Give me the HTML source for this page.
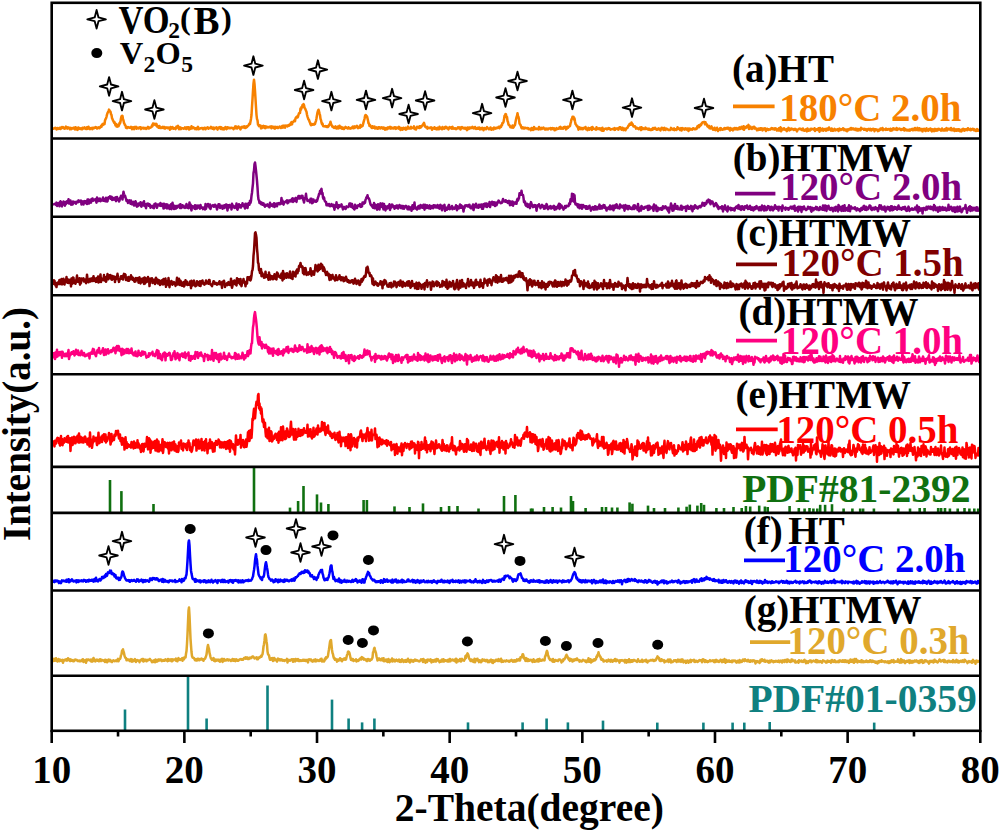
<!DOCTYPE html>
<html><head><meta charset="utf-8"><style>html,body{margin:0;padding:0;background:#fff;width:1000px;height:830px;overflow:hidden}svg{display:block}</style></head>
<body><svg width="1000" height="830" viewBox="0 0 1000 830">
<rect width="1000" height="830" fill="#fff"/>
<path d="M53.0,128.6 L53.5,128.8 L54.0,128.3 L54.5,127.9 L55.0,128.2 L55.5,127.8 L56.0,128.6 L56.5,129.5 L57.0,128.2 L57.5,128.1 L58.0,128.9 L58.5,128.8 L59.0,128.6 L59.5,127.8 L60.0,128.5 L60.5,129.0 L61.0,127.5 L61.5,128.2 L62.0,127.1 L62.5,127.5 L63.0,127.1 L63.5,128.3 L64.0,127.6 L64.5,128.7 L65.0,128.6 L65.5,128.4 L66.0,126.6 L66.5,128.1 L67.0,128.4 L67.5,128.6 L68.0,127.3 L68.5,128.1 L69.0,127.7 L69.5,127.9 L70.0,129.3 L70.5,127.9 L71.0,128.4 L71.5,129.1 L72.0,128.0 L72.5,128.4 L73.0,128.5 L73.5,128.5 L74.0,127.5 L74.5,128.5 L75.0,129.5 L75.5,127.3 L76.0,129.1 L76.5,128.5 L77.0,127.9 L77.5,129.9 L78.0,129.0 L78.5,127.5 L79.0,128.4 L79.5,128.8 L80.0,128.2 L80.5,128.9 L81.0,128.3 L81.5,128.9 L82.0,129.4 L82.5,127.8 L83.0,128.5 L83.5,128.0 L84.0,128.4 L84.5,127.4 L85.0,127.9 L85.5,128.2 L86.0,129.0 L86.5,129.1 L87.0,127.3 L87.5,127.7 L88.0,128.7 L88.5,126.7 L89.0,127.9 L89.5,128.1 L90.0,129.1 L90.5,128.7 L91.0,127.9 L91.5,127.9 L92.0,127.9 L92.5,129.2 L93.0,127.7 L93.5,127.8 L94.0,128.3 L94.5,127.9 L95.0,127.8 L95.5,127.1 L96.0,127.8 L96.5,127.5 L97.0,128.6 L97.5,128.2 L98.0,127.6 L98.5,128.0 L99.0,127.2 L99.5,128.1 L100.0,127.2 L100.5,127.4 L101.0,125.8 L101.5,126.8 L102.0,124.9 L102.5,124.1 L103.0,124.9 L103.5,123.7 L104.0,123.6 L104.5,124.1 L105.0,120.5 L105.5,119.2 L106.0,118.3 L106.5,116.8 L107.0,114.6 L107.5,113.0 L108.0,112.3 L108.5,111.2 L109.0,109.6 L109.5,110.5 L110.0,111.3 L110.5,111.7 L111.0,114.2 L111.5,115.0 L112.0,118.1 L112.5,119.1 L113.0,120.5 L113.5,121.2 L114.0,122.7 L114.5,122.2 L115.0,123.6 L115.5,125.3 L116.0,123.9 L116.5,126.4 L117.0,124.7 L117.5,126.6 L118.0,125.3 L118.5,126.3 L119.0,125.2 L119.5,122.9 L120.0,123.5 L120.5,121.6 L121.0,118.3 L121.5,116.3 L122.0,115.7 L122.5,115.9 L123.0,119.4 L123.5,120.4 L124.0,122.9 L124.5,123.9 L125.0,125.2 L125.5,125.5 L126.0,127.8 L126.5,127.1 L127.0,128.1 L127.5,127.5 L128.0,127.1 L128.5,127.4 L129.0,127.3 L129.5,127.8 L130.0,127.6 L130.5,127.7 L131.0,126.9 L131.5,127.3 L132.0,129.2 L132.5,127.5 L133.0,127.2 L133.5,128.3 L134.0,129.1 L134.5,127.0 L135.0,127.9 L135.5,127.6 L136.0,126.8 L136.5,128.7 L137.0,128.1 L137.5,128.2 L138.0,127.6 L138.5,128.5 L139.0,127.7 L139.5,128.0 L140.0,127.3 L140.5,127.2 L141.0,129.1 L141.5,127.7 L142.0,128.3 L142.5,128.1 L143.0,127.8 L143.5,127.7 L144.0,128.6 L144.5,127.9 L145.0,128.0 L145.5,128.1 L146.0,128.9 L146.5,128.5 L147.0,128.3 L147.5,127.5 L148.0,126.9 L148.5,128.5 L149.0,128.4 L149.5,127.5 L150.0,127.8 L150.5,127.6 L151.0,127.3 L151.5,126.9 L152.0,125.3 L152.5,126.1 L153.0,123.4 L153.5,124.4 L154.0,123.7 L154.5,123.9 L155.0,124.9 L155.5,125.1 L156.0,123.7 L156.5,124.0 L157.0,126.5 L157.5,125.7 L158.0,126.8 L158.5,127.8 L159.0,126.2 L159.5,126.1 L160.0,128.0 L160.5,127.9 L161.0,127.7 L161.5,128.0 L162.0,127.4 L162.5,126.9 L163.0,127.9 L163.5,127.4 L164.0,126.9 L164.5,128.5 L165.0,128.1 L165.5,128.4 L166.0,127.4 L166.5,127.7 L167.0,127.4 L167.5,127.5 L168.0,128.3 L168.5,127.6 L169.0,128.4 L169.5,128.4 L170.0,129.7 L170.5,127.1 L171.0,128.9 L171.5,128.1 L172.0,128.2 L172.5,127.1 L173.0,127.9 L173.5,128.8 L174.0,128.1 L174.5,128.3 L175.0,128.0 L175.5,129.1 L176.0,128.2 L176.5,126.6 L177.0,127.7 L177.5,126.7 L178.0,125.8 L178.5,127.8 L179.0,129.2 L179.5,128.2 L180.0,127.3 L180.5,127.5 L181.0,129.1 L181.5,128.3 L182.0,128.2 L182.5,128.2 L183.0,128.2 L183.5,128.8 L184.0,128.6 L184.5,128.4 L185.0,127.4 L185.5,128.6 L186.0,127.7 L186.5,129.0 L187.0,127.2 L187.5,128.1 L188.0,128.2 L188.5,127.2 L189.0,129.5 L189.5,129.3 L190.0,127.8 L190.5,128.8 L191.0,128.5 L191.5,126.2 L192.0,128.4 L192.5,128.1 L193.0,128.2 L193.5,127.4 L194.0,128.0 L194.5,128.0 L195.0,129.1 L195.5,128.4 L196.0,128.2 L196.5,129.3 L197.0,127.8 L197.5,127.9 L198.0,126.8 L198.5,129.3 L199.0,128.9 L199.5,128.9 L200.0,128.7 L200.5,128.2 L201.0,128.3 L201.5,128.0 L202.0,128.0 L202.5,128.2 L203.0,129.3 L203.5,128.6 L204.0,128.1 L204.5,127.7 L205.0,127.7 L205.5,129.3 L206.0,128.5 L206.5,128.2 L207.0,127.9 L207.5,127.3 L208.0,128.1 L208.5,128.8 L209.0,127.8 L209.5,128.0 L210.0,128.0 L210.5,128.2 L211.0,126.9 L211.5,127.9 L212.0,127.5 L212.5,128.8 L213.0,127.5 L213.5,128.5 L214.0,129.3 L214.5,127.9 L215.0,127.7 L215.5,128.2 L216.0,128.1 L216.5,127.3 L217.0,128.4 L217.5,129.6 L218.0,127.9 L218.5,127.9 L219.0,127.3 L219.5,128.3 L220.0,127.1 L220.5,127.2 L221.0,129.0 L221.5,127.4 L222.0,128.9 L222.5,129.2 L223.0,128.2 L223.5,128.5 L224.0,129.5 L224.5,127.9 L225.0,127.6 L225.5,127.0 L226.0,128.1 L226.5,129.1 L227.0,128.7 L227.5,127.3 L228.0,127.4 L228.5,127.6 L229.0,128.2 L229.5,127.8 L230.0,128.1 L230.5,128.2 L231.0,127.7 L231.5,127.9 L232.0,128.1 L232.5,127.9 L233.0,128.3 L233.5,129.3 L234.0,128.3 L234.5,127.9 L235.0,126.6 L235.5,128.2 L236.0,126.4 L236.5,126.8 L237.0,128.5 L237.5,128.3 L238.0,127.7 L238.5,126.5 L239.0,127.5 L239.5,127.2 L240.0,128.2 L240.5,129.4 L241.0,127.8 L241.5,127.0 L242.0,126.7 L242.5,127.5 L243.0,127.3 L243.5,126.5 L244.0,127.4 L244.5,126.4 L245.0,128.0 L245.5,127.9 L246.0,127.7 L246.5,126.4 L247.0,127.0 L247.5,126.3 L248.0,125.8 L248.5,125.5 L249.0,124.3 L249.5,123.5 L250.0,124.1 L250.5,121.6 L251.0,118.9 L251.5,115.0 L252.0,106.6 L252.5,99.1 L253.0,90.9 L253.5,83.4 L254.0,79.7 L254.5,83.9 L255.0,90.9 L255.5,98.8 L256.0,107.2 L256.5,114.8 L257.0,119.1 L257.5,120.2 L258.0,124.5 L258.5,125.0 L259.0,126.2 L259.5,125.4 L260.0,125.8 L260.5,125.5 L261.0,128.4 L261.5,126.5 L262.0,128.0 L262.5,126.4 L263.0,127.1 L263.5,125.8 L264.0,126.9 L264.5,128.0 L265.0,126.3 L265.5,128.1 L266.0,127.6 L266.5,126.6 L267.0,127.0 L267.5,127.1 L268.0,127.4 L268.5,127.1 L269.0,126.9 L269.5,127.3 L270.0,126.7 L270.5,126.5 L271.0,127.5 L271.5,128.2 L272.0,126.4 L272.5,127.5 L273.0,127.0 L273.5,126.8 L274.0,128.2 L274.5,127.1 L275.0,128.6 L275.5,126.9 L276.0,127.8 L276.5,127.3 L277.0,126.9 L277.5,127.9 L278.0,127.3 L278.5,127.9 L279.0,127.4 L279.5,126.5 L280.0,127.3 L280.5,127.3 L281.0,128.0 L281.5,126.6 L282.0,127.2 L282.5,125.9 L283.0,127.6 L283.5,126.2 L284.0,125.6 L284.5,126.9 L285.0,127.7 L285.5,125.6 L286.0,125.8 L286.5,125.9 L287.0,125.5 L287.5,126.4 L288.0,125.3 L288.5,125.1 L289.0,125.8 L289.5,124.5 L290.0,125.0 L290.5,123.6 L291.0,123.0 L291.5,122.1 L292.0,124.4 L292.5,122.2 L293.0,122.1 L293.5,121.4 L294.0,121.0 L294.5,120.3 L295.0,121.2 L295.5,118.4 L296.0,117.5 L296.5,117.3 L297.0,116.5 L297.5,117.4 L298.0,116.7 L298.5,114.6 L299.0,113.3 L299.5,112.9 L300.0,113.0 L300.5,108.5 L301.0,109.7 L301.5,107.1 L302.0,107.5 L302.5,105.0 L303.0,105.1 L303.5,104.1 L304.0,105.0 L304.5,107.7 L305.0,108.6 L305.5,109.3 L306.0,110.8 L306.5,111.8 L307.0,114.7 L307.5,116.6 L308.0,118.1 L308.5,119.5 L309.0,119.9 L309.5,121.7 L310.0,122.6 L310.5,124.3 L311.0,125.3 L311.5,124.2 L312.0,124.0 L312.5,124.8 L313.0,124.4 L313.5,124.3 L314.0,124.6 L314.5,123.5 L315.0,124.0 L315.5,122.2 L316.0,120.8 L316.5,118.3 L317.0,115.2 L317.5,112.4 L318.0,110.8 L318.5,109.7 L319.0,111.2 L319.5,113.3 L320.0,115.0 L320.5,118.8 L321.0,120.1 L321.5,122.5 L322.0,124.0 L322.5,123.6 L323.0,125.8 L323.5,126.3 L324.0,126.3 L324.5,126.3 L325.0,126.4 L325.5,126.1 L326.0,126.7 L326.5,126.5 L327.0,127.0 L327.5,126.0 L328.0,126.9 L328.5,126.4 L329.0,125.5 L329.5,124.3 L330.0,123.9 L330.5,121.7 L331.0,123.9 L331.5,124.9 L332.0,126.0 L332.5,126.9 L333.0,126.5 L333.5,127.1 L334.0,127.9 L334.5,127.8 L335.0,127.7 L335.5,126.4 L336.0,128.0 L336.5,128.5 L337.0,128.4 L337.5,127.8 L338.0,126.5 L338.5,128.4 L339.0,127.6 L339.5,125.8 L340.0,128.0 L340.5,126.6 L341.0,126.8 L341.5,127.3 L342.0,128.7 L342.5,127.5 L343.0,128.0 L343.5,129.1 L344.0,129.0 L344.5,127.7 L345.0,127.6 L345.5,126.9 L346.0,127.3 L346.5,128.1 L347.0,128.1 L347.5,127.9 L348.0,128.6 L348.5,127.2 L349.0,127.8 L349.5,128.4 L350.0,128.2 L350.5,128.6 L351.0,128.1 L351.5,127.6 L352.0,128.1 L352.5,127.0 L353.0,126.5 L353.5,128.2 L354.0,127.7 L354.5,128.0 L355.0,126.4 L355.5,127.4 L356.0,127.2 L356.5,127.0 L357.0,125.9 L357.5,127.3 L358.0,128.2 L358.5,127.7 L359.0,126.9 L359.5,127.3 L360.0,127.7 L360.5,124.9 L361.0,126.6 L361.5,126.7 L362.0,126.2 L362.5,126.1 L363.0,124.5 L363.5,122.4 L364.0,120.6 L364.5,119.0 L365.0,116.1 L365.5,115.1 L366.0,115.2 L366.5,116.6 L367.0,116.4 L367.5,118.4 L368.0,120.5 L368.5,123.2 L369.0,123.6 L369.5,125.9 L370.0,125.0 L370.5,126.1 L371.0,126.6 L371.5,127.6 L372.0,128.0 L372.5,126.2 L373.0,126.7 L373.5,127.8 L374.0,127.1 L374.5,126.5 L375.0,128.5 L375.5,128.1 L376.0,128.1 L376.5,127.4 L377.0,128.6 L377.5,127.7 L378.0,128.7 L378.5,127.2 L379.0,127.3 L379.5,128.1 L380.0,127.4 L380.5,128.4 L381.0,128.1 L381.5,127.3 L382.0,128.0 L382.5,127.7 L383.0,128.7 L383.5,127.5 L384.0,127.7 L384.5,128.9 L385.0,129.7 L385.5,129.5 L386.0,128.1 L386.5,128.2 L387.0,129.2 L387.5,127.9 L388.0,127.3 L388.5,128.1 L389.0,128.4 L389.5,127.4 L390.0,126.8 L390.5,127.0 L391.0,128.6 L391.5,127.5 L392.0,128.0 L392.5,128.2 L393.0,128.5 L393.5,127.8 L394.0,128.5 L394.5,127.4 L395.0,127.8 L395.5,127.3 L396.0,128.9 L396.5,128.1 L397.0,127.5 L397.5,127.8 L398.0,127.9 L398.5,128.6 L399.0,126.9 L399.5,127.3 L400.0,127.8 L400.5,130.0 L401.0,128.8 L401.5,128.0 L402.0,128.7 L402.5,129.7 L403.0,127.9 L403.5,127.8 L404.0,129.0 L404.5,128.5 L405.0,128.6 L405.5,127.7 L406.0,129.6 L406.5,129.4 L407.0,128.6 L407.5,128.6 L408.0,126.6 L408.5,128.6 L409.0,128.0 L409.5,128.5 L410.0,128.6 L410.5,127.9 L411.0,126.9 L411.5,128.4 L412.0,127.6 L412.5,127.9 L413.0,127.7 L413.5,127.8 L414.0,126.4 L414.5,129.0 L415.0,128.3 L415.5,128.9 L416.0,129.5 L416.5,128.1 L417.0,126.7 L417.5,127.3 L418.0,127.1 L418.5,127.6 L419.0,127.9 L419.5,126.3 L420.0,127.9 L420.5,126.3 L421.0,127.3 L421.5,126.6 L422.0,125.8 L422.5,125.4 L423.0,124.4 L423.5,123.9 L424.0,122.9 L424.5,124.5 L425.0,126.4 L425.5,127.2 L426.0,127.3 L426.5,127.4 L427.0,126.7 L427.5,128.6 L428.0,127.7 L428.5,127.8 L429.0,127.7 L429.5,128.1 L430.0,127.7 L430.5,128.0 L431.0,127.3 L431.5,127.8 L432.0,129.8 L432.5,128.1 L433.0,128.0 L433.5,128.5 L434.0,128.7 L434.5,127.3 L435.0,128.0 L435.5,128.9 L436.0,128.4 L436.5,128.3 L437.0,129.4 L437.5,127.7 L438.0,128.3 L438.5,127.8 L439.0,129.3 L439.5,126.7 L440.0,127.7 L440.5,127.8 L441.0,128.7 L441.5,128.7 L442.0,129.3 L442.5,127.0 L443.0,128.8 L443.5,128.0 L444.0,127.7 L444.5,128.6 L445.0,127.5 L445.5,126.7 L446.0,128.0 L446.5,127.1 L447.0,127.8 L447.5,128.5 L448.0,128.5 L448.5,129.4 L449.0,128.1 L449.5,127.1 L450.0,127.7 L450.5,127.6 L451.0,127.3 L451.5,128.6 L452.0,127.8 L452.5,126.8 L453.0,128.8 L453.5,128.2 L454.0,128.5 L454.5,128.3 L455.0,128.7 L455.5,128.3 L456.0,129.2 L456.5,128.6 L457.0,128.6 L457.5,128.6 L458.0,127.2 L458.5,128.2 L459.0,128.1 L459.5,128.4 L460.0,127.3 L460.5,129.5 L461.0,128.4 L461.5,127.4 L462.0,127.0 L462.5,128.1 L463.0,128.2 L463.5,127.8 L464.0,128.4 L464.5,127.8 L465.0,128.7 L465.5,127.8 L466.0,128.3 L466.5,129.1 L467.0,130.2 L467.5,127.6 L468.0,128.0 L468.5,127.7 L469.0,128.9 L469.5,127.5 L470.0,128.0 L470.5,128.3 L471.0,127.6 L471.5,127.6 L472.0,128.0 L472.5,126.8 L473.0,127.3 L473.5,128.0 L474.0,128.5 L474.5,128.2 L475.0,127.0 L475.5,128.0 L476.0,128.9 L476.5,128.8 L477.0,128.3 L477.5,127.7 L478.0,128.8 L478.5,127.9 L479.0,127.5 L479.5,127.7 L480.0,129.4 L480.5,128.5 L481.0,129.2 L481.5,128.0 L482.0,129.0 L482.5,127.9 L483.0,128.2 L483.5,130.2 L484.0,128.9 L484.5,128.0 L485.0,128.3 L485.5,128.6 L486.0,129.2 L486.5,128.0 L487.0,127.0 L487.5,128.1 L488.0,128.3 L488.5,128.4 L489.0,129.3 L489.5,128.5 L490.0,128.9 L490.5,127.5 L491.0,128.9 L491.5,129.8 L492.0,128.8 L492.5,128.4 L493.0,128.3 L493.5,129.5 L494.0,127.5 L494.5,128.1 L495.0,128.5 L495.5,128.7 L496.0,127.7 L496.5,128.3 L497.0,127.8 L497.5,128.0 L498.0,127.7 L498.5,126.9 L499.0,127.6 L499.5,128.2 L500.0,126.6 L500.5,126.8 L501.0,127.0 L501.5,125.1 L502.0,125.1 L502.5,122.9 L503.0,123.0 L503.5,121.9 L504.0,119.6 L504.5,115.9 L505.0,115.0 L505.5,114.0 L506.0,114.5 L506.5,117.2 L507.0,117.0 L507.5,120.9 L508.0,122.0 L508.5,124.6 L509.0,124.9 L509.5,125.2 L510.0,126.5 L510.5,127.2 L511.0,127.0 L511.5,127.4 L512.0,126.7 L512.5,125.5 L513.0,127.7 L513.5,127.3 L514.0,126.4 L514.5,125.5 L515.0,125.0 L515.5,122.0 L516.0,119.5 L516.5,117.3 L517.0,116.1 L517.5,113.3 L518.0,116.2 L518.5,117.0 L519.0,119.3 L519.5,123.5 L520.0,124.4 L520.5,124.8 L521.0,126.3 L521.5,127.9 L522.0,128.4 L522.5,127.4 L523.0,128.2 L523.5,128.5 L524.0,127.6 L524.5,128.4 L525.0,128.1 L525.5,127.8 L526.0,127.9 L526.5,128.3 L527.0,128.3 L527.5,127.9 L528.0,128.1 L528.5,129.2 L529.0,128.6 L529.5,129.1 L530.0,129.3 L530.5,128.9 L531.0,130.2 L531.5,127.9 L532.0,129.1 L532.5,128.3 L533.0,129.9 L533.5,129.8 L534.0,127.1 L534.5,127.8 L535.0,129.0 L535.5,129.1 L536.0,129.1 L536.5,128.5 L537.0,128.9 L537.5,129.1 L538.0,128.5 L538.5,129.4 L539.0,126.9 L539.5,129.1 L540.0,127.8 L540.5,129.3 L541.0,128.4 L541.5,127.9 L542.0,128.9 L542.5,127.9 L543.0,127.9 L543.5,127.5 L544.0,128.6 L544.5,129.0 L545.0,129.4 L545.5,128.5 L546.0,129.4 L546.5,128.7 L547.0,128.6 L547.5,129.1 L548.0,129.4 L548.5,128.4 L549.0,128.5 L549.5,128.5 L550.0,128.7 L550.5,128.0 L551.0,129.4 L551.5,128.4 L552.0,129.0 L552.5,128.0 L553.0,128.9 L553.5,128.9 L554.0,128.3 L554.5,130.2 L555.0,128.9 L555.5,130.0 L556.0,129.4 L556.5,128.1 L557.0,128.3 L557.5,129.0 L558.0,128.7 L558.5,128.7 L559.0,128.4 L559.5,127.2 L560.0,128.4 L560.5,126.9 L561.0,128.8 L561.5,128.0 L562.0,128.0 L562.5,128.3 L563.0,128.7 L563.5,127.4 L564.0,127.1 L564.5,127.6 L565.0,126.8 L565.5,127.6 L566.0,129.4 L566.5,127.3 L567.0,128.5 L567.5,126.8 L568.0,127.8 L568.5,126.9 L569.0,126.6 L569.5,126.3 L570.0,126.1 L570.5,123.5 L571.0,121.8 L571.5,119.2 L572.0,118.6 L572.5,116.7 L573.0,117.0 L573.5,116.8 L574.0,119.5 L574.5,118.4 L575.0,121.5 L575.5,124.1 L576.0,124.5 L576.5,125.3 L577.0,126.5 L577.5,126.2 L578.0,127.7 L578.5,129.7 L579.0,128.9 L579.5,127.4 L580.0,127.6 L580.5,128.1 L581.0,129.2 L581.5,127.9 L582.0,128.0 L582.5,129.2 L583.0,129.2 L583.5,128.3 L584.0,127.8 L584.5,127.5 L585.0,128.2 L585.5,127.0 L586.0,129.3 L586.5,128.3 L587.0,129.1 L587.5,130.2 L588.0,129.7 L588.5,127.9 L589.0,129.4 L589.5,129.7 L590.0,128.3 L590.5,128.1 L591.0,128.7 L591.5,127.6 L592.0,129.9 L592.5,127.0 L593.0,128.0 L593.5,128.7 L594.0,128.7 L594.5,129.0 L595.0,129.1 L595.5,128.7 L596.0,129.7 L596.5,127.3 L597.0,128.9 L597.5,128.4 L598.0,129.0 L598.5,129.1 L599.0,128.2 L599.5,128.4 L600.0,129.5 L600.5,129.2 L601.0,128.4 L601.5,130.5 L602.0,130.7 L602.5,127.8 L603.0,129.2 L603.5,130.8 L604.0,129.5 L604.5,129.1 L605.0,128.8 L605.5,128.5 L606.0,128.8 L606.5,128.5 L607.0,129.5 L607.5,128.6 L608.0,128.6 L608.5,128.0 L609.0,128.9 L609.5,128.3 L610.0,128.8 L610.5,129.7 L611.0,129.2 L611.5,129.3 L612.0,129.2 L612.5,129.0 L613.0,128.8 L613.5,128.7 L614.0,129.5 L614.5,128.1 L615.0,129.9 L615.5,128.9 L616.0,128.4 L616.5,128.5 L617.0,128.4 L617.5,129.0 L618.0,128.4 L618.5,129.7 L619.0,128.3 L619.5,127.2 L620.0,128.3 L620.5,127.3 L621.0,128.8 L621.5,129.6 L622.0,129.3 L622.5,127.8 L623.0,128.2 L623.5,130.1 L624.0,128.9 L624.5,128.6 L625.0,129.4 L625.5,130.3 L626.0,129.3 L626.5,128.2 L627.0,128.1 L627.5,127.9 L628.0,126.5 L628.5,125.5 L629.0,125.6 L629.5,124.1 L630.0,124.0 L630.5,123.5 L631.0,124.8 L631.5,122.5 L632.0,123.4 L632.5,124.1 L633.0,125.3 L633.5,126.5 L634.0,126.1 L634.5,126.4 L635.0,126.3 L635.5,127.2 L636.0,128.6 L636.5,128.4 L637.0,127.7 L637.5,128.3 L638.0,128.7 L638.5,129.1 L639.0,128.3 L639.5,128.6 L640.0,127.5 L640.5,128.0 L641.0,130.1 L641.5,127.2 L642.0,128.7 L642.5,129.1 L643.0,128.6 L643.5,128.3 L644.0,128.9 L644.5,129.0 L645.0,128.9 L645.5,127.6 L646.0,128.9 L646.5,128.3 L647.0,128.6 L647.5,129.2 L648.0,129.5 L648.5,129.7 L649.0,128.6 L649.5,129.7 L650.0,129.9 L650.5,129.9 L651.0,130.1 L651.5,128.9 L652.0,128.9 L652.5,129.7 L653.0,128.0 L653.5,129.2 L654.0,128.6 L654.5,128.8 L655.0,127.7 L655.5,128.4 L656.0,129.0 L656.5,129.7 L657.0,129.8 L657.5,129.0 L658.0,128.9 L658.5,128.4 L659.0,129.4 L659.5,128.9 L660.0,129.5 L660.5,130.4 L661.0,129.0 L661.5,127.9 L662.0,128.4 L662.5,128.0 L663.0,128.2 L663.5,130.0 L664.0,129.2 L664.5,127.9 L665.0,129.6 L665.5,130.0 L666.0,128.8 L666.5,128.6 L667.0,128.8 L667.5,129.3 L668.0,129.6 L668.5,130.0 L669.0,130.0 L669.5,130.0 L670.0,130.1 L670.5,129.6 L671.0,127.9 L671.5,129.0 L672.0,129.3 L672.5,128.8 L673.0,129.8 L673.5,128.8 L674.0,128.4 L674.5,130.1 L675.0,129.6 L675.5,129.2 L676.0,129.8 L676.5,129.9 L677.0,129.3 L677.5,127.2 L678.0,128.5 L678.5,128.7 L679.0,128.3 L679.5,129.2 L680.0,129.9 L680.5,128.7 L681.0,128.2 L681.5,130.6 L682.0,128.7 L682.5,128.1 L683.0,129.2 L683.5,129.3 L684.0,128.5 L684.5,129.6 L685.0,128.6 L685.5,128.3 L686.0,129.1 L686.5,129.6 L687.0,128.5 L687.5,129.2 L688.0,128.9 L688.5,131.0 L689.0,128.4 L689.5,129.9 L690.0,128.8 L690.5,128.8 L691.0,129.4 L691.5,129.5 L692.0,129.7 L692.5,129.0 L693.0,128.2 L693.5,128.2 L694.0,128.9 L694.5,128.9 L695.0,129.4 L695.5,128.5 L696.0,128.9 L696.5,129.0 L697.0,127.7 L697.5,126.2 L698.0,126.1 L698.5,125.5 L699.0,127.3 L699.5,124.9 L700.0,126.0 L700.5,124.9 L701.0,125.2 L701.5,124.1 L702.0,122.8 L702.5,122.3 L703.0,122.3 L703.5,122.3 L704.0,121.9 L704.5,122.6 L705.0,124.3 L705.5,122.3 L706.0,124.3 L706.5,124.0 L707.0,125.4 L707.5,126.4 L708.0,126.2 L708.5,127.3 L709.0,125.9 L709.5,128.3 L710.0,127.3 L710.5,128.4 L711.0,128.3 L711.5,126.4 L712.0,127.9 L712.5,128.7 L713.0,129.8 L713.5,128.9 L714.0,128.9 L714.5,127.7 L715.0,129.9 L715.5,130.2 L716.0,128.9 L716.5,128.7 L717.0,127.7 L717.5,129.6 L718.0,131.0 L718.5,129.5 L719.0,129.9 L719.5,129.4 L720.0,128.3 L720.5,130.0 L721.0,128.1 L721.5,128.9 L722.0,129.3 L722.5,129.7 L723.0,129.4 L723.5,129.4 L724.0,128.5 L724.5,128.1 L725.0,129.1 L725.5,128.6 L726.0,128.1 L726.5,128.1 L727.0,128.7 L727.5,127.7 L728.0,128.1 L728.5,127.9 L729.0,129.2 L729.5,129.4 L730.0,130.6 L730.5,128.0 L731.0,128.6 L731.5,129.8 L732.0,128.9 L732.5,128.8 L733.0,130.4 L733.5,128.8 L734.0,128.2 L734.5,128.1 L735.0,129.3 L735.5,129.3 L736.0,128.0 L736.5,128.3 L737.0,129.4 L737.5,129.4 L738.0,128.4 L738.5,129.3 L739.0,129.2 L739.5,127.4 L740.0,128.4 L740.5,128.9 L741.0,128.1 L741.5,126.8 L742.0,128.1 L742.5,128.7 L743.0,129.2 L743.5,126.2 L744.0,129.7 L744.5,126.7 L745.0,128.1 L745.5,128.1 L746.0,127.8 L746.5,127.1 L747.0,126.0 L747.5,127.3 L748.0,126.2 L748.5,124.9 L749.0,129.0 L749.5,127.5 L750.0,128.5 L750.5,126.6 L751.0,128.5 L751.5,128.8 L752.0,128.9 L752.5,127.9 L753.0,127.1 L753.5,128.1 L754.0,126.7 L754.5,127.2 L755.0,128.6 L755.5,127.9 L756.0,128.6 L756.5,128.7 L757.0,130.3 L757.5,129.9 L758.0,128.9 L758.5,129.9 L759.0,128.5 L759.5,128.8 L760.0,129.8 L760.5,128.2 L761.0,128.9 L761.5,128.2 L762.0,129.3 L762.5,130.4 L763.0,128.6 L763.5,129.4 L764.0,128.5 L764.5,128.4 L765.0,128.3 L765.5,130.3 L766.0,131.0 L766.5,129.6 L767.0,128.7 L767.5,129.8 L768.0,129.0 L768.5,129.9 L769.0,129.5 L769.5,129.5 L770.0,129.7 L770.5,128.8 L771.0,129.0 L771.5,128.0 L772.0,129.0 L772.5,128.2 L773.0,129.2 L773.5,128.6 L774.0,129.4 L774.5,129.6 L775.0,128.2 L775.5,128.7 L776.0,128.6 L776.5,129.9 L777.0,130.6 L777.5,130.0 L778.0,129.1 L778.5,130.4 L779.0,128.2 L779.5,130.5 L780.0,128.8 L780.5,127.3 L781.0,131.3 L781.5,130.5 L782.0,128.6 L782.5,129.5 L783.0,129.2 L783.5,129.4 L784.0,128.2 L784.5,128.8 L785.0,129.7 L785.5,129.5 L786.0,130.3 L786.5,129.4 L787.0,131.1 L787.5,128.8 L788.0,129.6 L788.5,127.9 L789.0,128.4 L789.5,130.4 L790.0,128.7 L790.5,129.8 L791.0,129.3 L791.5,128.6 L792.0,129.1 L792.5,129.0 L793.0,129.0 L793.5,129.9 L794.0,129.9 L794.5,129.0 L795.0,128.7 L795.5,129.6 L796.0,129.3 L796.5,130.2 L797.0,131.4 L797.5,130.0 L798.0,129.4 L798.5,129.3 L799.0,128.8 L799.5,128.7 L800.0,128.6 L800.5,129.1 L801.0,129.1 L801.5,130.0 L802.0,129.1 L802.5,129.3 L803.0,128.5 L803.5,130.6 L804.0,129.8 L804.5,130.8 L805.0,130.0 L805.5,130.5 L806.0,129.2 L806.5,130.0 L807.0,131.4 L807.5,128.5 L808.0,130.3 L808.5,130.7 L809.0,129.7 L809.5,130.0 L810.0,130.4 L810.5,128.9 L811.0,129.7 L811.5,128.8 L812.0,128.9 L812.5,129.0 L813.0,129.3 L813.5,129.5 L814.0,129.8 L814.5,128.3 L815.0,131.0 L815.5,130.3 L816.0,130.0 L816.5,129.2 L817.0,129.4 L817.5,129.9 L818.0,129.8 L818.5,128.2 L819.0,130.0 L819.5,131.7 L820.0,128.0 L820.5,130.2 L821.0,129.7 L821.5,129.4 L822.0,130.5 L822.5,128.5 L823.0,129.6 L823.5,130.6 L824.0,129.3 L824.5,129.1 L825.0,129.5 L825.5,129.1 L826.0,130.7 L826.5,128.8 L827.0,130.1 L827.5,128.5 L828.0,130.0 L828.5,129.4 L829.0,127.5 L829.5,129.5 L830.0,128.7 L830.5,129.1 L831.0,130.7 L831.5,128.6 L832.0,128.7 L832.5,130.6 L833.0,129.6 L833.5,130.7 L834.0,129.7 L834.5,128.8 L835.0,129.4 L835.5,130.4 L836.0,130.2 L836.5,129.5 L837.0,129.5 L837.5,129.4 L838.0,129.0 L838.5,131.0 L839.0,129.5 L839.5,128.6 L840.0,129.1 L840.5,130.1 L841.0,130.0 L841.5,129.4 L842.0,129.0 L842.5,129.5 L843.0,128.2 L843.5,128.5 L844.0,130.1 L844.5,129.1 L845.0,129.8 L845.5,130.4 L846.0,130.0 L846.5,129.5 L847.0,131.2 L847.5,130.0 L848.0,129.2 L848.5,130.1 L849.0,129.8 L849.5,128.9 L850.0,129.6 L850.5,129.4 L851.0,128.0 L851.5,129.4 L852.0,129.3 L852.5,129.2 L853.0,128.3 L853.5,129.3 L854.0,129.5 L854.5,129.6 L855.0,128.7 L855.5,130.0 L856.0,128.6 L856.5,129.4 L857.0,130.5 L857.5,129.0 L858.0,129.1 L858.5,130.4 L859.0,129.2 L859.5,129.3 L860.0,129.7 L860.5,130.3 L861.0,127.8 L861.5,128.9 L862.0,128.8 L862.5,128.7 L863.0,128.9 L863.5,128.9 L864.0,129.8 L864.5,128.9 L865.0,129.6 L865.5,129.9 L866.0,129.0 L866.5,129.7 L867.0,130.8 L867.5,129.8 L868.0,129.1 L868.5,129.5 L869.0,128.9 L869.5,129.8 L870.0,130.2 L870.5,128.9 L871.0,129.4 L871.5,130.4 L872.0,129.2 L872.5,129.7 L873.0,128.8 L873.5,128.9 L874.0,129.2 L874.5,131.2 L875.0,129.3 L875.5,129.2 L876.0,129.2 L876.5,129.5 L877.0,130.1 L877.5,129.7 L878.0,131.1 L878.5,129.7 L879.0,130.7 L879.5,129.8 L880.0,130.0 L880.5,128.5 L881.0,129.5 L881.5,129.5 L882.0,129.4 L882.5,128.0 L883.0,130.3 L883.5,129.3 L884.0,129.3 L884.5,129.4 L885.0,129.4 L885.5,129.9 L886.0,128.6 L886.5,128.9 L887.0,129.8 L887.5,129.7 L888.0,129.3 L888.5,129.2 L889.0,129.0 L889.5,129.6 L890.0,130.5 L890.5,128.8 L891.0,130.7 L891.5,130.2 L892.0,129.3 L892.5,130.2 L893.0,128.5 L893.5,128.3 L894.0,128.6 L894.5,129.3 L895.0,129.4 L895.5,129.2 L896.0,129.7 L896.5,128.0 L897.0,130.0 L897.5,128.6 L898.0,129.1 L898.5,129.3 L899.0,128.8 L899.5,128.6 L900.0,128.9 L900.5,129.6 L901.0,130.1 L901.5,130.1 L902.0,128.9 L902.5,129.0 L903.0,128.9 L903.5,130.0 L904.0,128.1 L904.5,130.6 L905.0,129.3 L905.5,129.1 L906.0,129.9 L906.5,130.4 L907.0,129.9 L907.5,130.4 L908.0,129.7 L908.5,130.6 L909.0,130.6 L909.5,129.6 L910.0,130.7 L910.5,129.8 L911.0,129.7 L911.5,129.0 L912.0,129.4 L912.5,130.2 L913.0,128.7 L913.5,130.1 L914.0,129.9 L914.5,129.9 L915.0,128.0 L915.5,129.6 L916.0,130.1 L916.5,129.1 L917.0,129.7 L917.5,127.9 L918.0,130.2 L918.5,129.2 L919.0,130.3 L919.5,128.3 L920.0,130.2 L920.5,129.5 L921.0,130.3 L921.5,129.0 L922.0,129.2 L922.5,131.4 L923.0,129.1 L923.5,129.1 L924.0,129.5 L924.5,128.9 L925.0,130.6 L925.5,131.0 L926.0,129.2 L926.5,128.4 L927.0,130.6 L927.5,130.5 L928.0,130.3 L928.5,130.6 L929.0,129.0 L929.5,129.6 L930.0,128.7 L930.5,128.6 L931.0,130.4 L931.5,129.2 L932.0,131.4 L932.5,129.8 L933.0,129.2 L933.5,130.3 L934.0,131.1 L934.5,130.1 L935.0,128.8 L935.5,130.0 L936.0,130.7 L936.5,129.3 L937.0,129.1 L937.5,130.5 L938.0,129.8 L938.5,128.9 L939.0,129.4 L939.5,129.1 L940.0,129.9 L940.5,129.8 L941.0,130.6 L941.5,130.2 L942.0,128.5 L942.5,130.0 L943.0,130.4 L943.5,130.1 L944.0,130.5 L944.5,129.3 L945.0,129.0 L945.5,130.4 L946.0,128.9 L946.5,128.1 L947.0,130.5 L947.5,129.2 L948.0,129.5 L948.5,128.7 L949.0,128.7 L949.5,128.9 L950.0,129.5 L950.5,130.0 L951.0,128.0 L951.5,130.3 L952.0,128.9 L952.5,128.9 L953.0,130.2 L953.5,129.7 L954.0,128.6 L954.5,131.1 L955.0,129.1 L955.5,129.9 L956.0,129.9 L956.5,130.8 L957.0,129.4 L957.5,130.5 L958.0,129.2 L958.5,130.6 L959.0,129.2 L959.5,129.5 L960.0,131.2 L960.5,130.0 L961.0,129.8 L961.5,131.4 L962.0,130.0 L962.5,129.1 L963.0,130.3 L963.5,128.9 L964.0,130.6 L964.5,130.7 L965.0,129.3 L965.5,129.3 L966.0,129.9 L966.5,129.8 L967.0,129.0 L967.5,130.2 L968.0,128.2 L968.5,129.4 L969.0,129.5 L969.5,129.6 L970.0,130.0 L970.5,128.9 L971.0,130.2 L971.5,129.6 L972.0,129.3 L972.5,128.8 L973.0,128.9 L973.5,130.1 L974.0,129.1 L974.5,129.8 L975.0,130.6 L975.5,130.6 L976.0,131.0 L976.5,129.6 L977.0,129.0 L977.5,130.6 L978.0,130.0 L978.5,130.6 L979.0,129.8 L979.5,130.7" fill="none" stroke="#f78100" stroke-width="2.5" stroke-linejoin="round"/><path d="M53.0,204.7 L53.5,204.5 L54.0,204.2 L54.5,204.0 L55.0,203.7 L55.5,203.7 L56.0,204.9 L56.5,202.6 L57.0,205.9 L57.5,203.2 L58.0,204.8 L58.5,203.1 L59.0,202.9 L59.5,206.3 L60.0,202.8 L60.5,201.3 L61.0,202.1 L61.5,202.7 L62.0,206.4 L62.5,203.4 L63.0,204.5 L63.5,201.5 L64.0,203.5 L64.5,204.0 L65.0,205.6 L65.5,201.9 L66.0,203.8 L66.5,203.3 L67.0,201.3 L67.5,202.7 L68.0,202.3 L68.5,199.2 L69.0,203.6 L69.5,203.4 L70.0,201.9 L70.5,200.5 L71.0,204.7 L71.5,202.8 L72.0,203.9 L72.5,204.5 L73.0,201.5 L73.5,203.5 L74.0,201.9 L74.5,202.1 L75.0,202.0 L75.5,202.1 L76.0,203.7 L76.5,202.2 L77.0,201.7 L77.5,201.5 L78.0,202.3 L78.5,200.4 L79.0,201.0 L79.5,201.6 L80.0,200.8 L80.5,201.4 L81.0,200.6 L81.5,204.5 L82.0,203.4 L82.5,202.1 L83.0,201.3 L83.5,204.6 L84.0,201.7 L84.5,201.1 L85.0,201.6 L85.5,201.6 L86.0,203.2 L86.5,201.0 L87.0,204.1 L87.5,199.6 L88.0,201.9 L88.5,199.4 L89.0,203.5 L89.5,200.3 L90.0,200.7 L90.5,202.1 L91.0,202.6 L91.5,199.0 L92.0,200.1 L92.5,198.5 L93.0,200.8 L93.5,200.4 L94.0,200.0 L94.5,199.5 L95.0,199.9 L95.5,199.3 L96.0,201.2 L96.5,202.6 L97.0,197.4 L97.5,200.1 L98.0,199.7 L98.5,201.0 L99.0,198.8 L99.5,200.0 L100.0,198.6 L100.5,201.2 L101.0,200.2 L101.5,199.8 L102.0,200.5 L102.5,199.5 L103.0,197.5 L103.5,200.7 L104.0,200.2 L104.5,199.4 L105.0,201.1 L105.5,201.3 L106.0,197.8 L106.5,198.2 L107.0,201.6 L107.5,201.3 L108.0,198.0 L108.5,197.3 L109.0,198.0 L109.5,198.1 L110.0,196.4 L110.5,198.8 L111.0,196.8 L111.5,196.8 L112.0,199.9 L112.5,197.5 L113.0,198.4 L113.5,199.4 L114.0,199.7 L114.5,198.0 L115.0,198.5 L115.5,197.3 L116.0,201.2 L116.5,199.5 L117.0,197.0 L117.5,198.7 L118.0,199.8 L118.5,199.5 L119.0,201.5 L119.5,200.7 L120.0,197.7 L120.5,198.1 L121.0,195.8 L121.5,197.5 L122.0,196.6 L122.5,199.6 L123.0,195.1 L123.5,191.7 L124.0,194.3 L124.5,196.4 L125.0,195.5 L125.5,197.3 L126.0,199.0 L126.5,200.9 L127.0,200.7 L127.5,200.1 L128.0,203.0 L128.5,201.3 L129.0,201.5 L129.5,200.4 L130.0,201.5 L130.5,203.8 L131.0,200.5 L131.5,203.0 L132.0,204.3 L132.5,202.8 L133.0,203.8 L133.5,201.9 L134.0,205.6 L134.5,205.4 L135.0,204.2 L135.5,201.3 L136.0,202.4 L136.5,205.5 L137.0,206.7 L137.5,204.6 L138.0,206.1 L138.5,203.4 L139.0,204.1 L139.5,204.4 L140.0,205.1 L140.5,202.2 L141.0,206.0 L141.5,206.6 L142.0,203.0 L142.5,202.7 L143.0,205.3 L143.5,203.8 L144.0,201.3 L144.5,206.1 L145.0,205.2 L145.5,204.2 L146.0,208.2 L146.5,205.2 L147.0,203.9 L147.5,205.2 L148.0,203.6 L148.5,204.0 L149.0,205.8 L149.5,204.4 L150.0,204.6 L150.5,207.8 L151.0,206.6 L151.5,206.5 L152.0,206.1 L152.5,206.1 L153.0,207.6 L153.5,205.4 L154.0,208.2 L154.5,204.0 L155.0,205.1 L155.5,203.5 L156.0,205.0 L156.5,206.3 L157.0,207.8 L157.5,204.6 L158.0,205.6 L158.5,205.1 L159.0,204.6 L159.5,203.9 L160.0,205.8 L160.5,203.1 L161.0,205.9 L161.5,205.8 L162.0,204.8 L162.5,204.3 L163.0,203.7 L163.5,208.6 L164.0,203.8 L164.5,208.2 L165.0,206.8 L165.5,205.3 L166.0,204.2 L166.5,207.5 L167.0,208.5 L167.5,204.6 L168.0,205.5 L168.5,207.6 L169.0,206.5 L169.5,209.0 L170.0,205.2 L170.5,206.9 L171.0,204.2 L171.5,209.2 L172.0,205.0 L172.5,202.8 L173.0,205.9 L173.5,205.9 L174.0,209.0 L174.5,205.7 L175.0,206.2 L175.5,207.1 L176.0,208.6 L176.5,206.1 L177.0,207.8 L177.5,207.0 L178.0,205.8 L178.5,206.4 L179.0,206.3 L179.5,204.9 L180.0,208.1 L180.5,204.3 L181.0,208.1 L181.5,207.8 L182.0,206.2 L182.5,205.2 L183.0,206.1 L183.5,207.1 L184.0,207.5 L184.5,206.9 L185.0,207.9 L185.5,205.6 L186.0,206.8 L186.5,204.1 L187.0,207.7 L187.5,206.8 L188.0,205.9 L188.5,208.3 L189.0,207.6 L189.5,202.4 L190.0,206.7 L190.5,204.4 L191.0,208.2 L191.5,210.4 L192.0,205.9 L192.5,206.8 L193.0,206.3 L193.5,207.2 L194.0,207.7 L194.5,208.6 L195.0,205.2 L195.5,209.1 L196.0,205.4 L196.5,207.2 L197.0,208.5 L197.5,207.9 L198.0,205.4 L198.5,205.8 L199.0,206.1 L199.5,206.8 L200.0,208.6 L200.5,204.9 L201.0,207.5 L201.5,207.8 L202.0,207.7 L202.5,207.5 L203.0,209.1 L203.5,207.6 L204.0,208.1 L204.5,207.7 L205.0,209.5 L205.5,204.0 L206.0,208.8 L206.5,206.4 L207.0,206.4 L207.5,205.4 L208.0,204.0 L208.5,206.3 L209.0,205.8 L209.5,207.6 L210.0,204.6 L210.5,209.0 L211.0,207.2 L211.5,206.4 L212.0,205.7 L212.5,205.6 L213.0,205.1 L213.5,206.0 L214.0,206.8 L214.5,206.5 L215.0,204.7 L215.5,206.4 L216.0,205.5 L216.5,207.0 L217.0,209.6 L217.5,207.7 L218.0,206.3 L218.5,204.3 L219.0,204.6 L219.5,204.2 L220.0,207.9 L220.5,205.6 L221.0,206.8 L221.5,205.8 L222.0,206.9 L222.5,208.8 L223.0,205.7 L223.5,206.2 L224.0,205.5 L224.5,208.0 L225.0,205.2 L225.5,205.0 L226.0,204.6 L226.5,204.6 L227.0,207.4 L227.5,210.5 L228.0,205.2 L228.5,208.1 L229.0,207.0 L229.5,205.0 L230.0,206.2 L230.5,206.3 L231.0,205.6 L231.5,209.5 L232.0,203.7 L232.5,207.2 L233.0,207.1 L233.5,205.7 L234.0,206.8 L234.5,207.9 L235.0,206.7 L235.5,207.1 L236.0,207.5 L236.5,203.4 L237.0,208.7 L237.5,209.8 L238.0,207.9 L238.5,207.9 L239.0,204.2 L239.5,206.1 L240.0,205.1 L240.5,205.4 L241.0,207.6 L241.5,204.9 L242.0,205.9 L242.5,203.2 L243.0,205.8 L243.5,206.1 L244.0,204.8 L244.5,204.7 L245.0,208.5 L245.5,203.7 L246.0,203.8 L246.5,204.0 L247.0,206.9 L247.5,208.0 L248.0,205.1 L248.5,203.2 L249.0,203.1 L249.5,204.7 L250.0,200.7 L250.5,202.9 L251.0,200.7 L251.5,195.8 L252.0,192.7 L252.5,187.9 L253.0,183.3 L253.5,173.1 L254.0,170.6 L254.5,164.1 L255.0,162.5 L255.5,166.2 L256.0,170.7 L256.5,175.6 L257.0,180.9 L257.5,187.4 L258.0,195.5 L258.5,199.7 L259.0,200.3 L259.5,202.9 L260.0,201.6 L260.5,203.0 L261.0,204.1 L261.5,202.5 L262.0,202.9 L262.5,204.8 L263.0,204.3 L263.5,203.3 L264.0,205.6 L264.5,204.7 L265.0,206.7 L265.5,205.3 L266.0,204.9 L266.5,205.6 L267.0,205.1 L267.5,204.4 L268.0,204.8 L268.5,206.5 L269.0,206.4 L269.5,207.3 L270.0,202.8 L270.5,204.8 L271.0,204.7 L271.5,205.6 L272.0,204.6 L272.5,204.5 L273.0,206.3 L273.5,205.4 L274.0,203.3 L274.5,207.0 L275.0,206.4 L275.5,204.0 L276.0,206.0 L276.5,203.6 L277.0,206.3 L277.5,204.2 L278.0,203.2 L278.5,203.7 L279.0,203.0 L279.5,204.3 L280.0,204.2 L280.5,203.9 L281.0,202.8 L281.5,198.0 L282.0,203.5 L282.5,200.4 L283.0,203.4 L283.5,204.6 L284.0,203.2 L284.5,202.0 L285.0,202.1 L285.5,202.0 L286.0,201.2 L286.5,201.0 L287.0,200.3 L287.5,203.3 L288.0,201.3 L288.5,202.5 L289.0,200.5 L289.5,200.8 L290.0,200.3 L290.5,201.0 L291.0,201.4 L291.5,200.3 L292.0,198.7 L292.5,198.4 L293.0,201.9 L293.5,198.8 L294.0,198.6 L294.5,201.1 L295.0,200.4 L295.5,199.4 L296.0,197.9 L296.5,201.9 L297.0,198.8 L297.5,199.0 L298.0,197.8 L298.5,195.9 L299.0,196.0 L299.5,198.5 L300.0,198.5 L300.5,197.6 L301.0,196.2 L301.5,195.8 L302.0,197.6 L302.5,195.9 L303.0,199.5 L303.5,200.0 L304.0,202.6 L304.5,199.8 L305.0,197.8 L305.5,197.5 L306.0,193.8 L306.5,198.2 L307.0,199.0 L307.5,200.9 L308.0,200.5 L308.5,200.6 L309.0,200.3 L309.5,201.1 L310.0,202.4 L310.5,198.8 L311.0,199.9 L311.5,198.7 L312.0,203.3 L312.5,203.0 L313.0,202.3 L313.5,199.5 L314.0,201.6 L314.5,201.0 L315.0,201.5 L315.5,200.9 L316.0,201.8 L316.5,200.0 L317.0,201.2 L317.5,199.4 L318.0,197.4 L318.5,196.2 L319.0,194.1 L319.5,194.3 L320.0,191.1 L320.5,191.0 L321.0,189.8 L321.5,188.9 L322.0,194.0 L322.5,192.9 L323.0,197.5 L323.5,198.9 L324.0,197.4 L324.5,199.8 L325.0,201.5 L325.5,201.8 L326.0,201.9 L326.5,205.2 L327.0,204.0 L327.5,205.2 L328.0,204.2 L328.5,205.5 L329.0,204.0 L329.5,205.2 L330.0,206.3 L330.5,205.6 L331.0,204.9 L331.5,204.0 L332.0,206.0 L332.5,206.3 L333.0,205.5 L333.5,204.8 L334.0,206.8 L334.5,209.7 L335.0,205.6 L335.5,206.6 L336.0,206.7 L336.5,202.3 L337.0,206.4 L337.5,205.2 L338.0,208.3 L338.5,205.9 L339.0,205.1 L339.5,206.0 L340.0,206.6 L340.5,205.5 L341.0,206.3 L341.5,204.4 L342.0,206.1 L342.5,207.6 L343.0,209.4 L343.5,207.5 L344.0,206.9 L344.5,208.3 L345.0,208.0 L345.5,209.0 L346.0,208.2 L346.5,206.4 L347.0,206.9 L347.5,206.8 L348.0,207.0 L348.5,206.9 L349.0,205.4 L349.5,203.4 L350.0,205.6 L350.5,203.5 L351.0,206.7 L351.5,206.6 L352.0,204.1 L352.5,207.6 L353.0,207.9 L353.5,206.7 L354.0,209.1 L354.5,209.4 L355.0,204.7 L355.5,208.1 L356.0,207.2 L356.5,207.1 L357.0,207.9 L357.5,205.4 L358.0,205.6 L358.5,205.2 L359.0,205.2 L359.5,206.2 L360.0,204.1 L360.5,204.6 L361.0,206.9 L361.5,205.8 L362.0,206.3 L362.5,202.6 L363.0,203.8 L363.5,203.6 L364.0,203.6 L364.5,201.7 L365.0,202.8 L365.5,199.9 L366.0,198.6 L366.5,197.2 L367.0,197.3 L367.5,195.2 L368.0,197.9 L368.5,197.9 L369.0,198.8 L369.5,200.1 L370.0,202.2 L370.5,204.2 L371.0,205.1 L371.5,205.0 L372.0,206.4 L372.5,205.7 L373.0,207.7 L373.5,206.0 L374.0,203.1 L374.5,208.3 L375.0,206.5 L375.5,204.7 L376.0,206.2 L376.5,205.2 L377.0,209.7 L377.5,207.4 L378.0,204.3 L378.5,207.5 L379.0,206.1 L379.5,209.6 L380.0,205.2 L380.5,203.4 L381.0,206.9 L381.5,206.3 L382.0,206.2 L382.5,203.6 L383.0,207.5 L383.5,209.4 L384.0,204.0 L384.5,208.6 L385.0,206.0 L385.5,210.4 L386.0,207.5 L386.5,206.6 L387.0,208.6 L387.5,207.7 L388.0,206.0 L388.5,208.0 L389.0,206.2 L389.5,204.3 L390.0,210.0 L390.5,206.4 L391.0,206.0 L391.5,207.5 L392.0,204.6 L392.5,204.9 L393.0,206.2 L393.5,206.2 L394.0,207.1 L394.5,208.7 L395.0,206.3 L395.5,207.7 L396.0,207.9 L396.5,205.4 L397.0,207.3 L397.5,205.6 L398.0,208.6 L398.5,207.7 L399.0,207.0 L399.5,205.0 L400.0,207.2 L400.5,205.9 L401.0,208.1 L401.5,206.8 L402.0,205.8 L402.5,208.4 L403.0,208.1 L403.5,206.1 L404.0,208.8 L404.5,206.6 L405.0,206.6 L405.5,207.2 L406.0,205.9 L406.5,206.4 L407.0,206.8 L407.5,209.3 L408.0,209.3 L408.5,206.6 L409.0,209.4 L409.5,207.0 L410.0,207.6 L410.5,208.4 L411.0,207.5 L411.5,210.7 L412.0,207.4 L412.5,205.2 L413.0,209.0 L413.5,206.4 L414.0,206.6 L414.5,202.6 L415.0,208.5 L415.5,208.3 L416.0,208.2 L416.5,208.5 L417.0,209.6 L417.5,207.0 L418.0,208.5 L418.5,205.9 L419.0,206.5 L419.5,208.6 L420.0,207.6 L420.5,205.0 L421.0,207.6 L421.5,206.8 L422.0,205.8 L422.5,207.7 L423.0,206.4 L423.5,204.7 L424.0,205.4 L424.5,209.7 L425.0,204.8 L425.5,207.4 L426.0,208.0 L426.5,208.0 L427.0,205.2 L427.5,206.6 L428.0,207.3 L428.5,208.3 L429.0,206.1 L429.5,205.3 L430.0,208.6 L430.5,208.7 L431.0,207.6 L431.5,206.1 L432.0,207.7 L432.5,207.2 L433.0,208.3 L433.5,205.2 L434.0,207.2 L434.5,206.8 L435.0,205.4 L435.5,207.4 L436.0,207.1 L436.5,206.4 L437.0,207.6 L437.5,204.9 L438.0,207.0 L438.5,207.7 L439.0,207.5 L439.5,208.7 L440.0,205.2 L440.5,204.8 L441.0,207.4 L441.5,207.7 L442.0,210.2 L442.5,208.0 L443.0,205.7 L443.5,208.2 L444.0,205.8 L444.5,204.8 L445.0,210.9 L445.5,207.5 L446.0,208.1 L446.5,207.9 L447.0,209.7 L447.5,207.4 L448.0,208.8 L448.5,205.5 L449.0,204.9 L449.5,209.2 L450.0,209.2 L450.5,207.8 L451.0,207.3 L451.5,207.3 L452.0,206.0 L452.5,209.3 L453.0,208.0 L453.5,207.8 L454.0,207.6 L454.5,208.6 L455.0,207.7 L455.5,208.1 L456.0,205.2 L456.5,207.7 L457.0,210.2 L457.5,206.2 L458.0,206.8 L458.5,208.3 L459.0,208.4 L459.5,207.9 L460.0,204.5 L460.5,207.7 L461.0,205.2 L461.5,205.7 L462.0,207.7 L462.5,206.5 L463.0,208.1 L463.5,211.6 L464.0,208.1 L464.5,208.0 L465.0,205.5 L465.5,205.9 L466.0,205.3 L466.5,206.0 L467.0,205.2 L467.5,205.8 L468.0,206.5 L468.5,205.3 L469.0,204.7 L469.5,204.7 L470.0,207.4 L470.5,206.8 L471.0,208.3 L471.5,208.3 L472.0,206.2 L472.5,207.7 L473.0,204.5 L473.5,210.1 L474.0,208.4 L474.5,206.3 L475.0,204.8 L475.5,207.1 L476.0,203.7 L476.5,205.3 L477.0,207.6 L477.5,206.5 L478.0,205.6 L478.5,207.7 L479.0,204.7 L479.5,206.7 L480.0,205.4 L480.5,204.9 L481.0,206.8 L481.5,204.5 L482.0,208.8 L482.5,205.0 L483.0,208.8 L483.5,204.2 L484.0,206.6 L484.5,203.9 L485.0,203.6 L485.5,205.7 L486.0,206.4 L486.5,203.4 L487.0,207.0 L487.5,204.0 L488.0,205.3 L488.5,205.6 L489.0,205.8 L489.5,202.1 L490.0,207.1 L490.5,205.4 L491.0,203.9 L491.5,202.9 L492.0,201.7 L492.5,202.1 L493.0,204.9 L493.5,203.4 L494.0,202.2 L494.5,202.9 L495.0,206.0 L495.5,203.0 L496.0,202.5 L496.5,205.3 L497.0,203.9 L497.5,203.1 L498.0,202.1 L498.5,200.6 L499.0,201.0 L499.5,202.0 L500.0,202.3 L500.5,203.1 L501.0,203.3 L501.5,202.7 L502.0,202.7 L502.5,200.8 L503.0,199.0 L503.5,201.4 L504.0,200.7 L504.5,201.2 L505.0,201.7 L505.5,200.3 L506.0,200.5 L506.5,202.0 L507.0,202.3 L507.5,201.2 L508.0,203.0 L508.5,201.9 L509.0,200.8 L509.5,202.4 L510.0,205.2 L510.5,201.5 L511.0,204.3 L511.5,204.6 L512.0,204.9 L512.5,201.4 L513.0,205.7 L513.5,202.9 L514.0,202.4 L514.5,202.4 L515.0,203.6 L515.5,202.6 L516.0,202.0 L516.5,203.8 L517.0,200.2 L517.5,198.9 L518.0,200.5 L518.5,199.1 L519.0,198.1 L519.5,193.3 L520.0,195.0 L520.5,193.1 L521.0,194.7 L521.5,190.7 L522.0,194.1 L522.5,195.0 L523.0,194.9 L523.5,197.9 L524.0,202.2 L524.5,201.1 L525.0,201.7 L525.5,204.9 L526.0,205.6 L526.5,206.1 L527.0,203.7 L527.5,205.1 L528.0,206.9 L528.5,204.5 L529.0,204.5 L529.5,207.0 L530.0,208.2 L530.5,204.2 L531.0,202.1 L531.5,203.9 L532.0,204.7 L532.5,206.1 L533.0,207.2 L533.5,206.2 L534.0,205.4 L534.5,206.7 L535.0,205.1 L535.5,206.5 L536.0,205.6 L536.5,210.7 L537.0,207.9 L537.5,205.4 L538.0,205.2 L538.5,206.1 L539.0,204.3 L539.5,205.7 L540.0,205.7 L540.5,208.2 L541.0,206.2 L541.5,205.7 L542.0,204.9 L542.5,205.2 L543.0,206.8 L543.5,206.6 L544.0,208.7 L544.5,206.0 L545.0,208.6 L545.5,207.4 L546.0,207.0 L546.5,204.0 L547.0,205.1 L547.5,208.2 L548.0,209.2 L548.5,207.4 L549.0,208.2 L549.5,206.5 L550.0,206.5 L550.5,206.1 L551.0,208.6 L551.5,207.6 L552.0,206.8 L552.5,206.6 L553.0,207.9 L553.5,207.6 L554.0,205.9 L554.5,209.7 L555.0,207.5 L555.5,207.1 L556.0,209.3 L556.5,208.7 L557.0,207.0 L557.5,207.9 L558.0,205.5 L558.5,206.2 L559.0,203.7 L559.5,208.9 L560.0,204.2 L560.5,208.1 L561.0,205.8 L561.5,205.6 L562.0,206.7 L562.5,207.4 L563.0,207.9 L563.5,209.6 L564.0,207.5 L564.5,208.2 L565.0,205.9 L565.5,207.9 L566.0,206.9 L566.5,205.9 L567.0,206.3 L567.5,206.1 L568.0,206.2 L568.5,206.1 L569.0,204.1 L569.5,203.0 L570.0,204.2 L570.5,199.3 L571.0,199.6 L571.5,201.4 L572.0,193.7 L572.5,195.7 L573.0,197.4 L573.5,194.3 L574.0,201.6 L574.5,195.2 L575.0,202.7 L575.5,204.3 L576.0,204.5 L576.5,203.8 L577.0,205.5 L577.5,204.2 L578.0,207.2 L578.5,204.6 L579.0,206.1 L579.5,208.2 L580.0,205.1 L580.5,206.3 L581.0,207.2 L581.5,205.0 L582.0,208.8 L582.5,207.6 L583.0,204.9 L583.5,207.1 L584.0,206.0 L584.5,206.2 L585.0,207.4 L585.5,206.2 L586.0,208.7 L586.5,206.3 L587.0,208.8 L587.5,207.3 L588.0,208.6 L588.5,206.6 L589.0,206.6 L589.5,205.7 L590.0,208.3 L590.5,208.8 L591.0,210.6 L591.5,209.4 L592.0,207.8 L592.5,207.1 L593.0,208.0 L593.5,207.4 L594.0,209.7 L594.5,208.9 L595.0,206.2 L595.5,206.4 L596.0,209.5 L596.5,207.9 L597.0,207.1 L597.5,209.3 L598.0,206.9 L598.5,207.1 L599.0,206.8 L599.5,204.6 L600.0,208.8 L600.5,205.7 L601.0,206.7 L601.5,206.4 L602.0,208.6 L602.5,207.4 L603.0,207.6 L603.5,205.0 L604.0,207.4 L604.5,205.3 L605.0,208.0 L605.5,208.1 L606.0,207.5 L606.5,210.6 L607.0,208.4 L607.5,208.5 L608.0,207.8 L608.5,207.3 L609.0,209.0 L609.5,209.2 L610.0,205.6 L610.5,209.2 L611.0,208.4 L611.5,209.0 L612.0,208.3 L612.5,205.7 L613.0,205.8 L613.5,210.3 L614.0,208.0 L614.5,205.5 L615.0,208.1 L615.5,207.1 L616.0,204.9 L616.5,204.2 L617.0,205.2 L617.5,208.0 L618.0,207.6 L618.5,207.3 L619.0,208.1 L619.5,208.5 L620.0,204.5 L620.5,207.2 L621.0,206.4 L621.5,205.8 L622.0,206.8 L622.5,207.5 L623.0,207.3 L623.5,205.5 L624.0,206.9 L624.5,210.7 L625.0,206.1 L625.5,205.1 L626.0,208.1 L626.5,208.6 L627.0,208.4 L627.5,206.0 L628.0,209.2 L628.5,206.5 L629.0,206.0 L629.5,206.8 L630.0,207.5 L630.5,208.8 L631.0,208.6 L631.5,207.7 L632.0,209.1 L632.5,207.8 L633.0,209.0 L633.5,205.6 L634.0,205.3 L634.5,208.9 L635.0,205.6 L635.5,207.2 L636.0,207.6 L636.5,207.0 L637.0,207.0 L637.5,209.8 L638.0,203.9 L638.5,209.0 L639.0,211.2 L639.5,207.8 L640.0,207.7 L640.5,208.8 L641.0,210.5 L641.5,205.9 L642.0,207.9 L642.5,207.4 L643.0,208.6 L643.5,208.0 L644.0,208.7 L644.5,207.1 L645.0,207.8 L645.5,206.7 L646.0,206.7 L646.5,207.5 L647.0,207.5 L647.5,206.0 L648.0,210.1 L648.5,207.5 L649.0,205.7 L649.5,209.4 L650.0,206.6 L650.5,208.5 L651.0,207.7 L651.5,208.1 L652.0,208.0 L652.5,206.9 L653.0,207.8 L653.5,210.8 L654.0,204.4 L654.5,207.9 L655.0,208.4 L655.5,206.2 L656.0,205.7 L656.5,211.0 L657.0,207.2 L657.5,210.9 L658.0,208.6 L658.5,207.9 L659.0,208.5 L659.5,208.7 L660.0,209.5 L660.5,208.4 L661.0,208.0 L661.5,208.0 L662.0,209.8 L662.5,209.0 L663.0,206.3 L663.5,206.8 L664.0,208.3 L664.5,206.8 L665.0,207.2 L665.5,206.4 L666.0,207.4 L666.5,208.4 L667.0,209.3 L667.5,207.8 L668.0,210.9 L668.5,207.7 L669.0,212.6 L669.5,209.3 L670.0,208.5 L670.5,207.0 L671.0,203.5 L671.5,207.6 L672.0,208.1 L672.5,210.7 L673.0,205.7 L673.5,210.6 L674.0,207.4 L674.5,208.9 L675.0,204.0 L675.5,208.0 L676.0,207.3 L676.5,208.8 L677.0,207.9 L677.5,206.1 L678.0,209.2 L678.5,208.8 L679.0,208.7 L679.5,209.3 L680.0,209.4 L680.5,207.7 L681.0,205.7 L681.5,205.7 L682.0,209.8 L682.5,208.8 L683.0,207.9 L683.5,207.1 L684.0,207.8 L684.5,207.8 L685.0,207.2 L685.5,206.7 L686.0,211.0 L686.5,208.0 L687.0,206.8 L687.5,205.7 L688.0,206.6 L688.5,208.7 L689.0,208.8 L689.5,207.3 L690.0,207.7 L690.5,207.2 L691.0,205.9 L691.5,209.5 L692.0,208.1 L692.5,211.2 L693.0,206.4 L693.5,207.3 L694.0,208.8 L694.5,207.0 L695.0,205.3 L695.5,205.9 L696.0,207.4 L696.5,207.7 L697.0,206.9 L697.5,208.5 L698.0,208.3 L698.5,207.2 L699.0,206.6 L699.5,206.0 L700.0,207.0 L700.5,207.3 L701.0,205.8 L701.5,206.1 L702.0,204.7 L702.5,202.7 L703.0,203.0 L703.5,205.3 L704.0,204.4 L704.5,205.8 L705.0,203.1 L705.5,203.9 L706.0,204.2 L706.5,203.4 L707.0,200.7 L707.5,201.1 L708.0,201.4 L708.5,199.6 L709.0,201.7 L709.5,202.6 L710.0,200.5 L710.5,204.3 L711.0,201.2 L711.5,201.6 L712.0,201.9 L712.5,201.6 L713.0,203.7 L713.5,203.5 L714.0,206.3 L714.5,205.1 L715.0,205.3 L715.5,204.5 L716.0,203.1 L716.5,205.4 L717.0,204.5 L717.5,207.4 L718.0,206.2 L718.5,208.9 L719.0,207.7 L719.5,208.0 L720.0,207.3 L720.5,207.3 L721.0,208.1 L721.5,208.6 L722.0,206.2 L722.5,208.1 L723.0,211.4 L723.5,207.4 L724.0,207.2 L724.5,206.5 L725.0,205.4 L725.5,209.4 L726.0,207.8 L726.5,208.2 L727.0,210.5 L727.5,211.5 L728.0,206.4 L728.5,209.4 L729.0,208.7 L729.5,208.4 L730.0,208.5 L730.5,207.8 L731.0,210.2 L731.5,208.8 L732.0,208.4 L732.5,209.8 L733.0,209.2 L733.5,208.6 L734.0,208.4 L734.5,210.6 L735.0,208.7 L735.5,207.8 L736.0,206.7 L736.5,207.4 L737.0,206.4 L737.5,208.1 L738.0,208.4 L738.5,204.9 L739.0,208.0 L739.5,209.0 L740.0,208.3 L740.5,206.6 L741.0,209.9 L741.5,207.0 L742.0,206.2 L742.5,206.4 L743.0,208.0 L743.5,209.5 L744.0,209.8 L744.5,208.4 L745.0,206.3 L745.5,207.1 L746.0,206.7 L746.5,207.8 L747.0,205.4 L747.5,208.2 L748.0,209.0 L748.5,207.9 L749.0,208.8 L749.5,206.7 L750.0,205.9 L750.5,207.1 L751.0,209.8 L751.5,209.7 L752.0,207.4 L752.5,209.9 L753.0,207.6 L753.5,210.4 L754.0,208.8 L754.5,207.4 L755.0,209.3 L755.5,207.0 L756.0,206.7 L756.5,206.0 L757.0,208.5 L757.5,208.1 L758.0,208.0 L758.5,207.5 L759.0,210.3 L759.5,207.5 L760.0,207.1 L760.5,210.0 L761.0,210.3 L761.5,208.7 L762.0,205.6 L762.5,207.3 L763.0,209.1 L763.5,208.2 L764.0,210.5 L764.5,206.1 L765.0,209.2 L765.5,207.2 L766.0,210.2 L766.5,208.1 L767.0,209.7 L767.5,207.2 L768.0,206.1 L768.5,206.5 L769.0,207.3 L769.5,206.7 L770.0,210.0 L770.5,210.2 L771.0,208.6 L771.5,206.7 L772.0,208.0 L772.5,207.2 L773.0,210.4 L773.5,208.7 L774.0,209.0 L774.5,207.6 L775.0,205.2 L775.5,207.1 L776.0,206.6 L776.5,208.8 L777.0,208.4 L777.5,207.0 L778.0,207.7 L778.5,210.6 L779.0,206.8 L779.5,206.9 L780.0,207.9 L780.5,207.2 L781.0,207.6 L781.5,209.1 L782.0,210.9 L782.5,205.6 L783.0,208.2 L783.5,208.3 L784.0,208.1 L784.5,208.0 L785.0,207.8 L785.5,209.8 L786.0,207.6 L786.5,208.1 L787.0,208.3 L787.5,208.4 L788.0,208.0 L788.5,209.8 L789.0,208.3 L789.5,208.6 L790.0,208.2 L790.5,206.8 L791.0,207.1 L791.5,206.7 L792.0,208.6 L792.5,207.2 L793.0,206.7 L793.5,208.7 L794.0,209.1 L794.5,205.7 L795.0,210.8 L795.5,208.4 L796.0,208.2 L796.5,209.9 L797.0,208.4 L797.5,207.4 L798.0,211.6 L798.5,206.7 L799.0,208.2 L799.5,209.6 L800.0,206.7 L800.5,208.2 L801.0,208.9 L801.5,211.9 L802.0,207.0 L802.5,208.3 L803.0,209.3 L803.5,208.5 L804.0,206.5 L804.5,209.0 L805.0,208.5 L805.5,209.0 L806.0,210.1 L806.5,209.9 L807.0,209.0 L807.5,208.8 L808.0,206.7 L808.5,208.2 L809.0,208.7 L809.5,207.8 L810.0,208.5 L810.5,207.1 L811.0,210.7 L811.5,211.6 L812.0,207.8 L812.5,209.0 L813.0,208.0 L813.5,210.3 L814.0,209.0 L814.5,208.5 L815.0,208.1 L815.5,208.6 L816.0,206.9 L816.5,209.4 L817.0,207.3 L817.5,209.2 L818.0,208.6 L818.5,210.0 L819.0,208.4 L819.5,209.9 L820.0,207.0 L820.5,209.3 L821.0,208.1 L821.5,208.7 L822.0,208.5 L822.5,209.8 L823.0,205.4 L823.5,208.9 L824.0,206.2 L824.5,210.2 L825.0,205.5 L825.5,206.9 L826.0,205.9 L826.5,210.9 L827.0,206.5 L827.5,208.6 L828.0,207.6 L828.5,205.7 L829.0,207.9 L829.5,209.4 L830.0,208.2 L830.5,209.9 L831.0,207.9 L831.5,208.5 L832.0,207.9 L832.5,209.0 L833.0,211.3 L833.5,209.0 L834.0,208.8 L834.5,207.5 L835.0,207.3 L835.5,210.7 L836.0,206.8 L836.5,207.1 L837.0,208.3 L837.5,207.8 L838.0,211.4 L838.5,204.9 L839.0,209.0 L839.5,209.6 L840.0,206.8 L840.5,207.5 L841.0,209.1 L841.5,210.9 L842.0,207.1 L842.5,206.1 L843.0,210.0 L843.5,210.8 L844.0,208.0 L844.5,205.2 L845.0,210.7 L845.5,208.2 L846.0,210.2 L846.5,208.4 L847.0,207.9 L847.5,207.8 L848.0,210.7 L848.5,210.7 L849.0,205.3 L849.5,207.1 L850.0,211.2 L850.5,208.0 L851.0,206.5 L851.5,208.5 L852.0,208.4 L852.5,208.4 L853.0,207.8 L853.5,208.1 L854.0,207.9 L854.5,209.0 L855.0,207.3 L855.5,208.1 L856.0,208.3 L856.5,210.5 L857.0,209.1 L857.5,208.4 L858.0,209.4 L858.5,209.2 L859.0,210.2 L859.5,209.3 L860.0,211.3 L860.5,210.6 L861.0,208.5 L861.5,207.9 L862.0,209.9 L862.5,209.3 L863.0,208.4 L863.5,206.4 L864.0,205.8 L864.5,209.1 L865.0,209.7 L865.5,209.8 L866.0,206.7 L866.5,210.1 L867.0,207.8 L867.5,209.2 L868.0,209.2 L868.5,207.4 L869.0,207.7 L869.5,205.5 L870.0,207.2 L870.5,205.9 L871.0,209.3 L871.5,208.7 L872.0,210.0 L872.5,209.1 L873.0,207.7 L873.5,209.1 L874.0,208.0 L874.5,209.5 L875.0,209.1 L875.5,207.1 L876.0,208.6 L876.5,208.7 L877.0,208.2 L877.5,210.0 L878.0,211.2 L878.5,208.1 L879.0,208.1 L879.5,205.3 L880.0,208.4 L880.5,208.0 L881.0,205.4 L881.5,209.1 L882.0,209.5 L882.5,207.5 L883.0,208.1 L883.5,207.2 L884.0,209.8 L884.5,206.4 L885.0,208.2 L885.5,211.6 L886.0,208.7 L886.5,209.4 L887.0,208.4 L887.5,206.9 L888.0,208.6 L888.5,209.3 L889.0,207.1 L889.5,209.2 L890.0,210.5 L890.5,210.3 L891.0,206.3 L891.5,207.2 L892.0,206.3 L892.5,210.3 L893.0,209.6 L893.5,209.7 L894.0,207.4 L894.5,206.9 L895.0,208.8 L895.5,208.8 L896.0,207.4 L896.5,208.9 L897.0,209.7 L897.5,209.0 L898.0,207.1 L898.5,205.5 L899.0,208.3 L899.5,209.0 L900.0,208.3 L900.5,208.1 L901.0,207.7 L901.5,209.8 L902.0,208.6 L902.5,208.9 L903.0,207.3 L903.5,207.8 L904.0,209.0 L904.5,207.2 L905.0,206.8 L905.5,208.2 L906.0,210.5 L906.5,209.0 L907.0,210.9 L907.5,208.5 L908.0,208.3 L908.5,206.6 L909.0,207.9 L909.5,210.9 L910.0,209.2 L910.5,209.8 L911.0,209.8 L911.5,208.7 L912.0,208.4 L912.5,208.9 L913.0,209.8 L913.5,209.4 L914.0,209.5 L914.5,209.0 L915.0,207.6 L915.5,208.4 L916.0,207.4 L916.5,210.3 L917.0,205.6 L917.5,208.4 L918.0,212.4 L918.5,208.3 L919.0,207.1 L919.5,208.7 L920.0,210.7 L920.5,208.5 L921.0,209.7 L921.5,208.9 L922.0,208.2 L922.5,213.5 L923.0,208.9 L923.5,208.0 L924.0,208.1 L924.5,209.4 L925.0,209.4 L925.5,210.0 L926.0,209.0 L926.5,206.7 L927.0,209.6 L927.5,208.3 L928.0,208.4 L928.5,206.6 L929.0,207.9 L929.5,207.7 L930.0,208.8 L930.5,206.6 L931.0,208.9 L931.5,209.0 L932.0,207.1 L932.5,207.9 L933.0,207.5 L933.5,210.2 L934.0,205.0 L934.5,208.3 L935.0,206.3 L935.5,208.2 L936.0,210.1 L936.5,207.9 L937.0,209.0 L937.5,207.6 L938.0,211.8 L938.5,210.2 L939.0,210.5 L939.5,206.9 L940.0,207.2 L940.5,210.5 L941.0,208.6 L941.5,208.5 L942.0,209.4 L942.5,207.0 L943.0,210.0 L943.5,208.9 L944.0,209.6 L944.5,207.9 L945.0,209.6 L945.5,207.8 L946.0,210.3 L946.5,210.6 L947.0,210.2 L947.5,209.7 L948.0,209.8 L948.5,204.8 L949.0,210.1 L949.5,208.5 L950.0,209.0 L950.5,208.5 L951.0,206.8 L951.5,208.1 L952.0,209.9 L952.5,211.0 L953.0,208.0 L953.5,207.5 L954.0,211.1 L954.5,207.6 L955.0,212.0 L955.5,209.0 L956.0,207.6 L956.5,210.4 L957.0,211.5 L957.5,206.8 L958.0,211.3 L958.5,208.5 L959.0,211.1 L959.5,208.3 L960.0,206.6 L960.5,209.7 L961.0,210.3 L961.5,212.1 L962.0,211.5 L962.5,210.0 L963.0,208.6 L963.5,208.2 L964.0,208.5 L964.5,207.7 L965.0,208.5 L965.5,205.1 L966.0,209.2 L966.5,208.9 L967.0,212.8 L967.5,210.1 L968.0,208.2 L968.5,209.8 L969.0,207.1 L969.5,208.1 L970.0,206.2 L970.5,211.1 L971.0,209.9 L971.5,207.2 L972.0,208.9 L972.5,210.4 L973.0,209.7 L973.5,209.5 L974.0,207.7 L974.5,208.0 L975.0,209.1 L975.5,210.4 L976.0,207.7 L976.5,207.3 L977.0,210.7 L977.5,207.6 L978.0,210.6 L978.5,209.4 L979.0,210.3 L979.5,211.6" fill="none" stroke="#800080" stroke-width="2.5" stroke-linejoin="round"/><path d="M53.0,283.7 L53.5,283.9 L54.0,280.3 L54.5,280.8 L55.0,283.6 L55.5,285.4 L56.0,285.1 L56.5,287.1 L57.0,282.8 L57.5,282.6 L58.0,284.3 L58.5,282.2 L59.0,282.0 L59.5,279.9 L60.0,284.2 L60.5,279.9 L61.0,283.2 L61.5,279.1 L62.0,284.4 L62.5,279.9 L63.0,283.8 L63.5,278.7 L64.0,281.1 L64.5,284.5 L65.0,280.3 L65.5,282.1 L66.0,280.9 L66.5,277.1 L67.0,282.5 L67.5,282.8 L68.0,279.5 L68.5,283.0 L69.0,280.1 L69.5,279.7 L70.0,281.8 L70.5,280.3 L71.0,286.5 L71.5,278.4 L72.0,283.2 L72.5,283.7 L73.0,277.4 L73.5,277.9 L74.0,282.7 L74.5,280.5 L75.0,282.3 L75.5,283.8 L76.0,280.6 L76.5,279.1 L77.0,275.6 L77.5,281.7 L78.0,279.3 L78.5,281.9 L79.0,281.6 L79.5,278.2 L80.0,284.7 L80.5,283.3 L81.0,282.8 L81.5,278.5 L82.0,280.1 L82.5,279.7 L83.0,279.9 L83.5,278.4 L84.0,281.6 L84.5,281.2 L85.0,281.4 L85.5,279.5 L86.0,283.2 L86.5,280.9 L87.0,274.7 L87.5,279.0 L88.0,280.2 L88.5,282.3 L89.0,279.6 L89.5,279.6 L90.0,278.7 L90.5,281.4 L91.0,279.0 L91.5,278.7 L92.0,278.3 L92.5,281.0 L93.0,278.6 L93.5,276.2 L94.0,280.9 L94.5,278.1 L95.0,280.2 L95.5,280.2 L96.0,281.9 L96.5,281.5 L97.0,278.0 L97.5,278.8 L98.0,276.4 L98.5,282.6 L99.0,279.9 L99.5,281.9 L100.0,278.2 L100.5,274.5 L101.0,282.0 L101.5,278.9 L102.0,278.9 L102.5,278.7 L103.0,279.9 L103.5,279.6 L104.0,275.1 L104.5,280.6 L105.0,277.2 L105.5,277.3 L106.0,281.8 L106.5,280.1 L107.0,277.4 L107.5,274.1 L108.0,278.3 L108.5,279.1 L109.0,277.7 L109.5,275.2 L110.0,276.1 L110.5,275.1 L111.0,278.2 L111.5,279.4 L112.0,279.8 L112.5,276.1 L113.0,278.1 L113.5,278.7 L114.0,276.5 L114.5,277.2 L115.0,282.0 L115.5,277.9 L116.0,279.3 L116.5,276.6 L117.0,277.5 L117.5,273.8 L118.0,277.4 L118.5,280.0 L119.0,281.9 L119.5,280.0 L120.0,278.9 L120.5,277.6 L121.0,276.2 L121.5,277.2 L122.0,278.8 L122.5,275.9 L123.0,279.5 L123.5,275.5 L124.0,273.9 L124.5,275.5 L125.0,274.2 L125.5,274.8 L126.0,280.1 L126.5,277.4 L127.0,278.3 L127.5,280.3 L128.0,280.6 L128.5,276.9 L129.0,280.8 L129.5,278.9 L130.0,278.2 L130.5,279.1 L131.0,275.3 L131.5,276.7 L132.0,278.2 L132.5,279.7 L133.0,277.7 L133.5,278.3 L134.0,280.7 L134.5,281.7 L135.0,280.4 L135.5,281.5 L136.0,278.1 L136.5,278.3 L137.0,279.7 L137.5,278.5 L138.0,278.1 L138.5,282.7 L139.0,278.9 L139.5,277.4 L140.0,280.5 L140.5,283.4 L141.0,279.8 L141.5,282.2 L142.0,278.8 L142.5,278.8 L143.0,278.4 L143.5,279.6 L144.0,283.9 L144.5,277.6 L145.0,283.6 L145.5,278.1 L146.0,279.8 L146.5,282.1 L147.0,281.7 L147.5,281.1 L148.0,277.1 L148.5,281.4 L149.0,278.5 L149.5,286.1 L150.0,280.3 L150.5,281.2 L151.0,278.5 L151.5,280.0 L152.0,278.3 L152.5,283.1 L153.0,280.6 L153.5,282.4 L154.0,279.8 L154.5,280.3 L155.0,284.1 L155.5,279.4 L156.0,277.7 L156.5,282.4 L157.0,279.2 L157.5,280.7 L158.0,283.6 L158.5,280.0 L159.0,283.6 L159.5,280.4 L160.0,285.0 L160.5,284.7 L161.0,281.0 L161.5,281.5 L162.0,280.3 L162.5,282.5 L163.0,284.5 L163.5,279.1 L164.0,284.1 L164.5,279.4 L165.0,280.5 L165.5,278.5 L166.0,286.8 L166.5,282.5 L167.0,282.9 L167.5,281.0 L168.0,284.7 L168.5,278.1 L169.0,282.6 L169.5,287.2 L170.0,281.8 L170.5,282.7 L171.0,284.1 L171.5,281.0 L172.0,282.8 L172.5,284.7 L173.0,283.2 L173.5,283.6 L174.0,282.1 L174.5,283.5 L175.0,283.0 L175.5,285.9 L176.0,284.4 L176.5,282.4 L177.0,277.8 L177.5,284.5 L178.0,284.6 L178.5,281.1 L179.0,278.8 L179.5,280.6 L180.0,285.0 L180.5,280.8 L181.0,282.1 L181.5,283.6 L182.0,285.7 L182.5,283.1 L183.0,282.9 L183.5,282.0 L184.0,286.6 L184.5,285.4 L185.0,283.0 L185.5,280.3 L186.0,281.6 L186.5,284.4 L187.0,281.7 L187.5,285.1 L188.0,284.0 L188.5,283.9 L189.0,284.7 L189.5,284.3 L190.0,281.5 L190.5,282.6 L191.0,288.2 L191.5,280.8 L192.0,282.3 L192.5,285.6 L193.0,283.0 L193.5,281.6 L194.0,280.6 L194.5,284.5 L195.0,285.5 L195.5,286.3 L196.0,283.5 L196.5,285.6 L197.0,281.2 L197.5,283.8 L198.0,282.0 L198.5,283.8 L199.0,285.0 L199.5,285.7 L200.0,281.3 L200.5,286.1 L201.0,282.4 L201.5,281.3 L202.0,283.1 L202.5,280.4 L203.0,283.4 L203.5,284.0 L204.0,283.0 L204.5,284.6 L205.0,282.8 L205.5,283.4 L206.0,280.4 L206.5,283.5 L207.0,281.6 L207.5,282.5 L208.0,283.2 L208.5,283.8 L209.0,280.0 L209.5,280.1 L210.0,282.8 L210.5,284.4 L211.0,284.2 L211.5,285.3 L212.0,286.1 L212.5,284.5 L213.0,283.4 L213.5,281.2 L214.0,281.4 L214.5,282.4 L215.0,283.9 L215.5,283.8 L216.0,283.4 L216.5,283.0 L217.0,284.7 L217.5,283.8 L218.0,284.0 L218.5,284.0 L219.0,282.2 L219.5,281.2 L220.0,284.3 L220.5,284.2 L221.0,282.8 L221.5,282.4 L222.0,288.0 L222.5,281.7 L223.0,282.8 L223.5,283.8 L224.0,280.8 L224.5,283.4 L225.0,287.0 L225.5,285.1 L226.0,284.5 L226.5,284.4 L227.0,283.3 L227.5,285.1 L228.0,282.7 L228.5,282.2 L229.0,283.2 L229.5,284.9 L230.0,283.7 L230.5,284.4 L231.0,278.7 L231.5,285.4 L232.0,287.8 L232.5,285.6 L233.0,282.1 L233.5,281.0 L234.0,283.3 L234.5,280.6 L235.0,284.2 L235.5,281.5 L236.0,284.6 L236.5,285.4 L237.0,278.2 L237.5,283.0 L238.0,280.9 L238.5,279.3 L239.0,281.0 L239.5,281.7 L240.0,284.3 L240.5,278.9 L241.0,284.2 L241.5,286.1 L242.0,283.1 L242.5,282.9 L243.0,281.6 L243.5,279.0 L244.0,282.5 L244.5,282.0 L245.0,282.6 L245.5,286.3 L246.0,282.3 L246.5,281.4 L247.0,283.6 L247.5,277.2 L248.0,277.3 L248.5,278.5 L249.0,277.5 L249.5,279.8 L250.0,277.0 L250.5,280.5 L251.0,278.9 L251.5,275.8 L252.0,271.2 L252.5,270.1 L253.0,266.0 L253.5,255.8 L254.0,250.8 L254.5,242.4 L255.0,233.2 L255.5,232.4 L256.0,234.7 L256.5,238.0 L257.0,248.6 L257.5,254.0 L258.0,262.6 L258.5,263.6 L259.0,270.0 L259.5,270.6 L260.0,272.9 L260.5,271.3 L261.0,269.0 L261.5,276.2 L262.0,272.4 L262.5,276.0 L263.0,274.3 L263.5,275.1 L264.0,277.8 L264.5,275.0 L265.0,277.5 L265.5,271.7 L266.0,277.0 L266.5,274.9 L267.0,275.4 L267.5,275.9 L268.0,276.9 L268.5,279.8 L269.0,272.6 L269.5,276.8 L270.0,275.3 L270.5,279.4 L271.0,276.1 L271.5,278.1 L272.0,276.3 L272.5,278.6 L273.0,279.3 L273.5,276.4 L274.0,277.3 L274.5,274.2 L275.0,277.8 L275.5,278.9 L276.0,275.9 L276.5,279.4 L277.0,272.6 L277.5,273.0 L278.0,273.9 L278.5,275.7 L279.0,276.7 L279.5,276.4 L280.0,276.3 L280.5,277.9 L281.0,275.3 L281.5,273.5 L282.0,273.5 L282.5,280.4 L283.0,271.0 L283.5,275.4 L284.0,278.8 L284.5,276.6 L285.0,273.8 L285.5,275.4 L286.0,277.1 L286.5,277.8 L287.0,273.2 L287.5,276.6 L288.0,275.5 L288.5,277.2 L289.0,277.7 L289.5,273.9 L290.0,271.5 L290.5,275.3 L291.0,278.1 L291.5,275.7 L292.0,274.6 L292.5,279.1 L293.0,271.8 L293.5,275.8 L294.0,272.6 L294.5,273.7 L295.0,273.7 L295.5,276.6 L296.0,271.3 L296.5,271.9 L297.0,269.4 L297.5,273.3 L298.0,270.5 L298.5,271.1 L299.0,266.2 L299.5,265.5 L300.0,266.4 L300.5,262.9 L301.0,265.4 L301.5,267.2 L302.0,267.4 L302.5,266.6 L303.0,273.1 L303.5,272.1 L304.0,274.3 L304.5,268.2 L305.0,269.1 L305.5,268.1 L306.0,270.8 L306.5,274.9 L307.0,274.0 L307.5,272.7 L308.0,273.1 L308.5,274.5 L309.0,272.2 L309.5,273.7 L310.0,273.2 L310.5,268.3 L311.0,272.1 L311.5,275.7 L312.0,272.0 L312.5,272.5 L313.0,271.4 L313.5,271.6 L314.0,274.8 L314.5,271.7 L315.0,269.8 L315.5,265.1 L316.0,270.1 L316.5,266.7 L317.0,266.5 L317.5,271.5 L318.0,270.8 L318.5,264.7 L319.0,270.0 L319.5,268.7 L320.0,265.7 L320.5,268.7 L321.0,263.7 L321.5,264.8 L322.0,264.7 L322.5,266.0 L323.0,270.8 L323.5,266.9 L324.0,268.1 L324.5,269.3 L325.0,272.4 L325.5,272.0 L326.0,275.1 L326.5,272.4 L327.0,271.7 L327.5,273.8 L328.0,275.3 L328.5,273.6 L329.0,276.4 L329.5,279.9 L330.0,275.1 L330.5,276.6 L331.0,279.6 L331.5,275.5 L332.0,275.3 L332.5,274.9 L333.0,278.2 L333.5,278.6 L334.0,277.3 L334.5,277.9 L335.0,280.6 L335.5,279.9 L336.0,275.2 L336.5,278.3 L337.0,278.6 L337.5,280.0 L338.0,278.2 L338.5,277.4 L339.0,277.9 L339.5,275.2 L340.0,279.0 L340.5,277.9 L341.0,280.3 L341.5,277.2 L342.0,278.6 L342.5,277.5 L343.0,277.4 L343.5,281.2 L344.0,278.9 L344.5,280.9 L345.0,277.7 L345.5,280.3 L346.0,276.7 L346.5,279.3 L347.0,279.3 L347.5,281.7 L348.0,280.9 L348.5,280.3 L349.0,282.5 L349.5,281.2 L350.0,282.0 L350.5,282.5 L351.0,280.9 L351.5,280.4 L352.0,281.8 L352.5,280.3 L353.0,282.1 L353.5,283.6 L354.0,283.1 L354.5,280.6 L355.0,278.8 L355.5,281.4 L356.0,281.3 L356.5,283.9 L357.0,280.8 L357.5,281.2 L358.0,283.1 L358.5,280.6 L359.0,281.2 L359.5,285.1 L360.0,284.6 L360.5,282.6 L361.0,281.7 L361.5,278.9 L362.0,281.7 L362.5,280.2 L363.0,279.8 L363.5,277.5 L364.0,277.5 L364.5,276.0 L365.0,275.8 L365.5,276.7 L366.0,273.1 L366.5,267.7 L367.0,268.4 L367.5,266.8 L368.0,268.8 L368.5,272.5 L369.0,273.5 L369.5,272.8 L370.0,276.1 L370.5,275.3 L371.0,275.2 L371.5,276.3 L372.0,278.3 L372.5,283.8 L373.0,278.6 L373.5,284.5 L374.0,285.0 L374.5,282.1 L375.0,282.6 L375.5,281.6 L376.0,282.9 L376.5,284.5 L377.0,283.2 L377.5,285.4 L378.0,285.8 L378.5,284.1 L379.0,284.2 L379.5,283.4 L380.0,284.3 L380.5,281.3 L381.0,284.5 L381.5,284.1 L382.0,281.9 L382.5,288.3 L383.0,281.8 L383.5,282.0 L384.0,284.5 L384.5,279.9 L385.0,282.3 L385.5,280.8 L386.0,282.0 L386.5,283.7 L387.0,284.7 L387.5,286.4 L388.0,285.8 L388.5,286.6 L389.0,285.4 L389.5,283.2 L390.0,286.5 L390.5,283.2 L391.0,282.9 L391.5,287.4 L392.0,285.9 L392.5,284.7 L393.0,285.8 L393.5,286.1 L394.0,281.4 L394.5,284.1 L395.0,281.8 L395.5,284.6 L396.0,282.9 L396.5,287.2 L397.0,285.5 L397.5,282.7 L398.0,284.4 L398.5,281.9 L399.0,284.5 L399.5,285.6 L400.0,285.0 L400.5,280.4 L401.0,283.7 L401.5,285.5 L402.0,285.1 L402.5,286.9 L403.0,281.8 L403.5,285.6 L404.0,283.1 L404.5,284.9 L405.0,285.4 L405.5,286.0 L406.0,283.3 L406.5,284.9 L407.0,282.1 L407.5,281.6 L408.0,285.7 L408.5,284.4 L409.0,281.2 L409.5,282.8 L410.0,284.6 L410.5,287.8 L411.0,286.8 L411.5,286.3 L412.0,280.9 L412.5,284.4 L413.0,285.6 L413.5,285.4 L414.0,285.5 L414.5,284.1 L415.0,288.3 L415.5,287.7 L416.0,284.4 L416.5,282.6 L417.0,289.0 L417.5,283.5 L418.0,287.2 L418.5,288.7 L419.0,282.7 L419.5,285.3 L420.0,283.9 L420.5,285.7 L421.0,285.3 L421.5,288.8 L422.0,285.9 L422.5,284.7 L423.0,287.0 L423.5,284.1 L424.0,283.9 L424.5,289.4 L425.0,283.0 L425.5,283.7 L426.0,284.8 L426.5,282.5 L427.0,280.3 L427.5,286.9 L428.0,283.1 L428.5,283.6 L429.0,283.9 L429.5,282.7 L430.0,282.5 L430.5,285.1 L431.0,289.8 L431.5,286.3 L432.0,286.3 L432.5,281.6 L433.0,284.7 L433.5,282.2 L434.0,286.3 L434.5,284.2 L435.0,284.8 L435.5,284.5 L436.0,283.5 L436.5,281.5 L437.0,285.9 L437.5,281.8 L438.0,282.3 L438.5,284.1 L439.0,283.2 L439.5,285.3 L440.0,286.9 L440.5,285.3 L441.0,285.1 L441.5,284.8 L442.0,286.5 L442.5,280.9 L443.0,285.5 L443.5,282.8 L444.0,282.1 L444.5,284.7 L445.0,283.9 L445.5,285.9 L446.0,287.0 L446.5,279.8 L447.0,284.6 L447.5,288.8 L448.0,286.5 L448.5,287.7 L449.0,284.9 L449.5,281.7 L450.0,282.3 L450.5,286.2 L451.0,286.7 L451.5,283.2 L452.0,284.1 L452.5,285.2 L453.0,281.0 L453.5,283.9 L454.0,288.1 L454.5,289.3 L455.0,284.4 L455.5,288.5 L456.0,283.6 L456.5,282.9 L457.0,279.9 L457.5,286.6 L458.0,283.8 L458.5,289.5 L459.0,285.3 L459.5,285.0 L460.0,280.8 L460.5,287.7 L461.0,283.8 L461.5,284.2 L462.0,279.9 L462.5,286.5 L463.0,286.6 L463.5,283.2 L464.0,284.7 L464.5,285.3 L465.0,286.5 L465.5,284.7 L466.0,288.1 L466.5,283.9 L467.0,283.1 L467.5,283.4 L468.0,279.0 L468.5,282.6 L469.0,286.4 L469.5,284.8 L470.0,282.5 L470.5,285.0 L471.0,280.0 L471.5,283.6 L472.0,285.2 L472.5,285.6 L473.0,282.4 L473.5,286.0 L474.0,287.9 L474.5,283.1 L475.0,285.5 L475.5,280.6 L476.0,279.7 L476.5,285.1 L477.0,283.8 L477.5,284.1 L478.0,282.4 L478.5,282.9 L479.0,285.2 L479.5,287.0 L480.0,282.9 L480.5,279.8 L481.0,285.9 L481.5,284.4 L482.0,284.5 L482.5,283.4 L483.0,287.8 L483.5,283.0 L484.0,283.8 L484.5,278.8 L485.0,281.3 L485.5,281.0 L486.0,282.3 L486.5,283.0 L487.0,280.6 L487.5,285.7 L488.0,279.7 L488.5,280.9 L489.0,282.3 L489.5,279.0 L490.0,282.7 L490.5,282.8 L491.0,280.7 L491.5,285.2 L492.0,281.3 L492.5,281.6 L493.0,278.8 L493.5,277.2 L494.0,279.3 L494.5,279.8 L495.0,279.4 L495.5,281.9 L496.0,275.2 L496.5,277.7 L497.0,276.1 L497.5,282.7 L498.0,278.6 L498.5,278.6 L499.0,277.3 L499.5,281.4 L500.0,278.5 L500.5,279.8 L501.0,275.0 L501.5,281.7 L502.0,280.0 L502.5,280.2 L503.0,281.6 L503.5,278.6 L504.0,278.6 L504.5,280.4 L505.0,279.8 L505.5,278.4 L506.0,279.0 L506.5,277.8 L507.0,280.4 L507.5,280.9 L508.0,279.0 L508.5,282.9 L509.0,275.8 L509.5,278.5 L510.0,282.6 L510.5,278.2 L511.0,275.7 L511.5,282.0 L512.0,280.2 L512.5,276.4 L513.0,280.5 L513.5,276.6 L514.0,275.8 L514.5,278.0 L515.0,277.1 L515.5,275.4 L516.0,276.6 L516.5,274.8 L517.0,276.5 L517.5,275.8 L518.0,276.9 L518.5,273.8 L519.0,271.5 L519.5,271.2 L520.0,273.2 L520.5,277.0 L521.0,275.8 L521.5,273.0 L522.0,276.9 L522.5,273.2 L523.0,278.5 L523.5,276.3 L524.0,279.5 L524.5,279.9 L525.0,278.7 L525.5,280.5 L526.0,278.2 L526.5,280.7 L527.0,283.6 L527.5,290.3 L528.0,283.4 L528.5,282.4 L529.0,280.3 L529.5,284.9 L530.0,279.3 L530.5,281.3 L531.0,283.8 L531.5,280.6 L532.0,286.5 L532.5,285.7 L533.0,282.3 L533.5,282.4 L534.0,280.8 L534.5,280.7 L535.0,284.7 L535.5,285.1 L536.0,284.6 L536.5,284.5 L537.0,282.8 L537.5,284.8 L538.0,281.0 L538.5,284.1 L539.0,287.3 L539.5,287.0 L540.0,283.3 L540.5,283.6 L541.0,287.2 L541.5,288.1 L542.0,281.2 L542.5,283.5 L543.0,284.9 L543.5,287.0 L544.0,282.7 L544.5,285.8 L545.0,283.9 L545.5,289.5 L546.0,285.4 L546.5,284.3 L547.0,283.9 L547.5,286.8 L548.0,286.0 L548.5,282.3 L549.0,285.1 L549.5,281.8 L550.0,283.0 L550.5,281.9 L551.0,281.9 L551.5,283.2 L552.0,282.6 L552.5,285.8 L553.0,286.4 L553.5,284.2 L554.0,282.3 L554.5,286.4 L555.0,280.4 L555.5,280.6 L556.0,286.2 L556.5,286.1 L557.0,286.7 L557.5,284.2 L558.0,282.0 L558.5,283.6 L559.0,285.8 L559.5,283.0 L560.0,283.1 L560.5,281.7 L561.0,282.1 L561.5,286.3 L562.0,285.5 L562.5,282.1 L563.0,282.2 L563.5,283.2 L564.0,285.5 L564.5,281.9 L565.0,283.9 L565.5,279.6 L566.0,281.4 L566.5,284.8 L567.0,285.6 L567.5,281.0 L568.0,281.5 L568.5,284.4 L569.0,281.4 L569.5,280.5 L570.0,282.0 L570.5,280.4 L571.0,281.4 L571.5,279.7 L572.0,275.7 L572.5,275.5 L573.0,274.6 L573.5,271.0 L574.0,271.2 L574.5,275.1 L575.0,269.9 L575.5,276.0 L576.0,275.3 L576.5,275.5 L577.0,278.0 L577.5,279.0 L578.0,281.7 L578.5,279.2 L579.0,280.5 L579.5,281.2 L580.0,286.3 L580.5,284.8 L581.0,281.3 L581.5,282.8 L582.0,282.3 L582.5,284.0 L583.0,284.6 L583.5,289.1 L584.0,280.5 L584.5,286.6 L585.0,285.5 L585.5,283.1 L586.0,284.3 L586.5,283.6 L587.0,284.8 L587.5,286.9 L588.0,281.6 L588.5,287.6 L589.0,284.0 L589.5,288.0 L590.0,285.7 L590.5,287.5 L591.0,286.1 L591.5,287.2 L592.0,285.1 L592.5,283.2 L593.0,286.4 L593.5,286.5 L594.0,289.4 L594.5,280.8 L595.0,284.6 L595.5,287.3 L596.0,282.4 L596.5,284.6 L597.0,289.5 L597.5,288.0 L598.0,283.2 L598.5,288.1 L599.0,287.6 L599.5,286.7 L600.0,285.9 L600.5,285.6 L601.0,283.3 L601.5,284.0 L602.0,286.7 L602.5,285.4 L603.0,289.0 L603.5,284.4 L604.0,280.1 L604.5,284.5 L605.0,285.7 L605.5,286.0 L606.0,285.3 L606.5,283.4 L607.0,288.3 L607.5,283.8 L608.0,286.7 L608.5,284.6 L609.0,282.7 L609.5,288.2 L610.0,279.9 L610.5,283.4 L611.0,286.1 L611.5,284.5 L612.0,286.8 L612.5,285.0 L613.0,284.3 L613.5,289.8 L614.0,284.8 L614.5,284.9 L615.0,283.0 L615.5,283.7 L616.0,286.6 L616.5,286.5 L617.0,285.3 L617.5,283.8 L618.0,286.7 L618.5,281.7 L619.0,284.6 L619.5,284.8 L620.0,283.5 L620.5,285.6 L621.0,283.9 L621.5,283.6 L622.0,289.1 L622.5,286.9 L623.0,287.8 L623.5,285.4 L624.0,287.4 L624.5,287.0 L625.0,287.9 L625.5,290.3 L626.0,284.9 L626.5,285.9 L627.0,285.2 L627.5,278.0 L628.0,282.4 L628.5,285.4 L629.0,286.7 L629.5,284.2 L630.0,287.8 L630.5,288.1 L631.0,284.5 L631.5,288.4 L632.0,289.1 L632.5,286.4 L633.0,283.3 L633.5,288.5 L634.0,285.0 L634.5,284.6 L635.0,285.6 L635.5,284.3 L636.0,287.7 L636.5,287.0 L637.0,288.0 L637.5,286.6 L638.0,283.7 L638.5,285.1 L639.0,287.3 L639.5,284.6 L640.0,291.6 L640.5,284.9 L641.0,284.2 L641.5,287.8 L642.0,287.0 L642.5,285.4 L643.0,284.9 L643.5,286.3 L644.0,287.2 L644.5,287.0 L645.0,284.8 L645.5,286.3 L646.0,287.2 L646.5,287.0 L647.0,279.0 L647.5,283.6 L648.0,283.8 L648.5,285.0 L649.0,285.8 L649.5,287.4 L650.0,286.7 L650.5,285.2 L651.0,285.5 L651.5,289.1 L652.0,284.2 L652.5,286.1 L653.0,288.7 L653.5,286.2 L654.0,281.2 L654.5,286.2 L655.0,284.6 L655.5,285.2 L656.0,287.7 L656.5,286.4 L657.0,284.9 L657.5,287.3 L658.0,286.4 L658.5,285.7 L659.0,286.1 L659.5,286.0 L660.0,284.8 L660.5,284.5 L661.0,285.5 L661.5,283.5 L662.0,282.8 L662.5,288.2 L663.0,285.0 L663.5,285.4 L664.0,285.2 L664.5,285.5 L665.0,285.5 L665.5,285.6 L666.0,283.8 L666.5,287.4 L667.0,284.0 L667.5,287.6 L668.0,281.4 L668.5,283.2 L669.0,287.5 L669.5,285.2 L670.0,284.1 L670.5,286.3 L671.0,283.3 L671.5,285.6 L672.0,280.8 L672.5,284.5 L673.0,284.1 L673.5,286.6 L674.0,287.3 L674.5,283.7 L675.0,288.8 L675.5,284.2 L676.0,281.1 L676.5,280.4 L677.0,288.7 L677.5,285.3 L678.0,284.1 L678.5,283.9 L679.0,283.1 L679.5,288.3 L680.0,285.2 L680.5,289.2 L681.0,285.0 L681.5,280.5 L682.0,287.2 L682.5,284.6 L683.0,284.9 L683.5,288.7 L684.0,284.8 L684.5,287.8 L685.0,285.3 L685.5,283.8 L686.0,286.4 L686.5,284.1 L687.0,287.9 L687.5,287.3 L688.0,285.4 L688.5,286.5 L689.0,286.4 L689.5,284.6 L690.0,287.1 L690.5,284.7 L691.0,286.4 L691.5,283.1 L692.0,285.3 L692.5,285.9 L693.0,283.3 L693.5,284.1 L694.0,283.8 L694.5,286.4 L695.0,283.2 L695.5,285.6 L696.0,287.8 L696.5,285.2 L697.0,280.9 L697.5,284.5 L698.0,286.2 L698.5,283.3 L699.0,286.0 L699.5,284.8 L700.0,284.1 L700.5,282.5 L701.0,281.7 L701.5,282.0 L702.0,282.3 L702.5,283.0 L703.0,282.5 L703.5,280.6 L704.0,281.1 L704.5,281.4 L705.0,276.9 L705.5,278.4 L706.0,278.0 L706.5,279.0 L707.0,278.6 L707.5,278.4 L708.0,277.0 L708.5,280.2 L709.0,279.3 L709.5,275.3 L710.0,278.9 L710.5,276.6 L711.0,282.8 L711.5,278.5 L712.0,278.9 L712.5,280.2 L713.0,279.9 L713.5,280.5 L714.0,284.2 L714.5,281.8 L715.0,283.4 L715.5,284.3 L716.0,280.2 L716.5,286.1 L717.0,284.3 L717.5,285.1 L718.0,281.5 L718.5,285.3 L719.0,284.6 L719.5,282.8 L720.0,288.9 L720.5,285.5 L721.0,283.9 L721.5,285.0 L722.0,286.6 L722.5,287.2 L723.0,286.1 L723.5,287.5 L724.0,288.1 L724.5,282.5 L725.0,284.1 L725.5,283.2 L726.0,285.4 L726.5,288.3 L727.0,286.7 L727.5,283.1 L728.0,284.7 L728.5,287.6 L729.0,284.3 L729.5,285.2 L730.0,286.1 L730.5,281.6 L731.0,287.1 L731.5,286.2 L732.0,286.7 L732.5,283.5 L733.0,283.9 L733.5,284.3 L734.0,286.1 L734.5,285.7 L735.0,285.9 L735.5,289.4 L736.0,288.4 L736.5,284.1 L737.0,284.3 L737.5,289.2 L738.0,285.0 L738.5,288.5 L739.0,289.0 L739.5,284.5 L740.0,285.1 L740.5,285.9 L741.0,283.9 L741.5,283.6 L742.0,284.9 L742.5,287.5 L743.0,284.8 L743.5,285.3 L744.0,284.7 L744.5,282.9 L745.0,288.8 L745.5,280.8 L746.0,284.4 L746.5,286.9 L747.0,282.8 L747.5,287.0 L748.0,288.4 L748.5,284.0 L749.0,286.2 L749.5,283.4 L750.0,286.8 L750.5,286.0 L751.0,286.2 L751.5,288.7 L752.0,286.8 L752.5,288.6 L753.0,287.1 L753.5,283.3 L754.0,286.3 L754.5,286.8 L755.0,282.8 L755.5,288.6 L756.0,286.0 L756.5,286.6 L757.0,283.9 L757.5,286.0 L758.0,286.5 L758.5,285.1 L759.0,286.0 L759.5,281.4 L760.0,288.7 L760.5,283.5 L761.0,281.3 L761.5,283.8 L762.0,284.1 L762.5,287.0 L763.0,283.9 L763.5,286.5 L764.0,283.8 L764.5,290.5 L765.0,287.0 L765.5,290.0 L766.0,283.7 L766.5,287.3 L767.0,283.9 L767.5,287.1 L768.0,287.3 L768.5,282.5 L769.0,283.5 L769.5,283.4 L770.0,282.7 L770.5,284.3 L771.0,283.9 L771.5,282.8 L772.0,286.1 L772.5,287.0 L773.0,283.1 L773.5,284.7 L774.0,285.9 L774.5,285.4 L775.0,284.4 L775.5,287.6 L776.0,287.7 L776.5,287.3 L777.0,285.5 L777.5,290.1 L778.0,289.6 L778.5,285.1 L779.0,285.7 L779.5,288.4 L780.0,284.2 L780.5,286.7 L781.0,286.0 L781.5,284.4 L782.0,285.4 L782.5,282.6 L783.0,284.8 L783.5,281.7 L784.0,290.7 L784.5,289.1 L785.0,288.5 L785.5,286.6 L786.0,288.0 L786.5,288.6 L787.0,288.1 L787.5,287.9 L788.0,284.0 L788.5,286.8 L789.0,284.8 L789.5,283.5 L790.0,283.5 L790.5,286.8 L791.0,288.1 L791.5,283.1 L792.0,289.6 L792.5,289.0 L793.0,285.1 L793.5,285.0 L794.0,285.8 L794.5,288.0 L795.0,285.1 L795.5,283.6 L796.0,286.7 L796.5,281.6 L797.0,286.2 L797.5,288.4 L798.0,286.6 L798.5,287.6 L799.0,287.0 L799.5,287.5 L800.0,286.3 L800.5,284.2 L801.0,285.5 L801.5,285.8 L802.0,288.6 L802.5,289.4 L803.0,286.8 L803.5,284.4 L804.0,284.4 L804.5,285.6 L805.0,288.9 L805.5,286.7 L806.0,285.9 L806.5,284.4 L807.0,287.8 L807.5,286.6 L808.0,285.9 L808.5,286.2 L809.0,289.5 L809.5,285.6 L810.0,289.5 L810.5,288.6 L811.0,286.1 L811.5,287.8 L812.0,285.7 L812.5,284.3 L813.0,285.4 L813.5,284.1 L814.0,287.1 L814.5,286.0 L815.0,287.2 L815.5,287.7 L816.0,279.5 L816.5,286.7 L817.0,282.2 L817.5,286.4 L818.0,284.2 L818.5,286.2 L819.0,288.9 L819.5,282.4 L820.0,286.4 L820.5,285.9 L821.0,282.0 L821.5,287.4 L822.0,286.1 L822.5,285.0 L823.0,284.5 L823.5,292.8 L824.0,285.2 L824.5,282.3 L825.0,284.1 L825.5,285.3 L826.0,285.2 L826.5,285.9 L827.0,283.8 L827.5,287.2 L828.0,285.0 L828.5,283.2 L829.0,284.3 L829.5,285.2 L830.0,287.8 L830.5,287.1 L831.0,285.3 L831.5,286.1 L832.0,286.5 L832.5,290.3 L833.0,284.8 L833.5,287.0 L834.0,287.6 L834.5,284.1 L835.0,286.5 L835.5,286.4 L836.0,285.1 L836.5,287.3 L837.0,288.2 L837.5,288.4 L838.0,285.7 L838.5,286.5 L839.0,291.0 L839.5,283.8 L840.0,286.5 L840.5,288.0 L841.0,286.4 L841.5,287.5 L842.0,286.4 L842.5,287.7 L843.0,288.8 L843.5,285.6 L844.0,286.5 L844.5,286.0 L845.0,285.2 L845.5,286.1 L846.0,283.7 L846.5,287.7 L847.0,289.7 L847.5,289.7 L848.0,288.8 L848.5,284.1 L849.0,289.3 L849.5,284.6 L850.0,286.0 L850.5,290.0 L851.0,283.9 L851.5,287.9 L852.0,286.7 L852.5,285.8 L853.0,284.3 L853.5,287.0 L854.0,285.1 L854.5,288.3 L855.0,288.7 L855.5,283.2 L856.0,285.1 L856.5,285.5 L857.0,283.6 L857.5,283.8 L858.0,286.3 L858.5,285.7 L859.0,282.7 L859.5,285.0 L860.0,287.2 L860.5,283.6 L861.0,284.2 L861.5,289.5 L862.0,288.9 L862.5,282.7 L863.0,283.3 L863.5,286.9 L864.0,283.6 L864.5,285.6 L865.0,285.2 L865.5,287.3 L866.0,280.8 L866.5,281.5 L867.0,283.6 L867.5,288.3 L868.0,285.8 L868.5,282.6 L869.0,287.2 L869.5,287.7 L870.0,285.7 L870.5,285.5 L871.0,287.1 L871.5,288.7 L872.0,286.5 L872.5,287.3 L873.0,286.1 L873.5,285.4 L874.0,284.3 L874.5,286.7 L875.0,285.6 L875.5,285.7 L876.0,288.1 L876.5,287.2 L877.0,288.0 L877.5,282.9 L878.0,287.4 L878.5,285.0 L879.0,284.5 L879.5,284.4 L880.0,288.7 L880.5,287.9 L881.0,284.7 L881.5,283.8 L882.0,286.2 L882.5,285.2 L883.0,289.7 L883.5,283.1 L884.0,282.4 L884.5,285.7 L885.0,286.2 L885.5,286.5 L886.0,287.8 L886.5,290.6 L887.0,285.5 L887.5,285.1 L888.0,282.5 L888.5,286.7 L889.0,288.0 L889.5,285.7 L890.0,288.7 L890.5,286.3 L891.0,289.4 L891.5,286.9 L892.0,284.0 L892.5,284.9 L893.0,283.0 L893.5,282.6 L894.0,286.8 L894.5,288.1 L895.0,290.3 L895.5,286.1 L896.0,285.7 L896.5,283.9 L897.0,288.3 L897.5,287.1 L898.0,285.0 L898.5,287.7 L899.0,287.4 L899.5,282.3 L900.0,287.8 L900.5,286.5 L901.0,285.4 L901.5,285.4 L902.0,289.9 L902.5,289.5 L903.0,290.1 L903.5,283.8 L904.0,284.9 L904.5,288.2 L905.0,283.7 L905.5,284.8 L906.0,282.5 L906.5,290.2 L907.0,288.5 L907.5,287.2 L908.0,286.7 L908.5,285.4 L909.0,285.4 L909.5,287.6 L910.0,284.8 L910.5,288.9 L911.0,285.2 L911.5,284.4 L912.0,289.0 L912.5,286.0 L913.0,287.5 L913.5,285.4 L914.0,281.6 L914.5,287.4 L915.0,283.5 L915.5,288.6 L916.0,283.0 L916.5,282.4 L917.0,286.9 L917.5,287.2 L918.0,286.5 L918.5,283.8 L919.0,288.2 L919.5,283.2 L920.0,285.3 L920.5,284.7 L921.0,285.5 L921.5,288.1 L922.0,285.0 L922.5,287.5 L923.0,287.8 L923.5,282.7 L924.0,283.9 L924.5,285.5 L925.0,285.1 L925.5,287.0 L926.0,282.3 L926.5,287.8 L927.0,287.9 L927.5,286.0 L928.0,283.4 L928.5,286.3 L929.0,285.2 L929.5,287.5 L930.0,286.2 L930.5,287.9 L931.0,285.4 L931.5,289.4 L932.0,281.5 L932.5,284.2 L933.0,287.4 L933.5,283.2 L934.0,287.9 L934.5,283.8 L935.0,286.5 L935.5,284.4 L936.0,285.4 L936.5,286.7 L937.0,286.1 L937.5,285.6 L938.0,290.9 L938.5,286.4 L939.0,284.3 L939.5,288.3 L940.0,288.1 L940.5,288.9 L941.0,290.1 L941.5,284.4 L942.0,288.6 L942.5,288.8 L943.0,286.4 L943.5,286.9 L944.0,280.1 L944.5,285.2 L945.0,290.1 L945.5,282.6 L946.0,285.3 L946.5,287.0 L947.0,287.6 L947.5,289.8 L948.0,282.7 L948.5,286.5 L949.0,288.2 L949.5,283.6 L950.0,286.3 L950.5,290.3 L951.0,289.2 L951.5,287.5 L952.0,280.9 L952.5,286.1 L953.0,287.2 L953.5,285.8 L954.0,286.3 L954.5,292.9 L955.0,286.0 L955.5,284.4 L956.0,286.9 L956.5,285.7 L957.0,285.8 L957.5,286.2 L958.0,288.0 L958.5,286.9 L959.0,283.9 L959.5,286.1 L960.0,287.4 L960.5,285.4 L961.0,288.8 L961.5,288.1 L962.0,284.3 L962.5,287.1 L963.0,290.6 L963.5,289.7 L964.0,286.3 L964.5,288.3 L965.0,285.0 L965.5,283.4 L966.0,287.6 L966.5,287.0 L967.0,287.5 L967.5,286.4 L968.0,287.1 L968.5,285.4 L969.0,287.4 L969.5,288.2 L970.0,286.3 L970.5,288.2 L971.0,282.7 L971.5,284.8 L972.0,289.5 L972.5,290.2 L973.0,287.0 L973.5,286.2 L974.0,283.8 L974.5,287.2 L975.0,288.1 L975.5,283.3 L976.0,287.6 L976.5,287.5 L977.0,287.4 L977.5,284.1 L978.0,287.6 L978.5,283.3 L979.0,289.6 L979.5,286.8" fill="none" stroke="#800000" stroke-width="2.5" stroke-linejoin="round"/><path d="M53.0,352.0 L53.5,357.3 L54.0,356.9 L54.5,353.1 L55.0,359.1 L55.5,352.4 L56.0,355.1 L56.5,357.0 L57.0,349.7 L57.5,356.6 L58.0,354.3 L58.5,354.4 L59.0,352.2 L59.5,355.2 L60.0,352.1 L60.5,352.4 L61.0,353.5 L61.5,351.9 L62.0,357.8 L62.5,351.7 L63.0,352.9 L63.5,353.8 L64.0,354.5 L64.5,356.1 L65.0,356.2 L65.5,353.8 L66.0,353.6 L66.5,354.5 L67.0,356.1 L67.5,355.9 L68.0,353.3 L68.5,350.1 L69.0,358.9 L69.5,356.4 L70.0,354.9 L70.5,355.1 L71.0,353.2 L71.5,352.2 L72.0,353.6 L72.5,353.8 L73.0,353.0 L73.5,351.2 L74.0,353.6 L74.5,355.5 L75.0,353.2 L75.5,354.3 L76.0,349.8 L76.5,353.7 L77.0,353.9 L77.5,351.6 L78.0,350.5 L78.5,355.0 L79.0,352.4 L79.5,355.1 L80.0,353.1 L80.5,355.3 L81.0,353.3 L81.5,350.8 L82.0,353.7 L82.5,353.2 L83.0,355.2 L83.5,352.9 L84.0,353.0 L84.5,355.6 L85.0,356.2 L85.5,355.3 L86.0,355.8 L86.5,354.6 L87.0,355.2 L87.5,355.4 L88.0,354.3 L88.5,353.6 L89.0,353.7 L89.5,358.4 L90.0,353.4 L90.5,352.8 L91.0,352.5 L91.5,353.1 L92.0,353.7 L92.5,350.7 L93.0,348.9 L93.5,353.6 L94.0,349.6 L94.5,353.4 L95.0,353.1 L95.5,355.2 L96.0,356.2 L96.5,353.4 L97.0,351.5 L97.5,350.1 L98.0,350.8 L98.5,352.5 L99.0,348.0 L99.5,352.5 L100.0,352.2 L100.5,353.6 L101.0,351.5 L101.5,352.3 L102.0,350.5 L102.5,351.0 L103.0,348.2 L103.5,352.1 L104.0,355.1 L104.5,352.1 L105.0,352.4 L105.5,349.6 L106.0,354.6 L106.5,349.9 L107.0,353.1 L107.5,351.6 L108.0,349.3 L108.5,353.4 L109.0,351.3 L109.5,351.6 L110.0,352.1 L110.5,351.0 L111.0,350.2 L111.5,352.0 L112.0,350.1 L112.5,351.1 L113.0,349.5 L113.5,347.7 L114.0,349.4 L114.5,349.7 L115.0,350.8 L115.5,353.2 L116.0,347.2 L116.5,351.0 L117.0,346.0 L117.5,348.5 L118.0,349.6 L118.5,345.9 L119.0,346.8 L119.5,351.0 L120.0,350.8 L120.5,350.4 L121.0,349.0 L121.5,355.2 L122.0,350.4 L122.5,348.9 L123.0,354.3 L123.5,352.1 L124.0,350.0 L124.5,353.4 L125.0,351.2 L125.5,352.3 L126.0,351.5 L126.5,348.9 L127.0,353.1 L127.5,351.4 L128.0,349.0 L128.5,349.6 L129.0,353.3 L129.5,350.6 L130.0,351.5 L130.5,352.8 L131.0,351.8 L131.5,348.4 L132.0,353.0 L132.5,353.7 L133.0,353.6 L133.5,355.2 L134.0,352.7 L134.5,353.6 L135.0,355.4 L135.5,351.5 L136.0,355.9 L136.5,355.9 L137.0,354.0 L137.5,356.3 L138.0,354.3 L138.5,350.7 L139.0,355.0 L139.5,353.4 L140.0,353.6 L140.5,353.2 L141.0,355.8 L141.5,354.2 L142.0,351.6 L142.5,354.2 L143.0,354.7 L143.5,351.7 L144.0,352.4 L144.5,352.6 L145.0,352.2 L145.5,354.3 L146.0,355.7 L146.5,357.6 L147.0,356.2 L147.5,355.9 L148.0,356.3 L148.5,356.7 L149.0,353.2 L149.5,355.5 L150.0,354.8 L150.5,353.9 L151.0,353.2 L151.5,353.2 L152.0,353.7 L152.5,351.8 L153.0,355.5 L153.5,354.4 L154.0,354.7 L154.5,355.3 L155.0,356.1 L155.5,353.4 L156.0,354.5 L156.5,351.4 L157.0,350.1 L157.5,350.8 L158.0,358.1 L158.5,351.1 L159.0,355.9 L159.5,358.1 L160.0,354.1 L160.5,358.5 L161.0,359.0 L161.5,357.1 L162.0,360.2 L162.5,356.5 L163.0,353.7 L163.5,356.4 L164.0,354.4 L164.5,352.6 L165.0,352.7 L165.5,360.3 L166.0,354.3 L166.5,355.4 L167.0,354.1 L167.5,355.8 L168.0,355.0 L168.5,354.7 L169.0,353.1 L169.5,352.7 L170.0,354.1 L170.5,356.3 L171.0,360.1 L171.5,357.9 L172.0,359.6 L172.5,356.8 L173.0,355.6 L173.5,353.0 L174.0,355.8 L174.5,351.3 L175.0,355.2 L175.5,359.3 L176.0,356.6 L176.5,358.3 L177.0,355.1 L177.5,353.1 L178.0,355.0 L178.5,355.1 L179.0,358.5 L179.5,360.2 L180.0,354.5 L180.5,355.3 L181.0,355.8 L181.5,355.3 L182.0,353.5 L182.5,356.3 L183.0,356.9 L183.5,356.9 L184.0,353.6 L184.5,355.9 L185.0,352.5 L185.5,358.1 L186.0,354.0 L186.5,355.6 L187.0,355.3 L187.5,355.0 L188.0,354.0 L188.5,352.5 L189.0,359.9 L189.5,356.8 L190.0,356.8 L190.5,360.7 L191.0,356.1 L191.5,357.5 L192.0,356.4 L192.5,358.8 L193.0,357.4 L193.5,357.0 L194.0,355.8 L194.5,357.0 L195.0,358.8 L195.5,352.0 L196.0,356.1 L196.5,355.5 L197.0,355.8 L197.5,352.3 L198.0,358.0 L198.5,354.7 L199.0,356.0 L199.5,355.4 L200.0,353.0 L200.5,355.5 L201.0,352.6 L201.5,354.5 L202.0,355.8 L202.5,356.5 L203.0,356.6 L203.5,356.2 L204.0,361.0 L204.5,357.4 L205.0,354.0 L205.5,355.3 L206.0,355.2 L206.5,356.2 L207.0,355.3 L207.5,354.8 L208.0,360.0 L208.5,356.7 L209.0,355.9 L209.5,356.1 L210.0,356.1 L210.5,359.5 L211.0,357.6 L211.5,359.0 L212.0,350.1 L212.5,357.3 L213.0,358.9 L213.5,360.8 L214.0,356.7 L214.5,353.0 L215.0,357.9 L215.5,355.4 L216.0,352.9 L216.5,355.4 L217.0,358.9 L217.5,359.2 L218.0,358.2 L218.5,354.5 L219.0,362.0 L219.5,354.2 L220.0,356.5 L220.5,353.7 L221.0,359.5 L221.5,357.6 L222.0,358.6 L222.5,356.9 L223.0,356.6 L223.5,357.1 L224.0,352.7 L224.5,358.8 L225.0,358.6 L225.5,355.9 L226.0,356.7 L226.5,357.3 L227.0,360.0 L227.5,357.6 L228.0,356.8 L228.5,355.6 L229.0,353.5 L229.5,355.4 L230.0,356.8 L230.5,356.2 L231.0,356.8 L231.5,358.2 L232.0,357.6 L232.5,357.2 L233.0,358.0 L233.5,357.0 L234.0,356.5 L234.5,357.6 L235.0,353.0 L235.5,359.2 L236.0,353.8 L236.5,358.3 L237.0,356.5 L237.5,358.8 L238.0,356.5 L238.5,354.4 L239.0,358.6 L239.5,356.7 L240.0,356.5 L240.5,356.4 L241.0,358.3 L241.5,357.9 L242.0,356.6 L242.5,352.8 L243.0,355.1 L243.5,356.1 L244.0,359.5 L244.5,356.4 L245.0,355.3 L245.5,357.9 L246.0,354.9 L246.5,354.9 L247.0,355.1 L247.5,351.3 L248.0,356.2 L248.5,354.7 L249.0,352.7 L249.5,350.2 L250.0,352.2 L250.5,353.4 L251.0,347.3 L251.5,343.7 L252.0,343.2 L252.5,334.3 L253.0,327.2 L253.5,324.6 L254.0,317.9 L254.5,314.2 L255.0,312.1 L255.5,316.0 L256.0,319.4 L256.5,324.2 L257.0,329.9 L257.5,336.8 L258.0,341.0 L258.5,343.4 L259.0,344.6 L259.5,337.2 L260.0,342.5 L260.5,344.3 L261.0,345.6 L261.5,341.9 L262.0,348.4 L262.5,346.2 L263.0,344.4 L263.5,346.3 L264.0,345.6 L264.5,345.0 L265.0,348.0 L265.5,346.4 L266.0,344.7 L266.5,346.8 L267.0,348.2 L267.5,346.6 L268.0,351.9 L268.5,347.3 L269.0,353.6 L269.5,352.1 L270.0,348.5 L270.5,351.0 L271.0,353.4 L271.5,350.8 L272.0,348.8 L272.5,351.7 L273.0,355.8 L273.5,348.6 L274.0,352.9 L274.5,351.8 L275.0,351.6 L275.5,351.1 L276.0,351.2 L276.5,354.0 L277.0,353.1 L277.5,349.7 L278.0,355.0 L278.5,349.0 L279.0,353.0 L279.5,351.9 L280.0,354.0 L280.5,352.1 L281.0,353.5 L281.5,351.2 L282.0,353.2 L282.5,351.8 L283.0,355.4 L283.5,349.4 L284.0,353.2 L284.5,351.6 L285.0,350.9 L285.5,349.3 L286.0,351.3 L286.5,347.2 L287.0,347.3 L287.5,351.6 L288.0,346.7 L288.5,352.9 L289.0,349.2 L289.5,350.2 L290.0,349.8 L290.5,350.5 L291.0,348.9 L291.5,348.7 L292.0,349.1 L292.5,351.5 L293.0,351.6 L293.5,351.9 L294.0,349.9 L294.5,348.7 L295.0,345.5 L295.5,350.4 L296.0,350.7 L296.5,348.1 L297.0,350.6 L297.5,351.6 L298.0,349.1 L298.5,351.1 L299.0,349.5 L299.5,345.3 L300.0,347.9 L300.5,348.1 L301.0,350.0 L301.5,347.1 L302.0,348.1 L302.5,347.0 L303.0,349.0 L303.5,349.2 L304.0,351.2 L304.5,350.8 L305.0,349.6 L305.5,349.8 L306.0,349.6 L306.5,349.6 L307.0,352.7 L307.5,344.3 L308.0,349.2 L308.5,350.3 L309.0,352.1 L309.5,347.5 L310.0,350.6 L310.5,351.8 L311.0,349.1 L311.5,346.1 L312.0,349.4 L312.5,347.7 L313.0,351.6 L313.5,348.5 L314.0,354.0 L314.5,350.6 L315.0,348.6 L315.5,349.2 L316.0,347.9 L316.5,351.0 L317.0,353.2 L317.5,349.6 L318.0,351.9 L318.5,347.9 L319.0,350.4 L319.5,354.5 L320.0,346.6 L320.5,352.0 L321.0,351.7 L321.5,345.2 L322.0,346.1 L322.5,346.9 L323.0,351.0 L323.5,348.0 L324.0,348.5 L324.5,350.4 L325.0,349.2 L325.5,349.5 L326.0,348.4 L326.5,351.6 L327.0,347.8 L327.5,353.2 L328.0,349.2 L328.5,348.5 L329.0,351.8 L329.5,351.7 L330.0,346.9 L330.5,351.9 L331.0,349.0 L331.5,350.4 L332.0,354.2 L332.5,351.1 L333.0,354.0 L333.5,352.8 L334.0,357.9 L334.5,354.0 L335.0,352.0 L335.5,352.5 L336.0,353.1 L336.5,355.6 L337.0,355.5 L337.5,357.8 L338.0,356.3 L338.5,356.4 L339.0,356.9 L339.5,356.1 L340.0,357.1 L340.5,358.3 L341.0,358.4 L341.5,355.7 L342.0,353.2 L342.5,355.3 L343.0,357.7 L343.5,351.9 L344.0,356.2 L344.5,358.2 L345.0,356.1 L345.5,355.0 L346.0,361.1 L346.5,360.4 L347.0,357.0 L347.5,360.3 L348.0,360.3 L348.5,355.2 L349.0,363.3 L349.5,355.7 L350.0,357.1 L350.5,355.4 L351.0,357.9 L351.5,355.0 L352.0,357.8 L352.5,360.1 L353.0,358.3 L353.5,357.3 L354.0,361.1 L354.5,356.0 L355.0,359.9 L355.5,357.2 L356.0,358.3 L356.5,357.9 L357.0,358.1 L357.5,357.7 L358.0,356.2 L358.5,356.6 L359.0,358.7 L359.5,357.5 L360.0,355.3 L360.5,356.2 L361.0,356.1 L361.5,357.4 L362.0,357.7 L362.5,357.3 L363.0,355.5 L363.5,356.6 L364.0,353.3 L364.5,349.6 L365.0,355.0 L365.5,351.1 L366.0,352.1 L366.5,351.1 L367.0,354.6 L367.5,350.6 L368.0,353.9 L368.5,352.6 L369.0,351.5 L369.5,351.3 L370.0,356.1 L370.5,356.5 L371.0,357.8 L371.5,360.4 L372.0,357.5 L372.5,357.8 L373.0,357.1 L373.5,357.8 L374.0,356.9 L374.5,355.9 L375.0,362.0 L375.5,354.0 L376.0,358.5 L376.5,358.9 L377.0,358.3 L377.5,356.0 L378.0,357.6 L378.5,357.1 L379.0,355.8 L379.5,358.0 L380.0,357.2 L380.5,356.9 L381.0,359.5 L381.5,355.9 L382.0,359.0 L382.5,356.8 L383.0,359.0 L383.5,358.3 L384.0,358.6 L384.5,356.1 L385.0,356.5 L385.5,356.3 L386.0,358.5 L386.5,359.7 L387.0,360.4 L387.5,357.1 L388.0,358.3 L388.5,354.8 L389.0,353.5 L389.5,356.4 L390.0,356.8 L390.5,354.9 L391.0,354.4 L391.5,359.3 L392.0,356.5 L392.5,354.7 L393.0,363.0 L393.5,358.5 L394.0,357.5 L394.5,359.6 L395.0,356.6 L395.5,361.5 L396.0,355.0 L396.5,355.4 L397.0,357.9 L397.5,356.6 L398.0,361.1 L398.5,354.8 L399.0,356.7 L399.5,358.7 L400.0,359.4 L400.5,360.3 L401.0,358.9 L401.5,362.8 L402.0,357.2 L402.5,358.6 L403.0,360.0 L403.5,357.5 L404.0,357.6 L404.5,357.2 L405.0,356.8 L405.5,355.8 L406.0,357.0 L406.5,355.0 L407.0,359.0 L407.5,354.9 L408.0,362.5 L408.5,361.8 L409.0,360.5 L409.5,357.8 L410.0,357.0 L410.5,360.8 L411.0,358.6 L411.5,359.4 L412.0,356.7 L412.5,360.4 L413.0,356.5 L413.5,358.4 L414.0,354.6 L414.5,356.8 L415.0,359.2 L415.5,357.3 L416.0,357.3 L416.5,359.9 L417.0,358.0 L417.5,360.8 L418.0,353.1 L418.5,359.4 L419.0,359.3 L419.5,355.0 L420.0,355.5 L420.5,360.0 L421.0,356.0 L421.5,356.9 L422.0,359.5 L422.5,357.5 L423.0,359.2 L423.5,356.4 L424.0,358.8 L424.5,360.5 L425.0,358.9 L425.5,353.6 L426.0,359.6 L426.5,358.3 L427.0,356.3 L427.5,361.1 L428.0,354.6 L428.5,362.1 L429.0,356.9 L429.5,361.5 L430.0,358.1 L430.5,355.4 L431.0,358.4 L431.5,358.9 L432.0,359.4 L432.5,360.5 L433.0,356.4 L433.5,359.3 L434.0,359.8 L434.5,357.7 L435.0,356.3 L435.5,356.2 L436.0,359.8 L436.5,359.9 L437.0,356.5 L437.5,355.4 L438.0,360.8 L438.5,355.0 L439.0,358.6 L439.5,356.6 L440.0,354.6 L440.5,358.5 L441.0,357.9 L441.5,361.3 L442.0,363.0 L442.5,357.9 L443.0,360.4 L443.5,360.4 L444.0,357.2 L444.5,356.4 L445.0,361.6 L445.5,357.5 L446.0,358.2 L446.5,357.6 L447.0,358.0 L447.5,357.0 L448.0,359.8 L448.5,360.9 L449.0,357.5 L449.5,355.4 L450.0,358.4 L450.5,355.2 L451.0,356.9 L451.5,360.8 L452.0,363.1 L452.5,359.0 L453.0,356.0 L453.5,359.9 L454.0,353.6 L454.5,356.8 L455.0,361.4 L455.5,359.8 L456.0,355.4 L456.5,354.8 L457.0,360.1 L457.5,358.2 L458.0,357.0 L458.5,359.1 L459.0,357.1 L459.5,354.3 L460.0,360.0 L460.5,356.9 L461.0,356.2 L461.5,355.5 L462.0,358.8 L462.5,356.6 L463.0,359.6 L463.5,357.7 L464.0,360.5 L464.5,357.5 L465.0,356.9 L465.5,354.1 L466.0,356.0 L466.5,359.8 L467.0,364.6 L467.5,355.6 L468.0,356.1 L468.5,359.0 L469.0,359.3 L469.5,356.8 L470.0,358.4 L470.5,354.9 L471.0,357.6 L471.5,360.1 L472.0,361.7 L472.5,357.9 L473.0,357.7 L473.5,359.2 L474.0,360.6 L474.5,359.3 L475.0,356.7 L475.5,359.0 L476.0,360.3 L476.5,356.7 L477.0,355.4 L477.5,359.3 L478.0,359.0 L478.5,360.2 L479.0,358.4 L479.5,356.9 L480.0,357.3 L480.5,356.1 L481.0,356.2 L481.5,357.0 L482.0,357.2 L482.5,360.5 L483.0,355.6 L483.5,358.1 L484.0,356.9 L484.5,361.3 L485.0,358.7 L485.5,357.4 L486.0,359.9 L486.5,358.3 L487.0,357.1 L487.5,361.3 L488.0,359.6 L488.5,361.7 L489.0,360.5 L489.5,359.7 L490.0,358.4 L490.5,355.8 L491.0,359.6 L491.5,358.2 L492.0,359.5 L492.5,358.0 L493.0,356.6 L493.5,355.9 L494.0,359.4 L494.5,360.7 L495.0,357.3 L495.5,358.9 L496.0,360.8 L496.5,356.1 L497.0,357.1 L497.5,355.5 L498.0,360.2 L498.5,358.3 L499.0,356.7 L499.5,354.2 L500.0,357.2 L500.5,359.6 L501.0,356.9 L501.5,356.5 L502.0,358.7 L502.5,354.7 L503.0,357.3 L503.5,358.4 L504.0,355.4 L504.5,355.2 L505.0,357.3 L505.5,356.5 L506.0,356.0 L506.5,356.8 L507.0,356.7 L507.5,354.1 L508.0,354.5 L508.5,356.6 L509.0,357.8 L509.5,358.1 L510.0,353.3 L510.5,357.1 L511.0,356.2 L511.5,354.3 L512.0,355.1 L512.5,355.5 L513.0,357.3 L513.5,351.0 L514.0,354.2 L514.5,352.4 L515.0,351.9 L515.5,354.5 L516.0,353.5 L516.5,349.4 L517.0,350.6 L517.5,351.4 L518.0,347.8 L518.5,352.3 L519.0,350.1 L519.5,350.4 L520.0,350.6 L520.5,353.5 L521.0,349.8 L521.5,348.9 L522.0,353.2 L522.5,348.6 L523.0,348.6 L523.5,346.9 L524.0,352.2 L524.5,350.6 L525.0,351.2 L525.5,350.8 L526.0,350.4 L526.5,349.3 L527.0,349.6 L527.5,352.4 L528.0,352.1 L528.5,355.5 L529.0,350.8 L529.5,351.7 L530.0,350.9 L530.5,356.2 L531.0,351.0 L531.5,355.5 L532.0,357.1 L532.5,354.1 L533.0,356.2 L533.5,350.5 L534.0,354.3 L534.5,351.9 L535.0,355.9 L535.5,355.8 L536.0,354.4 L536.5,358.1 L537.0,357.0 L537.5,355.4 L538.0,355.5 L538.5,353.7 L539.0,356.5 L539.5,361.4 L540.0,355.6 L540.5,358.1 L541.0,356.1 L541.5,359.0 L542.0,358.4 L542.5,357.0 L543.0,353.9 L543.5,356.6 L544.0,360.2 L544.5,357.2 L545.0,359.1 L545.5,356.8 L546.0,354.0 L546.5,358.8 L547.0,358.6 L547.5,356.7 L548.0,357.2 L548.5,358.6 L549.0,356.8 L549.5,358.7 L550.0,357.6 L550.5,353.2 L551.0,357.8 L551.5,356.8 L552.0,356.3 L552.5,358.9 L553.0,357.1 L553.5,359.2 L554.0,360.4 L554.5,358.4 L555.0,354.9 L555.5,356.6 L556.0,360.0 L556.5,357.5 L557.0,356.4 L557.5,357.8 L558.0,359.1 L558.5,358.5 L559.0,359.3 L559.5,356.2 L560.0,357.3 L560.5,357.3 L561.0,357.7 L561.5,353.4 L562.0,357.1 L562.5,354.7 L563.0,360.3 L563.5,360.5 L564.0,360.5 L564.5,358.5 L565.0,355.6 L565.5,358.3 L566.0,355.5 L566.5,356.8 L567.0,353.2 L567.5,353.4 L568.0,355.1 L568.5,357.3 L569.0,353.0 L569.5,357.1 L570.0,357.6 L570.5,348.6 L571.0,350.7 L571.5,348.3 L572.0,349.7 L572.5,348.6 L573.0,349.5 L573.5,351.8 L574.0,351.9 L574.5,350.9 L575.0,350.8 L575.5,351.6 L576.0,352.2 L576.5,353.7 L577.0,353.1 L577.5,354.7 L578.0,351.5 L578.5,356.4 L579.0,358.9 L579.5,356.1 L580.0,353.1 L580.5,359.2 L581.0,356.0 L581.5,350.8 L582.0,356.8 L582.5,358.7 L583.0,358.4 L583.5,360.3 L584.0,359.1 L584.5,358.2 L585.0,353.9 L585.5,355.8 L586.0,358.5 L586.5,359.6 L587.0,356.1 L587.5,357.0 L588.0,359.3 L588.5,354.4 L589.0,354.4 L589.5,358.0 L590.0,359.0 L590.5,357.5 L591.0,353.7 L591.5,358.6 L592.0,355.8 L592.5,359.9 L593.0,358.4 L593.5,359.1 L594.0,359.9 L594.5,357.5 L595.0,360.3 L595.5,361.2 L596.0,359.5 L596.5,361.4 L597.0,357.4 L597.5,360.6 L598.0,359.3 L598.5,356.7 L599.0,358.5 L599.5,357.6 L600.0,357.6 L600.5,358.9 L601.0,361.0 L601.5,358.1 L602.0,359.0 L602.5,355.7 L603.0,359.0 L603.5,361.2 L604.0,360.5 L604.5,359.8 L605.0,357.7 L605.5,356.8 L606.0,358.6 L606.5,356.0 L607.0,356.2 L607.5,360.8 L608.0,356.9 L608.5,362.6 L609.0,355.9 L609.5,359.7 L610.0,356.4 L610.5,359.2 L611.0,356.7 L611.5,358.9 L612.0,358.5 L612.5,357.9 L613.0,359.9 L613.5,362.0 L614.0,357.6 L614.5,360.7 L615.0,359.0 L615.5,358.8 L616.0,363.4 L616.5,354.4 L617.0,357.5 L617.5,355.1 L618.0,358.2 L618.5,358.4 L619.0,366.8 L619.5,359.6 L620.0,362.6 L620.5,361.6 L621.0,358.0 L621.5,359.9 L622.0,362.4 L622.5,359.3 L623.0,359.4 L623.5,360.0 L624.0,355.8 L624.5,357.2 L625.0,359.6 L625.5,360.1 L626.0,357.0 L626.5,358.3 L627.0,358.7 L627.5,358.6 L628.0,360.4 L628.5,359.2 L629.0,359.3 L629.5,356.0 L630.0,356.8 L630.5,359.6 L631.0,355.6 L631.5,359.5 L632.0,357.6 L632.5,357.3 L633.0,360.3 L633.5,357.5 L634.0,357.2 L634.5,357.6 L635.0,359.1 L635.5,364.7 L636.0,354.5 L636.5,358.9 L637.0,358.5 L637.5,360.9 L638.0,358.2 L638.5,353.8 L639.0,361.7 L639.5,356.7 L640.0,358.8 L640.5,356.1 L641.0,356.7 L641.5,357.9 L642.0,360.8 L642.5,360.7 L643.0,357.7 L643.5,360.0 L644.0,358.2 L644.5,359.2 L645.0,359.3 L645.5,360.3 L646.0,357.7 L646.5,358.7 L647.0,359.4 L647.5,359.2 L648.0,357.3 L648.5,362.6 L649.0,358.0 L649.5,360.6 L650.0,359.4 L650.5,361.5 L651.0,354.4 L651.5,363.3 L652.0,358.5 L652.5,356.4 L653.0,359.2 L653.5,363.7 L654.0,360.0 L654.5,356.4 L655.0,358.0 L655.5,361.8 L656.0,356.1 L656.5,358.6 L657.0,358.4 L657.5,363.5 L658.0,358.4 L658.5,361.7 L659.0,357.6 L659.5,357.3 L660.0,361.1 L660.5,360.3 L661.0,355.4 L661.5,360.3 L662.0,360.3 L662.5,357.7 L663.0,359.4 L663.5,359.5 L664.0,358.0 L664.5,357.8 L665.0,357.6 L665.5,358.4 L666.0,356.2 L666.5,358.9 L667.0,355.9 L667.5,359.1 L668.0,358.8 L668.5,356.8 L669.0,360.8 L669.5,363.0 L670.0,361.7 L670.5,356.1 L671.0,361.6 L671.5,359.4 L672.0,358.9 L672.5,357.7 L673.0,359.0 L673.5,361.9 L674.0,360.1 L674.5,358.1 L675.0,357.6 L675.5,358.1 L676.0,360.2 L676.5,362.8 L677.0,356.7 L677.5,358.9 L678.0,358.1 L678.5,357.4 L679.0,359.8 L679.5,360.1 L680.0,356.0 L680.5,356.8 L681.0,361.4 L681.5,359.6 L682.0,360.0 L682.5,357.9 L683.0,358.1 L683.5,359.9 L684.0,357.9 L684.5,356.6 L685.0,358.9 L685.5,360.8 L686.0,356.7 L686.5,361.1 L687.0,360.3 L687.5,357.0 L688.0,358.8 L688.5,358.7 L689.0,360.1 L689.5,360.2 L690.0,356.1 L690.5,356.0 L691.0,360.9 L691.5,359.0 L692.0,359.6 L692.5,359.4 L693.0,361.8 L693.5,356.1 L694.0,360.8 L694.5,356.8 L695.0,360.0 L695.5,361.2 L696.0,355.5 L696.5,359.2 L697.0,357.7 L697.5,357.5 L698.0,358.1 L698.5,355.8 L699.0,355.8 L699.5,359.0 L700.0,359.3 L700.5,356.2 L701.0,354.1 L701.5,361.8 L702.0,359.0 L702.5,357.2 L703.0,354.1 L703.5,354.8 L704.0,356.2 L704.5,353.4 L705.0,358.4 L705.5,355.0 L706.0,355.2 L706.5,351.9 L707.0,351.9 L707.5,351.8 L708.0,353.7 L708.5,352.3 L709.0,352.0 L709.5,353.1 L710.0,352.8 L710.5,355.3 L711.0,351.8 L711.5,350.1 L712.0,352.3 L712.5,355.5 L713.0,351.5 L713.5,353.0 L714.0,352.4 L714.5,354.3 L715.0,354.3 L715.5,352.4 L716.0,354.0 L716.5,356.7 L717.0,357.4 L717.5,357.3 L718.0,357.5 L718.5,355.3 L719.0,355.5 L719.5,358.5 L720.0,354.4 L720.5,356.9 L721.0,353.4 L721.5,356.6 L722.0,356.1 L722.5,355.3 L723.0,359.1 L723.5,356.5 L724.0,357.4 L724.5,357.7 L725.0,356.8 L725.5,361.3 L726.0,357.5 L726.5,358.9 L727.0,355.9 L727.5,357.7 L728.0,358.0 L728.5,358.1 L729.0,357.5 L729.5,359.1 L730.0,362.0 L730.5,358.6 L731.0,358.6 L731.5,358.1 L732.0,364.1 L732.5,362.2 L733.0,360.1 L733.5,360.4 L734.0,357.5 L734.5,358.7 L735.0,359.4 L735.5,359.3 L736.0,357.3 L736.5,357.4 L737.0,360.1 L737.5,359.7 L738.0,354.7 L738.5,359.3 L739.0,361.7 L739.5,357.8 L740.0,359.6 L740.5,356.1 L741.0,360.8 L741.5,356.8 L742.0,356.5 L742.5,358.5 L743.0,364.0 L743.5,357.9 L744.0,356.5 L744.5,360.1 L745.0,359.6 L745.5,362.6 L746.0,356.6 L746.5,355.9 L747.0,358.5 L747.5,360.0 L748.0,359.9 L748.5,361.4 L749.0,356.1 L749.5,357.5 L750.0,358.9 L750.5,360.9 L751.0,360.2 L751.5,358.3 L752.0,357.1 L752.5,361.0 L753.0,361.2 L753.5,364.8 L754.0,358.9 L754.5,362.6 L755.0,356.8 L755.5,358.1 L756.0,357.9 L756.5,358.3 L757.0,357.5 L757.5,358.1 L758.0,359.1 L758.5,358.3 L759.0,360.6 L759.5,359.1 L760.0,359.3 L760.5,362.3 L761.0,359.9 L761.5,359.6 L762.0,359.2 L762.5,359.4 L763.0,360.5 L763.5,357.6 L764.0,361.6 L764.5,362.5 L765.0,361.7 L765.5,358.3 L766.0,356.0 L766.5,358.4 L767.0,359.6 L767.5,361.0 L768.0,358.9 L768.5,358.7 L769.0,362.4 L769.5,357.9 L770.0,361.5 L770.5,361.2 L771.0,356.6 L771.5,359.9 L772.0,358.2 L772.5,357.4 L773.0,355.5 L773.5,356.1 L774.0,360.2 L774.5,358.5 L775.0,359.9 L775.5,357.2 L776.0,358.7 L776.5,358.8 L777.0,356.2 L777.5,355.9 L778.0,360.3 L778.5,359.7 L779.0,357.4 L779.5,359.2 L780.0,360.7 L780.5,363.1 L781.0,357.5 L781.5,360.6 L782.0,363.7 L782.5,359.5 L783.0,362.4 L783.5,354.1 L784.0,362.4 L784.5,359.4 L785.0,355.5 L785.5,361.0 L786.0,361.5 L786.5,361.9 L787.0,361.9 L787.5,359.3 L788.0,357.9 L788.5,358.4 L789.0,359.3 L789.5,360.2 L790.0,358.4 L790.5,359.5 L791.0,361.2 L791.5,360.1 L792.0,364.1 L792.5,363.8 L793.0,357.0 L793.5,358.2 L794.0,356.7 L794.5,357.0 L795.0,360.5 L795.5,357.4 L796.0,357.3 L796.5,358.9 L797.0,361.1 L797.5,358.7 L798.0,358.7 L798.5,361.3 L799.0,360.4 L799.5,360.4 L800.0,361.4 L800.5,357.3 L801.0,359.9 L801.5,358.1 L802.0,361.6 L802.5,361.1 L803.0,357.3 L803.5,362.2 L804.0,357.0 L804.5,361.9 L805.0,359.9 L805.5,357.6 L806.0,357.1 L806.5,358.8 L807.0,359.4 L807.5,358.0 L808.0,360.6 L808.5,356.6 L809.0,359.4 L809.5,359.5 L810.0,355.6 L810.5,360.1 L811.0,356.9 L811.5,354.3 L812.0,358.2 L812.5,359.0 L813.0,361.3 L813.5,358.5 L814.0,362.5 L814.5,362.4 L815.0,361.7 L815.5,362.2 L816.0,360.2 L816.5,358.3 L817.0,360.8 L817.5,361.5 L818.0,360.0 L818.5,359.0 L819.0,356.2 L819.5,360.9 L820.0,360.2 L820.5,356.8 L821.0,359.7 L821.5,361.0 L822.0,359.3 L822.5,361.1 L823.0,361.1 L823.5,356.4 L824.0,358.9 L824.5,360.5 L825.0,361.4 L825.5,362.4 L826.0,355.5 L826.5,359.4 L827.0,361.0 L827.5,362.0 L828.0,363.0 L828.5,357.6 L829.0,358.7 L829.5,357.3 L830.0,361.2 L830.5,356.8 L831.0,362.0 L831.5,361.5 L832.0,360.5 L832.5,355.0 L833.0,358.1 L833.5,361.1 L834.0,356.6 L834.5,359.0 L835.0,359.3 L835.5,361.4 L836.0,360.1 L836.5,360.1 L837.0,358.6 L837.5,359.6 L838.0,359.3 L838.5,361.1 L839.0,359.2 L839.5,361.7 L840.0,356.0 L840.5,362.0 L841.0,359.2 L841.5,361.9 L842.0,359.7 L842.5,361.3 L843.0,362.7 L843.5,358.4 L844.0,359.7 L844.5,359.2 L845.0,360.0 L845.5,356.2 L846.0,359.2 L846.5,359.0 L847.0,357.9 L847.5,359.2 L848.0,356.4 L848.5,362.5 L849.0,360.5 L849.5,363.5 L850.0,357.8 L850.5,357.2 L851.0,360.2 L851.5,356.1 L852.0,360.0 L852.5,358.1 L853.0,358.9 L853.5,360.1 L854.0,359.7 L854.5,363.4 L855.0,360.9 L855.5,356.9 L856.0,361.6 L856.5,356.8 L857.0,359.8 L857.5,357.0 L858.0,357.9 L858.5,362.3 L859.0,358.4 L859.5,358.3 L860.0,358.4 L860.5,358.9 L861.0,362.6 L861.5,357.1 L862.0,357.0 L862.5,360.8 L863.0,356.3 L863.5,358.8 L864.0,361.9 L864.5,359.6 L865.0,358.6 L865.5,358.1 L866.0,357.7 L866.5,358.4 L867.0,359.9 L867.5,362.2 L868.0,361.6 L868.5,358.4 L869.0,358.1 L869.5,361.0 L870.0,355.8 L870.5,358.7 L871.0,358.9 L871.5,357.3 L872.0,357.5 L872.5,360.3 L873.0,356.2 L873.5,357.7 L874.0,358.3 L874.5,359.8 L875.0,356.8 L875.5,361.9 L876.0,359.0 L876.5,359.1 L877.0,358.8 L877.5,358.2 L878.0,357.6 L878.5,362.0 L879.0,360.0 L879.5,359.4 L880.0,361.7 L880.5,358.1 L881.0,360.9 L881.5,359.6 L882.0,357.8 L882.5,361.2 L883.0,356.5 L883.5,360.9 L884.0,357.8 L884.5,360.4 L885.0,362.5 L885.5,360.8 L886.0,358.3 L886.5,359.5 L887.0,358.8 L887.5,357.2 L888.0,357.3 L888.5,359.7 L889.0,360.7 L889.5,355.9 L890.0,359.4 L890.5,360.6 L891.0,359.8 L891.5,357.5 L892.0,361.7 L892.5,357.1 L893.0,360.9 L893.5,362.9 L894.0,355.4 L894.5,360.1 L895.0,360.2 L895.5,360.1 L896.0,358.0 L896.5,358.9 L897.0,356.7 L897.5,359.9 L898.0,360.7 L898.5,358.2 L899.0,357.7 L899.5,358.6 L900.0,359.6 L900.5,359.7 L901.0,359.4 L901.5,359.7 L902.0,356.9 L902.5,354.0 L903.0,360.9 L903.5,362.5 L904.0,356.7 L904.5,358.2 L905.0,360.2 L905.5,361.6 L906.0,360.9 L906.5,362.2 L907.0,359.5 L907.5,360.4 L908.0,360.4 L908.5,358.7 L909.0,362.1 L909.5,360.9 L910.0,361.6 L910.5,358.8 L911.0,361.7 L911.5,357.4 L912.0,360.4 L912.5,354.2 L913.0,357.5 L913.5,361.1 L914.0,358.7 L914.5,360.0 L915.0,356.3 L915.5,362.8 L916.0,360.8 L916.5,359.6 L917.0,360.5 L917.5,360.3 L918.0,362.5 L918.5,360.1 L919.0,356.6 L919.5,359.1 L920.0,362.3 L920.5,360.8 L921.0,358.8 L921.5,360.9 L922.0,359.9 L922.5,360.9 L923.0,356.4 L923.5,357.8 L924.0,361.0 L924.5,359.2 L925.0,360.4 L925.5,363.7 L926.0,359.0 L926.5,360.1 L927.0,358.5 L927.5,358.4 L928.0,359.5 L928.5,356.7 L929.0,355.3 L929.5,362.5 L930.0,359.4 L930.5,362.0 L931.0,359.9 L931.5,360.0 L932.0,361.0 L932.5,361.1 L933.0,357.2 L933.5,362.1 L934.0,357.7 L934.5,360.1 L935.0,364.9 L935.5,359.8 L936.0,363.1 L936.5,359.0 L937.0,360.9 L937.5,359.8 L938.0,360.5 L938.5,357.9 L939.0,357.8 L939.5,360.4 L940.0,356.5 L940.5,357.9 L941.0,361.0 L941.5,358.4 L942.0,357.9 L942.5,357.4 L943.0,360.0 L943.5,358.9 L944.0,360.0 L944.5,359.3 L945.0,363.5 L945.5,358.8 L946.0,355.7 L946.5,359.9 L947.0,359.7 L947.5,360.0 L948.0,356.4 L948.5,362.0 L949.0,359.6 L949.5,359.6 L950.0,356.5 L950.5,360.7 L951.0,359.6 L951.5,362.5 L952.0,358.9 L952.5,357.2 L953.0,360.0 L953.5,357.8 L954.0,360.6 L954.5,357.5 L955.0,359.5 L955.5,359.3 L956.0,359.7 L956.5,358.7 L957.0,358.1 L957.5,359.6 L958.0,358.5 L958.5,360.0 L959.0,359.2 L959.5,355.1 L960.0,359.6 L960.5,362.6 L961.0,360.4 L961.5,361.0 L962.0,360.7 L962.5,358.8 L963.0,357.0 L963.5,361.4 L964.0,361.9 L964.5,360.9 L965.0,360.6 L965.5,360.6 L966.0,359.7 L966.5,360.3 L967.0,359.8 L967.5,360.4 L968.0,357.8 L968.5,358.5 L969.0,360.9 L969.5,359.1 L970.0,354.9 L970.5,360.0 L971.0,355.1 L971.5,363.6 L972.0,361.2 L972.5,361.1 L973.0,358.4 L973.5,357.5 L974.0,359.3 L974.5,359.8 L975.0,358.2 L975.5,360.1 L976.0,361.2 L976.5,361.0 L977.0,357.7 L977.5,355.4 L978.0,359.8 L978.5,358.5 L979.0,360.7 L979.5,363.1" fill="none" stroke="#ff0080" stroke-width="2.5" stroke-linejoin="round"/><path d="M53.0,446.4 L53.5,441.6 L54.0,444.5 L54.5,446.4 L55.0,440.7 L55.5,441.5 L56.0,443.6 L56.5,440.4 L57.0,438.7 L57.5,437.8 L58.0,440.5 L58.5,438.3 L59.0,443.3 L59.5,439.3 L60.0,445.6 L60.5,444.7 L61.0,436.0 L61.5,444.2 L62.0,438.9 L62.5,445.2 L63.0,442.2 L63.5,440.2 L64.0,442.7 L64.5,438.3 L65.0,441.5 L65.5,441.6 L66.0,439.7 L66.5,441.6 L67.0,436.7 L67.5,442.2 L68.0,435.9 L68.5,442.4 L69.0,441.9 L69.5,442.7 L70.0,438.2 L70.5,450.9 L71.0,439.3 L71.5,440.7 L72.0,437.5 L72.5,445.1 L73.0,438.4 L73.5,443.6 L74.0,436.7 L74.5,441.1 L75.0,438.7 L75.5,443.3 L76.0,439.0 L76.5,437.0 L77.0,441.6 L77.5,435.8 L78.0,436.6 L78.5,442.6 L79.0,433.4 L79.5,442.6 L80.0,438.5 L80.5,436.7 L81.0,440.7 L81.5,442.1 L82.0,437.8 L82.5,439.2 L83.0,442.6 L83.5,442.5 L84.0,439.6 L84.5,437.1 L85.0,436.5 L85.5,437.7 L86.0,442.1 L86.5,441.8 L87.0,440.8 L87.5,444.6 L88.0,438.7 L88.5,438.4 L89.0,438.3 L89.5,446.4 L90.0,432.5 L90.5,440.7 L91.0,441.2 L91.5,439.8 L92.0,447.8 L92.5,443.7 L93.0,442.3 L93.5,436.4 L94.0,441.3 L94.5,438.2 L95.0,439.7 L95.5,440.2 L96.0,437.8 L96.5,441.7 L97.0,445.1 L97.5,443.1 L98.0,440.2 L98.5,432.7 L99.0,443.2 L99.5,443.1 L100.0,438.7 L100.5,437.7 L101.0,441.6 L101.5,436.5 L102.0,442.1 L102.5,435.5 L103.0,436.1 L103.5,439.3 L104.0,434.2 L104.5,439.2 L105.0,441.0 L105.5,434.6 L106.0,442.4 L106.5,437.2 L107.0,441.0 L107.5,439.8 L108.0,437.4 L108.5,437.2 L109.0,433.0 L109.5,436.5 L110.0,436.2 L110.5,444.5 L111.0,442.3 L111.5,433.9 L112.0,441.3 L112.5,439.1 L113.0,436.7 L113.5,439.3 L114.0,440.0 L114.5,434.7 L115.0,435.1 L115.5,435.8 L116.0,431.0 L116.5,434.3 L117.0,432.9 L117.5,430.9 L118.0,430.8 L118.5,435.6 L119.0,438.5 L119.5,437.7 L120.0,434.6 L120.5,441.1 L121.0,439.9 L121.5,442.1 L122.0,444.7 L122.5,438.0 L123.0,441.1 L123.5,439.9 L124.0,439.3 L124.5,449.6 L125.0,446.2 L125.5,437.2 L126.0,445.1 L126.5,441.9 L127.0,448.1 L127.5,444.7 L128.0,444.1 L128.5,445.5 L129.0,446.6 L129.5,445.7 L130.0,445.1 L130.5,445.4 L131.0,447.6 L131.5,442.0 L132.0,445.9 L132.5,445.5 L133.0,444.2 L133.5,448.4 L134.0,441.4 L134.5,444.6 L135.0,442.9 L135.5,447.8 L136.0,444.3 L136.5,446.0 L137.0,447.2 L137.5,440.3 L138.0,447.4 L138.5,443.3 L139.0,445.0 L139.5,445.5 L140.0,448.7 L140.5,448.4 L141.0,452.0 L141.5,446.5 L142.0,444.2 L142.5,444.1 L143.0,448.1 L143.5,451.4 L144.0,447.0 L144.5,443.8 L145.0,446.8 L145.5,446.7 L146.0,445.9 L146.5,443.3 L147.0,437.0 L147.5,444.0 L148.0,449.4 L148.5,446.5 L149.0,438.2 L149.5,445.8 L150.0,439.4 L150.5,452.7 L151.0,446.4 L151.5,441.6 L152.0,448.5 L152.5,443.1 L153.0,447.7 L153.5,445.8 L154.0,441.7 L154.5,448.1 L155.0,441.1 L155.5,450.4 L156.0,446.0 L156.5,442.2 L157.0,439.5 L157.5,451.3 L158.0,450.7 L158.5,441.4 L159.0,451.4 L159.5,446.3 L160.0,445.0 L160.5,445.4 L161.0,444.8 L161.5,450.6 L162.0,446.2 L162.5,439.3 L163.0,452.9 L163.5,448.7 L164.0,441.9 L164.5,444.4 L165.0,442.5 L165.5,445.8 L166.0,447.0 L166.5,446.5 L167.0,443.6 L167.5,442.9 L168.0,448.6 L168.5,445.3 L169.0,453.4 L169.5,442.8 L170.0,448.4 L170.5,445.8 L171.0,443.0 L171.5,450.3 L172.0,446.0 L172.5,442.5 L173.0,444.5 L173.5,449.1 L174.0,441.4 L174.5,450.4 L175.0,448.0 L175.5,444.6 L176.0,450.3 L176.5,451.6 L177.0,447.6 L177.5,446.2 L178.0,452.0 L178.5,450.7 L179.0,442.4 L179.5,444.8 L180.0,444.8 L180.5,444.1 L181.0,440.4 L181.5,448.7 L182.0,445.8 L182.5,445.9 L183.0,450.4 L183.5,443.6 L184.0,445.3 L184.5,446.5 L185.0,444.0 L185.5,445.1 L186.0,448.2 L186.5,445.5 L187.0,450.1 L187.5,442.9 L188.0,446.2 L188.5,440.5 L189.0,445.1 L189.5,443.0 L190.0,450.2 L190.5,448.0 L191.0,447.2 L191.5,451.9 L192.0,450.5 L192.5,447.9 L193.0,443.0 L193.5,440.4 L194.0,445.3 L194.5,444.2 L195.0,443.2 L195.5,444.4 L196.0,439.6 L196.5,450.6 L197.0,441.4 L197.5,443.1 L198.0,447.4 L198.5,439.7 L199.0,448.6 L199.5,448.6 L200.0,444.3 L200.5,441.6 L201.0,443.7 L201.5,438.9 L202.0,450.2 L202.5,445.5 L203.0,442.8 L203.5,442.2 L204.0,447.3 L204.5,450.6 L205.0,440.9 L205.5,443.3 L206.0,439.2 L206.5,447.7 L207.0,445.8 L207.5,453.2 L208.0,444.9 L208.5,443.8 L209.0,442.8 L209.5,448.3 L210.0,439.6 L210.5,447.9 L211.0,446.1 L211.5,443.5 L212.0,442.1 L212.5,448.9 L213.0,451.7 L213.5,443.7 L214.0,447.1 L214.5,451.3 L215.0,443.0 L215.5,444.3 L216.0,440.9 L216.5,444.7 L217.0,444.9 L217.5,443.7 L218.0,442.6 L218.5,439.6 L219.0,440.4 L219.5,441.7 L220.0,447.4 L220.5,443.3 L221.0,442.1 L221.5,447.4 L222.0,447.0 L222.5,442.4 L223.0,442.8 L223.5,447.4 L224.0,446.3 L224.5,442.1 L225.0,445.8 L225.5,444.9 L226.0,448.9 L226.5,441.9 L227.0,448.0 L227.5,446.4 L228.0,441.3 L228.5,448.6 L229.0,448.1 L229.5,440.2 L230.0,451.8 L230.5,440.8 L231.0,441.5 L231.5,443.6 L232.0,447.4 L232.5,446.8 L233.0,444.3 L233.5,449.5 L234.0,446.1 L234.5,449.5 L235.0,454.5 L235.5,445.2 L236.0,435.4 L236.5,442.9 L237.0,440.6 L237.5,444.7 L238.0,444.7 L238.5,440.0 L239.0,440.2 L239.5,443.3 L240.0,443.5 L240.5,434.9 L241.0,447.6 L241.5,444.1 L242.0,443.9 L242.5,444.9 L243.0,440.1 L243.5,443.5 L244.0,447.2 L244.5,447.2 L245.0,444.8 L245.5,441.8 L246.0,439.6 L246.5,446.8 L247.0,443.4 L247.5,439.3 L248.0,432.2 L248.5,435.9 L249.0,430.9 L249.5,440.9 L250.0,435.5 L250.5,430.3 L251.0,429.9 L251.5,438.0 L252.0,430.5 L252.5,418.7 L253.0,420.2 L253.5,413.4 L254.0,408.8 L254.5,412.8 L255.0,418.3 L255.5,412.7 L256.0,405.1 L256.5,401.8 L257.0,402.6 L257.5,404.8 L258.0,395.4 L258.5,394.0 L259.0,408.3 L259.5,403.6 L260.0,410.0 L260.5,406.9 L261.0,413.7 L261.5,408.5 L262.0,415.1 L262.5,421.6 L263.0,422.3 L263.5,419.5 L264.0,426.9 L264.5,423.5 L265.0,422.8 L265.5,431.8 L266.0,436.6 L266.5,436.0 L267.0,429.5 L267.5,438.2 L268.0,438.3 L268.5,434.8 L269.0,427.8 L269.5,441.0 L270.0,440.7 L270.5,439.4 L271.0,431.3 L271.5,432.2 L272.0,441.4 L272.5,440.6 L273.0,439.3 L273.5,436.5 L274.0,438.7 L274.5,435.2 L275.0,435.9 L275.5,433.7 L276.0,437.7 L276.5,435.1 L277.0,440.0 L277.5,439.0 L278.0,433.2 L278.5,442.8 L279.0,431.7 L279.5,437.4 L280.0,439.6 L280.5,440.1 L281.0,427.2 L281.5,438.8 L282.0,439.5 L282.5,440.2 L283.0,426.5 L283.5,432.1 L284.0,434.1 L284.5,432.7 L285.0,439.2 L285.5,431.6 L286.0,438.5 L286.5,435.9 L287.0,428.4 L287.5,430.0 L288.0,431.8 L288.5,433.8 L289.0,437.0 L289.5,432.5 L290.0,436.5 L290.5,427.2 L291.0,421.7 L291.5,431.6 L292.0,434.5 L292.5,431.4 L293.0,428.9 L293.5,434.1 L294.0,439.7 L294.5,432.1 L295.0,429.7 L295.5,429.2 L296.0,439.6 L296.5,432.1 L297.0,434.5 L297.5,436.7 L298.0,436.2 L298.5,428.8 L299.0,435.7 L299.5,435.3 L300.0,433.9 L300.5,435.9 L301.0,430.1 L301.5,431.9 L302.0,430.2 L302.5,435.0 L303.0,429.8 L303.5,433.6 L304.0,428.2 L304.5,431.8 L305.0,430.9 L305.5,431.9 L306.0,432.8 L306.5,431.7 L307.0,431.6 L307.5,424.8 L308.0,436.6 L308.5,430.2 L309.0,431.6 L309.5,429.5 L310.0,436.2 L310.5,429.2 L311.0,434.4 L311.5,436.8 L312.0,438.5 L312.5,436.7 L313.0,434.5 L313.5,427.7 L314.0,436.7 L314.5,436.1 L315.0,434.6 L315.5,434.2 L316.0,431.2 L316.5,428.6 L317.0,434.2 L317.5,434.5 L318.0,425.5 L318.5,432.3 L319.0,429.4 L319.5,431.3 L320.0,428.7 L320.5,431.5 L321.0,430.9 L321.5,430.3 L322.0,421.9 L322.5,430.1 L323.0,427.4 L323.5,423.3 L324.0,430.3 L324.5,423.0 L325.0,431.6 L325.5,434.9 L326.0,427.2 L326.5,432.8 L327.0,431.4 L327.5,432.5 L328.0,425.5 L328.5,433.0 L329.0,431.6 L329.5,434.1 L330.0,431.7 L330.5,436.0 L331.0,433.3 L331.5,435.1 L332.0,438.0 L332.5,434.0 L333.0,437.3 L333.5,434.8 L334.0,436.2 L334.5,432.7 L335.0,437.9 L335.5,439.9 L336.0,435.5 L336.5,439.1 L337.0,438.1 L337.5,432.9 L338.0,438.6 L338.5,442.4 L339.0,436.2 L339.5,431.8 L340.0,439.4 L340.5,436.6 L341.0,446.2 L341.5,439.4 L342.0,439.8 L342.5,437.8 L343.0,441.3 L343.5,438.5 L344.0,437.5 L344.5,440.8 L345.0,438.2 L345.5,446.1 L346.0,437.2 L346.5,441.3 L347.0,439.2 L347.5,436.8 L348.0,447.9 L348.5,434.3 L349.0,447.2 L349.5,436.8 L350.0,442.3 L350.5,450.2 L351.0,434.2 L351.5,436.9 L352.0,446.6 L352.5,442.4 L353.0,439.7 L353.5,441.4 L354.0,437.9 L354.5,441.7 L355.0,446.5 L355.5,439.5 L356.0,441.2 L356.5,444.8 L357.0,447.4 L357.5,437.8 L358.0,440.8 L358.5,437.3 L359.0,436.7 L359.5,437.3 L360.0,436.1 L360.5,431.8 L361.0,430.5 L361.5,434.7 L362.0,437.5 L362.5,441.1 L363.0,434.4 L363.5,435.4 L364.0,438.0 L364.5,438.0 L365.0,434.6 L365.5,434.5 L366.0,441.2 L366.5,433.0 L367.0,432.3 L367.5,428.0 L368.0,435.4 L368.5,432.8 L369.0,440.7 L369.5,432.6 L370.0,436.8 L370.5,437.4 L371.0,440.2 L371.5,429.7 L372.0,440.4 L372.5,435.1 L373.0,435.0 L373.5,434.6 L374.0,434.7 L374.5,435.2 L375.0,428.4 L375.5,439.1 L376.0,437.9 L376.5,434.7 L377.0,438.3 L377.5,447.2 L378.0,440.7 L378.5,438.3 L379.0,446.3 L379.5,437.5 L380.0,440.2 L380.5,439.1 L381.0,440.6 L381.5,444.4 L382.0,444.1 L382.5,439.7 L383.0,442.1 L383.5,443.1 L384.0,441.6 L384.5,443.1 L385.0,440.9 L385.5,441.0 L386.0,444.0 L386.5,440.3 L387.0,445.7 L387.5,443.6 L388.0,441.1 L388.5,442.3 L389.0,442.9 L389.5,444.2 L390.0,445.2 L390.5,444.2 L391.0,441.9 L391.5,450.2 L392.0,448.4 L392.5,445.6 L393.0,448.7 L393.5,446.5 L394.0,444.4 L394.5,445.7 L395.0,455.0 L395.5,449.1 L396.0,449.3 L396.5,444.1 L397.0,447.8 L397.5,453.7 L398.0,447.2 L398.5,449.5 L399.0,450.2 L399.5,448.0 L400.0,451.4 L400.5,446.6 L401.0,447.6 L401.5,443.6 L402.0,455.3 L402.5,446.9 L403.0,446.3 L403.5,450.9 L404.0,444.2 L404.5,445.9 L405.0,443.1 L405.5,446.0 L406.0,444.6 L406.5,447.9 L407.0,445.5 L407.5,443.9 L408.0,445.0 L408.5,445.6 L409.0,444.2 L409.5,449.4 L410.0,448.5 L410.5,446.6 L411.0,441.8 L411.5,448.0 L412.0,441.5 L412.5,446.8 L413.0,446.3 L413.5,444.0 L414.0,443.2 L414.5,443.7 L415.0,453.5 L415.5,445.2 L416.0,445.4 L416.5,449.6 L417.0,447.7 L417.5,450.0 L418.0,441.8 L418.5,442.3 L419.0,458.1 L419.5,446.1 L420.0,445.2 L420.5,446.8 L421.0,449.8 L421.5,442.0 L422.0,447.3 L422.5,446.2 L423.0,448.7 L423.5,446.9 L424.0,444.4 L424.5,443.2 L425.0,437.6 L425.5,449.8 L426.0,441.1 L426.5,444.9 L427.0,452.3 L427.5,444.9 L428.0,448.6 L428.5,445.6 L429.0,448.9 L429.5,446.5 L430.0,444.6 L430.5,451.2 L431.0,445.5 L431.5,441.6 L432.0,445.2 L432.5,448.3 L433.0,442.5 L433.5,449.2 L434.0,449.2 L434.5,454.0 L435.0,444.2 L435.5,448.8 L436.0,440.5 L436.5,445.0 L437.0,446.8 L437.5,447.9 L438.0,446.3 L438.5,446.2 L439.0,444.3 L439.5,444.9 L440.0,447.6 L440.5,448.5 L441.0,448.8 L441.5,450.1 L442.0,450.7 L442.5,440.1 L443.0,444.7 L443.5,446.0 L444.0,444.3 L444.5,450.3 L445.0,449.2 L445.5,446.2 L446.0,447.0 L446.5,451.1 L447.0,445.3 L447.5,445.5 L448.0,449.8 L448.5,448.2 L449.0,451.6 L449.5,447.9 L450.0,449.2 L450.5,444.7 L451.0,443.3 L451.5,446.6 L452.0,437.2 L452.5,448.1 L453.0,450.1 L453.5,446.9 L454.0,445.8 L454.5,450.5 L455.0,446.5 L455.5,450.1 L456.0,454.4 L456.5,449.2 L457.0,450.0 L457.5,448.4 L458.0,447.5 L458.5,447.6 L459.0,446.9 L459.5,450.5 L460.0,441.0 L460.5,445.7 L461.0,449.0 L461.5,443.7 L462.0,446.3 L462.5,444.2 L463.0,448.2 L463.5,449.7 L464.0,451.8 L464.5,448.5 L465.0,444.2 L465.5,447.6 L466.0,448.7 L466.5,451.7 L467.0,439.1 L467.5,448.0 L468.0,440.2 L468.5,449.2 L469.0,448.3 L469.5,448.5 L470.0,449.8 L470.5,448.1 L471.0,444.4 L471.5,448.0 L472.0,451.0 L472.5,446.3 L473.0,446.8 L473.5,442.4 L474.0,450.8 L474.5,444.9 L475.0,444.1 L475.5,445.2 L476.0,443.7 L476.5,445.8 L477.0,451.2 L477.5,449.5 L478.0,451.8 L478.5,452.0 L479.0,443.6 L479.5,448.4 L480.0,452.0 L480.5,454.9 L481.0,441.7 L481.5,441.7 L482.0,448.4 L482.5,445.5 L483.0,443.2 L483.5,448.1 L484.0,443.9 L484.5,438.7 L485.0,446.6 L485.5,447.2 L486.0,449.0 L486.5,450.0 L487.0,447.4 L487.5,445.9 L488.0,444.3 L488.5,440.9 L489.0,445.1 L489.5,450.2 L490.0,449.0 L490.5,453.9 L491.0,446.1 L491.5,440.4 L492.0,449.6 L492.5,450.3 L493.0,442.5 L493.5,440.9 L494.0,447.2 L494.5,449.1 L495.0,442.7 L495.5,445.4 L496.0,443.8 L496.5,442.4 L497.0,441.9 L497.5,447.0 L498.0,445.2 L498.5,444.2 L499.0,437.3 L499.5,452.7 L500.0,443.1 L500.5,446.0 L501.0,442.4 L501.5,447.7 L502.0,441.1 L502.5,446.7 L503.0,445.7 L503.5,449.5 L504.0,442.4 L504.5,443.9 L505.0,445.3 L505.5,453.5 L506.0,440.9 L506.5,447.1 L507.0,443.6 L507.5,447.0 L508.0,448.1 L508.5,446.2 L509.0,446.6 L509.5,446.5 L510.0,443.3 L510.5,444.5 L511.0,439.3 L511.5,443.8 L512.0,442.1 L512.5,443.8 L513.0,447.1 L513.5,445.6 L514.0,445.7 L514.5,447.7 L515.0,435.1 L515.5,444.7 L516.0,442.8 L516.5,442.2 L517.0,437.6 L517.5,443.8 L518.0,445.5 L518.5,444.7 L519.0,440.4 L519.5,442.5 L520.0,443.0 L520.5,445.8 L521.0,443.2 L521.5,438.9 L522.0,438.2 L522.5,438.0 L523.0,437.8 L523.5,434.8 L524.0,438.8 L524.5,433.2 L525.0,432.5 L525.5,436.2 L526.0,432.7 L526.5,433.6 L527.0,427.0 L527.5,437.0 L528.0,434.2 L528.5,433.8 L529.0,436.0 L529.5,435.2 L530.0,432.2 L530.5,442.1 L531.0,433.7 L531.5,439.1 L532.0,442.6 L532.5,434.3 L533.0,437.3 L533.5,434.6 L534.0,441.6 L534.5,437.2 L535.0,435.0 L535.5,444.0 L536.0,443.0 L536.5,437.1 L537.0,444.9 L537.5,441.8 L538.0,451.1 L538.5,448.0 L539.0,440.3 L539.5,441.7 L540.0,439.8 L540.5,443.7 L541.0,443.7 L541.5,446.4 L542.0,444.4 L542.5,439.1 L543.0,441.6 L543.5,449.7 L544.0,448.9 L544.5,444.5 L545.0,444.7 L545.5,444.7 L546.0,445.5 L546.5,439.6 L547.0,448.8 L547.5,443.4 L548.0,446.3 L548.5,437.0 L549.0,446.8 L549.5,450.7 L550.0,438.2 L550.5,451.5 L551.0,447.8 L551.5,443.6 L552.0,440.6 L552.5,450.3 L553.0,447.2 L553.5,448.4 L554.0,445.3 L554.5,443.5 L555.0,449.4 L555.5,442.9 L556.0,449.5 L556.5,440.4 L557.0,443.1 L557.5,441.2 L558.0,450.9 L558.5,440.1 L559.0,442.3 L559.5,448.6 L560.0,447.1 L560.5,454.0 L561.0,452.7 L561.5,448.3 L562.0,448.6 L562.5,439.6 L563.0,442.9 L563.5,444.8 L564.0,445.3 L564.5,440.9 L565.0,442.4 L565.5,442.6 L566.0,449.3 L566.5,446.9 L567.0,444.1 L567.5,444.2 L568.0,446.1 L568.5,442.4 L569.0,443.8 L569.5,438.4 L570.0,446.7 L570.5,447.5 L571.0,445.2 L571.5,445.3 L572.0,444.7 L572.5,450.3 L573.0,443.5 L573.5,437.8 L574.0,438.5 L574.5,444.4 L575.0,445.3 L575.5,443.9 L576.0,443.8 L576.5,441.1 L577.0,434.8 L577.5,437.2 L578.0,432.9 L578.5,437.5 L579.0,433.7 L579.5,438.5 L580.0,437.2 L580.5,430.5 L581.0,439.7 L581.5,439.5 L582.0,431.6 L582.5,436.8 L583.0,438.6 L583.5,434.8 L584.0,438.8 L584.5,436.4 L585.0,439.5 L585.5,436.4 L586.0,435.2 L586.5,437.7 L587.0,438.9 L587.5,437.2 L588.0,435.0 L588.5,434.0 L589.0,435.8 L589.5,435.5 L590.0,438.6 L590.5,438.8 L591.0,438.3 L591.5,439.0 L592.0,440.0 L592.5,445.4 L593.0,444.5 L593.5,438.6 L594.0,442.5 L594.5,440.2 L595.0,441.4 L595.5,441.2 L596.0,440.2 L596.5,437.9 L597.0,434.3 L597.5,444.1 L598.0,447.9 L598.5,440.7 L599.0,446.0 L599.5,443.1 L600.0,445.7 L600.5,442.0 L601.0,444.3 L601.5,444.9 L602.0,437.0 L602.5,446.4 L603.0,445.3 L603.5,437.1 L604.0,448.4 L604.5,446.1 L605.0,447.0 L605.5,447.7 L606.0,445.0 L606.5,442.7 L607.0,445.1 L607.5,445.2 L608.0,454.7 L608.5,453.4 L609.0,445.2 L609.5,445.5 L610.0,448.2 L610.5,449.1 L611.0,444.6 L611.5,443.5 L612.0,454.1 L612.5,451.0 L613.0,441.7 L613.5,440.9 L614.0,444.3 L614.5,448.1 L615.0,449.3 L615.5,446.1 L616.0,441.6 L616.5,448.2 L617.0,449.6 L617.5,447.4 L618.0,445.7 L618.5,449.6 L619.0,447.3 L619.5,443.5 L620.0,447.9 L620.5,442.9 L621.0,451.0 L621.5,449.3 L622.0,444.0 L622.5,448.4 L623.0,452.1 L623.5,439.9 L624.0,447.2 L624.5,453.6 L625.0,442.1 L625.5,447.1 L626.0,442.6 L626.5,447.5 L627.0,439.1 L627.5,441.9 L628.0,445.8 L628.5,448.3 L629.0,449.2 L629.5,449.3 L630.0,452.0 L630.5,450.4 L631.0,450.5 L631.5,444.3 L632.0,447.3 L632.5,459.4 L633.0,456.1 L633.5,450.9 L634.0,450.6 L634.5,451.5 L635.0,446.5 L635.5,455.0 L636.0,446.6 L636.5,447.7 L637.0,455.9 L637.5,440.4 L638.0,449.3 L638.5,441.7 L639.0,445.6 L639.5,447.7 L640.0,446.7 L640.5,448.7 L641.0,445.2 L641.5,447.7 L642.0,443.7 L642.5,446.6 L643.0,443.0 L643.5,450.5 L644.0,443.4 L644.5,450.6 L645.0,446.6 L645.5,447.0 L646.0,452.4 L646.5,448.5 L647.0,441.2 L647.5,449.9 L648.0,437.6 L648.5,449.1 L649.0,446.7 L649.5,443.0 L650.0,448.4 L650.5,447.0 L651.0,455.5 L651.5,446.6 L652.0,455.3 L652.5,453.2 L653.0,446.0 L653.5,445.2 L654.0,453.0 L654.5,447.7 L655.0,448.8 L655.5,447.3 L656.0,443.8 L656.5,446.9 L657.0,444.7 L657.5,442.6 L658.0,447.2 L658.5,454.8 L659.0,454.2 L659.5,448.0 L660.0,448.8 L660.5,450.2 L661.0,453.3 L661.5,449.5 L662.0,446.5 L662.5,446.9 L663.0,452.5 L663.5,457.9 L664.0,446.0 L664.5,440.8 L665.0,451.3 L665.5,448.0 L666.0,448.8 L666.5,452.9 L667.0,448.6 L667.5,443.4 L668.0,441.1 L668.5,448.2 L669.0,444.1 L669.5,449.4 L670.0,443.6 L670.5,447.0 L671.0,442.9 L671.5,447.0 L672.0,446.7 L672.5,450.5 L673.0,453.3 L673.5,447.7 L674.0,445.2 L674.5,455.6 L675.0,449.7 L675.5,450.6 L676.0,450.6 L676.5,453.7 L677.0,452.1 L677.5,450.8 L678.0,451.2 L678.5,445.2 L679.0,446.1 L679.5,447.9 L680.0,448.7 L680.5,448.4 L681.0,449.5 L681.5,448.4 L682.0,446.7 L682.5,442.3 L683.0,451.4 L683.5,450.5 L684.0,445.0 L684.5,450.1 L685.0,449.7 L685.5,448.5 L686.0,441.4 L686.5,443.7 L687.0,446.0 L687.5,454.1 L688.0,445.0 L688.5,446.8 L689.0,444.0 L689.5,446.2 L690.0,449.2 L690.5,440.3 L691.0,437.4 L691.5,450.2 L692.0,447.8 L692.5,445.4 L693.0,451.1 L693.5,451.0 L694.0,439.5 L694.5,446.5 L695.0,451.0 L695.5,444.2 L696.0,445.3 L696.5,449.8 L697.0,445.0 L697.5,441.3 L698.0,442.9 L698.5,440.2 L699.0,446.7 L699.5,437.9 L700.0,447.6 L700.5,437.4 L701.0,443.2 L701.5,437.1 L702.0,440.9 L702.5,445.4 L703.0,445.3 L703.5,445.5 L704.0,440.0 L704.5,440.3 L705.0,440.5 L705.5,441.6 L706.0,437.6 L706.5,443.1 L707.0,440.2 L707.5,443.2 L708.0,440.9 L708.5,441.9 L709.0,436.9 L709.5,438.4 L710.0,435.6 L710.5,439.7 L711.0,440.6 L711.5,444.8 L712.0,437.5 L712.5,454.6 L713.0,442.7 L713.5,448.3 L714.0,447.9 L714.5,435.1 L715.0,443.9 L715.5,450.7 L716.0,436.6 L716.5,448.8 L717.0,442.8 L717.5,444.8 L718.0,447.6 L718.5,440.1 L719.0,447.9 L719.5,445.0 L720.0,444.8 L720.5,450.3 L721.0,460.8 L721.5,449.2 L722.0,450.1 L722.5,447.9 L723.0,445.5 L723.5,449.2 L724.0,454.0 L724.5,449.1 L725.0,451.7 L725.5,447.7 L726.0,457.9 L726.5,442.5 L727.0,450.8 L727.5,450.7 L728.0,449.7 L728.5,444.6 L729.0,444.5 L729.5,447.9 L730.0,449.1 L730.5,444.3 L731.0,444.9 L731.5,450.9 L732.0,452.7 L732.5,446.8 L733.0,446.3 L733.5,446.2 L734.0,458.1 L734.5,450.8 L735.0,448.7 L735.5,452.7 L736.0,457.5 L736.5,453.3 L737.0,443.7 L737.5,448.7 L738.0,447.5 L738.5,447.8 L739.0,444.6 L739.5,447.6 L740.0,445.1 L740.5,450.3 L741.0,449.3 L741.5,443.9 L742.0,442.8 L742.5,447.4 L743.0,451.6 L743.5,451.0 L744.0,448.9 L744.5,436.9 L745.0,447.3 L745.5,446.4 L746.0,448.0 L746.5,444.7 L747.0,447.6 L747.5,446.8 L748.0,459.3 L748.5,451.9 L749.0,448.5 L749.5,449.1 L750.0,448.8 L750.5,450.0 L751.0,447.8 L751.5,449.2 L752.0,453.1 L752.5,452.4 L753.0,450.5 L753.5,454.3 L754.0,450.2 L754.5,445.7 L755.0,442.9 L755.5,446.8 L756.0,449.1 L756.5,450.8 L757.0,453.4 L757.5,447.3 L758.0,446.4 L758.5,452.3 L759.0,453.8 L759.5,447.6 L760.0,450.7 L760.5,454.5 L761.0,450.6 L761.5,449.2 L762.0,441.7 L762.5,454.4 L763.0,451.8 L763.5,449.9 L764.0,447.7 L764.5,444.9 L765.0,449.1 L765.5,449.1 L766.0,453.6 L766.5,445.0 L767.0,454.9 L767.5,449.6 L768.0,453.9 L768.5,445.9 L769.0,450.8 L769.5,454.1 L770.0,450.0 L770.5,444.1 L771.0,448.3 L771.5,451.6 L772.0,444.4 L772.5,444.2 L773.0,450.5 L773.5,446.1 L774.0,452.1 L774.5,445.2 L775.0,442.8 L775.5,446.7 L776.0,455.2 L776.5,446.4 L777.0,449.6 L777.5,450.6 L778.0,446.1 L778.5,453.7 L779.0,450.3 L779.5,451.3 L780.0,443.4 L780.5,443.2 L781.0,439.5 L781.5,449.0 L782.0,448.9 L782.5,452.4 L783.0,455.2 L783.5,448.8 L784.0,448.7 L784.5,451.4 L785.0,455.4 L785.5,446.7 L786.0,452.1 L786.5,448.8 L787.0,448.5 L787.5,452.8 L788.0,446.8 L788.5,445.8 L789.0,452.3 L789.5,449.7 L790.0,448.8 L790.5,449.3 L791.0,451.7 L791.5,448.5 L792.0,452.7 L792.5,451.4 L793.0,455.3 L793.5,454.5 L794.0,453.0 L794.5,449.1 L795.0,450.3 L795.5,447.7 L796.0,460.4 L796.5,449.1 L797.0,451.9 L797.5,454.9 L798.0,444.9 L798.5,446.9 L799.0,448.5 L799.5,446.2 L800.0,445.2 L800.5,448.0 L801.0,454.7 L801.5,452.6 L802.0,450.1 L802.5,450.1 L803.0,443.8 L803.5,452.6 L804.0,451.6 L804.5,446.0 L805.0,450.8 L805.5,449.3 L806.0,448.1 L806.5,446.3 L807.0,447.5 L807.5,446.5 L808.0,451.7 L808.5,451.4 L809.0,451.2 L809.5,449.4 L810.0,448.5 L810.5,457.6 L811.0,443.2 L811.5,454.5 L812.0,451.4 L812.5,450.3 L813.0,448.2 L813.5,449.3 L814.0,445.7 L814.5,445.0 L815.0,449.7 L815.5,444.0 L816.0,453.2 L816.5,454.3 L817.0,437.4 L817.5,444.4 L818.0,451.2 L818.5,450.9 L819.0,450.6 L819.5,451.7 L820.0,452.9 L820.5,453.4 L821.0,456.8 L821.5,450.3 L822.0,453.4 L822.5,444.2 L823.0,449.7 L823.5,445.7 L824.0,455.4 L824.5,458.9 L825.0,452.2 L825.5,445.4 L826.0,449.8 L826.5,450.4 L827.0,451.0 L827.5,454.3 L828.0,453.8 L828.5,440.5 L829.0,455.3 L829.5,448.5 L830.0,448.2 L830.5,455.5 L831.0,449.3 L831.5,445.2 L832.0,445.4 L832.5,450.5 L833.0,453.7 L833.5,455.9 L834.0,449.7 L834.5,448.6 L835.0,456.4 L835.5,448.7 L836.0,455.8 L836.5,451.2 L837.0,451.3 L837.5,449.5 L838.0,451.5 L838.5,448.7 L839.0,447.9 L839.5,449.9 L840.0,448.0 L840.5,451.5 L841.0,450.7 L841.5,449.5 L842.0,449.7 L842.5,449.6 L843.0,456.9 L843.5,450.4 L844.0,448.3 L844.5,449.4 L845.0,452.9 L845.5,449.7 L846.0,449.9 L846.5,449.5 L847.0,451.1 L847.5,451.9 L848.0,452.1 L848.5,444.5 L849.0,446.6 L849.5,440.8 L850.0,453.5 L850.5,454.6 L851.0,455.3 L851.5,451.1 L852.0,454.8 L852.5,450.4 L853.0,450.1 L853.5,444.9 L854.0,447.7 L854.5,448.4 L855.0,454.0 L855.5,456.7 L856.0,448.8 L856.5,452.0 L857.0,451.6 L857.5,447.7 L858.0,444.2 L858.5,447.8 L859.0,445.3 L859.5,449.4 L860.0,450.1 L860.5,450.0 L861.0,450.0 L861.5,452.4 L862.0,447.2 L862.5,453.9 L863.0,444.5 L863.5,450.9 L864.0,452.1 L864.5,447.7 L865.0,444.8 L865.5,453.0 L866.0,448.2 L866.5,453.6 L867.0,453.5 L867.5,450.7 L868.0,450.7 L868.5,454.3 L869.0,452.1 L869.5,447.3 L870.0,451.3 L870.5,452.8 L871.0,451.5 L871.5,451.4 L872.0,450.2 L872.5,450.3 L873.0,447.3 L873.5,445.5 L874.0,454.9 L874.5,448.4 L875.0,451.6 L875.5,445.2 L876.0,451.4 L876.5,447.7 L877.0,461.7 L877.5,447.0 L878.0,447.2 L878.5,454.3 L879.0,455.0 L879.5,443.1 L880.0,451.8 L880.5,454.1 L881.0,446.3 L881.5,453.4 L882.0,448.9 L882.5,447.2 L883.0,449.6 L883.5,449.2 L884.0,445.7 L884.5,459.1 L885.0,449.2 L885.5,448.1 L886.0,454.0 L886.5,450.6 L887.0,455.8 L887.5,449.9 L888.0,452.2 L888.5,451.3 L889.0,451.5 L889.5,450.2 L890.0,450.5 L890.5,457.1 L891.0,448.4 L891.5,448.9 L892.0,449.7 L892.5,453.0 L893.0,452.4 L893.5,454.4 L894.0,446.0 L894.5,451.9 L895.0,450.3 L895.5,449.9 L896.0,451.6 L896.5,443.8 L897.0,452.0 L897.5,451.5 L898.0,445.8 L898.5,450.7 L899.0,456.7 L899.5,449.6 L900.0,453.2 L900.5,450.2 L901.0,448.1 L901.5,447.7 L902.0,449.6 L902.5,455.8 L903.0,454.1 L903.5,448.5 L904.0,454.7 L904.5,450.6 L905.0,448.6 L905.5,452.7 L906.0,447.8 L906.5,445.3 L907.0,455.9 L907.5,444.4 L908.0,453.1 L908.5,445.5 L909.0,451.0 L909.5,450.4 L910.0,449.5 L910.5,443.1 L911.0,450.8 L911.5,451.0 L912.0,447.9 L912.5,450.9 L913.0,454.8 L913.5,448.6 L914.0,452.1 L914.5,447.0 L915.0,452.6 L915.5,453.5 L916.0,460.3 L916.5,454.5 L917.0,452.8 L917.5,456.4 L918.0,447.6 L918.5,455.2 L919.0,449.3 L919.5,449.0 L920.0,455.3 L920.5,452.1 L921.0,456.1 L921.5,446.0 L922.0,452.3 L922.5,449.4 L923.0,450.3 L923.5,444.3 L924.0,454.7 L924.5,452.1 L925.0,447.7 L925.5,446.4 L926.0,448.2 L926.5,456.4 L927.0,451.0 L927.5,450.1 L928.0,453.2 L928.5,451.4 L929.0,452.2 L929.5,454.1 L930.0,452.6 L930.5,454.6 L931.0,447.1 L931.5,451.6 L932.0,450.1 L932.5,451.8 L933.0,451.3 L933.5,449.1 L934.0,450.2 L934.5,454.9 L935.0,449.5 L935.5,447.0 L936.0,453.6 L936.5,455.0 L937.0,450.5 L937.5,452.0 L938.0,448.5 L938.5,450.8 L939.0,455.5 L939.5,454.4 L940.0,452.1 L940.5,450.6 L941.0,445.6 L941.5,452.7 L942.0,453.2 L942.5,455.4 L943.0,458.9 L943.5,453.0 L944.0,455.1 L944.5,447.6 L945.0,456.0 L945.5,454.8 L946.0,456.6 L946.5,454.1 L947.0,453.3 L947.5,457.0 L948.0,449.2 L948.5,454.0 L949.0,455.6 L949.5,448.8 L950.0,447.5 L950.5,453.3 L951.0,452.1 L951.5,453.9 L952.0,454.0 L952.5,448.9 L953.0,452.9 L953.5,455.8 L954.0,450.5 L954.5,450.7 L955.0,447.7 L955.5,454.7 L956.0,458.8 L956.5,446.8 L957.0,454.5 L957.5,455.0 L958.0,449.8 L958.5,450.5 L959.0,448.0 L959.5,449.0 L960.0,452.4 L960.5,454.2 L961.0,452.3 L961.5,454.9 L962.0,452.6 L962.5,447.6 L963.0,457.1 L963.5,456.1 L964.0,449.3 L964.5,458.3 L965.0,453.6 L965.5,452.4 L966.0,458.8 L966.5,442.9 L967.0,446.1 L967.5,454.5 L968.0,451.0 L968.5,448.5 L969.0,457.4 L969.5,453.7 L970.0,447.4 L970.5,449.6 L971.0,455.0 L971.5,458.4 L972.0,444.8 L972.5,452.9 L973.0,450.6 L973.5,445.7 L974.0,451.4 L974.5,446.2 L975.0,450.1 L975.5,457.9 L976.0,453.9 L976.5,454.9 L977.0,454.2 L977.5,453.3 L978.0,455.6 L978.5,447.9 L979.0,450.8 L979.5,455.2" fill="none" stroke="#ff0000" stroke-width="2.5" stroke-linejoin="round"/><path d="M53.0,580.4 L53.5,580.7 L54.0,581.9 L54.5,582.1 L55.0,580.5 L55.5,580.4 L56.0,581.4 L56.5,581.2 L57.0,580.5 L57.5,581.4 L58.0,581.4 L58.5,581.0 L59.0,583.1 L59.5,582.0 L60.0,581.6 L60.5,581.7 L61.0,583.1 L61.5,581.8 L62.0,580.4 L62.5,581.2 L63.0,581.0 L63.5,580.6 L64.0,581.2 L64.5,581.2 L65.0,580.9 L65.5,580.6 L66.0,581.6 L66.5,579.8 L67.0,581.6 L67.5,581.0 L68.0,581.2 L68.5,579.2 L69.0,582.2 L69.5,579.7 L70.0,580.3 L70.5,581.4 L71.0,580.5 L71.5,580.6 L72.0,579.3 L72.5,580.6 L73.0,581.1 L73.5,581.4 L74.0,580.7 L74.5,581.1 L75.0,581.3 L75.5,580.4 L76.0,580.4 L76.5,582.4 L77.0,580.3 L77.5,581.8 L78.0,581.0 L78.5,582.0 L79.0,580.4 L79.5,581.3 L80.0,581.1 L80.5,580.7 L81.0,581.1 L81.5,580.3 L82.0,580.8 L82.5,580.6 L83.0,581.4 L83.5,580.8 L84.0,579.8 L84.5,580.6 L85.0,580.8 L85.5,580.2 L86.0,581.8 L86.5,581.1 L87.0,581.4 L87.5,580.2 L88.0,580.5 L88.5,581.5 L89.0,579.7 L89.5,581.0 L90.0,580.8 L90.5,580.4 L91.0,580.8 L91.5,579.9 L92.0,580.8 L92.5,579.7 L93.0,579.7 L93.5,581.6 L94.0,580.0 L94.5,579.0 L95.0,581.2 L95.5,579.9 L96.0,577.8 L96.5,580.3 L97.0,581.0 L97.5,580.5 L98.0,581.4 L98.5,579.9 L99.0,580.3 L99.5,579.0 L100.0,579.7 L100.5,580.5 L101.0,579.5 L101.5,579.0 L102.0,577.1 L102.5,578.0 L103.0,576.9 L103.5,578.0 L104.0,576.5 L104.5,576.8 L105.0,575.3 L105.5,576.9 L106.0,574.1 L106.5,574.5 L107.0,575.8 L107.5,573.6 L108.0,572.3 L108.5,573.0 L109.0,573.0 L109.5,572.7 L110.0,570.6 L110.5,572.2 L111.0,570.7 L111.5,573.9 L112.0,573.0 L112.5,573.0 L113.0,574.4 L113.5,574.7 L114.0,574.0 L114.5,576.6 L115.0,575.8 L115.5,575.1 L116.0,577.9 L116.5,578.4 L117.0,578.6 L117.5,578.4 L118.0,577.6 L118.5,579.2 L119.0,580.0 L119.5,579.2 L120.0,579.6 L120.5,577.4 L121.0,577.8 L121.5,576.4 L122.0,573.0 L122.5,571.5 L123.0,571.8 L123.5,573.4 L124.0,575.4 L124.5,576.6 L125.0,578.1 L125.5,579.0 L126.0,579.7 L126.5,580.4 L127.0,580.5 L127.5,580.2 L128.0,580.6 L128.5,580.1 L129.0,581.1 L129.5,580.2 L130.0,581.8 L130.5,580.6 L131.0,580.9 L131.5,580.1 L132.0,580.5 L132.5,580.9 L133.0,580.8 L133.5,580.3 L134.0,579.9 L134.5,580.8 L135.0,580.9 L135.5,581.2 L136.0,581.8 L136.5,580.6 L137.0,579.4 L137.5,580.7 L138.0,579.5 L138.5,579.9 L139.0,581.6 L139.5,581.3 L140.0,580.4 L140.5,580.4 L141.0,580.8 L141.5,579.6 L142.0,581.2 L142.5,580.6 L143.0,582.2 L143.5,580.1 L144.0,581.6 L144.5,580.4 L145.0,581.6 L145.5,580.1 L146.0,581.4 L146.5,580.5 L147.0,580.2 L147.5,580.7 L148.0,581.1 L148.5,581.0 L149.0,581.8 L149.5,581.1 L150.0,578.4 L150.5,579.9 L151.0,578.6 L151.5,579.5 L152.0,580.0 L152.5,578.2 L153.0,578.0 L153.5,578.7 L154.0,578.1 L154.5,579.3 L155.0,578.3 L155.5,578.5 L156.0,579.6 L156.5,578.2 L157.0,578.9 L157.5,578.5 L158.0,579.7 L158.5,580.6 L159.0,581.1 L159.5,580.2 L160.0,579.9 L160.5,580.0 L161.0,579.6 L161.5,580.8 L162.0,581.8 L162.5,579.0 L163.0,579.2 L163.5,581.9 L164.0,579.7 L164.5,581.1 L165.0,580.0 L165.5,581.5 L166.0,581.5 L166.5,581.1 L167.0,581.6 L167.5,581.0 L168.0,581.4 L168.5,582.3 L169.0,581.8 L169.5,580.5 L170.0,580.3 L170.5,580.8 L171.0,580.8 L171.5,581.0 L172.0,580.5 L172.5,581.4 L173.0,581.0 L173.5,581.2 L174.0,580.9 L174.5,581.4 L175.0,580.0 L175.5,582.1 L176.0,581.1 L176.5,581.2 L177.0,581.3 L177.5,581.6 L178.0,581.3 L178.5,580.9 L179.0,580.6 L179.5,579.4 L180.0,580.8 L180.5,580.3 L181.0,580.3 L181.5,582.2 L182.0,578.9 L182.5,580.2 L183.0,580.9 L183.5,580.6 L184.0,580.5 L184.5,578.3 L185.0,578.0 L185.5,578.3 L186.0,576.0 L186.5,574.5 L187.0,568.4 L187.5,560.8 L188.0,551.6 L188.5,542.6 L189.0,540.4 L189.5,545.3 L190.0,555.1 L190.5,563.6 L191.0,570.7 L191.5,573.6 L192.0,575.9 L192.5,578.6 L193.0,579.1 L193.5,578.7 L194.0,579.5 L194.5,579.2 L195.0,581.7 L195.5,579.1 L196.0,581.7 L196.5,579.9 L197.0,580.9 L197.5,580.4 L198.0,580.4 L198.5,581.4 L199.0,581.4 L199.5,580.6 L200.0,580.2 L200.5,582.4 L201.0,581.9 L201.5,581.0 L202.0,580.7 L202.5,581.2 L203.0,581.0 L203.5,581.9 L204.0,580.3 L204.5,581.0 L205.0,580.4 L205.5,582.0 L206.0,582.4 L206.5,581.0 L207.0,581.5 L207.5,582.1 L208.0,580.8 L208.5,580.4 L209.0,581.9 L209.5,581.5 L210.0,580.9 L210.5,582.2 L211.0,581.3 L211.5,579.8 L212.0,581.4 L212.5,581.1 L213.0,582.5 L213.5,581.1 L214.0,581.0 L214.5,581.4 L215.0,581.3 L215.5,580.1 L216.0,581.2 L216.5,580.9 L217.0,582.2 L217.5,582.9 L218.0,580.3 L218.5,580.4 L219.0,580.5 L219.5,580.6 L220.0,580.6 L220.5,581.2 L221.0,581.9 L221.5,580.2 L222.0,580.0 L222.5,579.7 L223.0,582.0 L223.5,582.1 L224.0,580.0 L224.5,579.9 L225.0,581.2 L225.5,581.9 L226.0,581.9 L226.5,581.3 L227.0,581.6 L227.5,581.4 L228.0,580.7 L228.5,582.6 L229.0,581.1 L229.5,580.3 L230.0,580.8 L230.5,580.0 L231.0,581.1 L231.5,581.9 L232.0,580.2 L232.5,582.0 L233.0,582.7 L233.5,581.4 L234.0,580.2 L234.5,580.5 L235.0,580.8 L235.5,580.1 L236.0,580.1 L236.5,580.9 L237.0,580.9 L237.5,581.5 L238.0,580.2 L238.5,582.5 L239.0,581.8 L239.5,581.7 L240.0,580.5 L240.5,582.3 L241.0,580.7 L241.5,582.3 L242.0,581.8 L242.5,580.3 L243.0,580.6 L243.5,582.3 L244.0,581.6 L244.5,580.8 L245.0,581.0 L245.5,581.0 L246.0,580.2 L246.5,580.6 L247.0,580.2 L247.5,580.3 L248.0,580.9 L248.5,579.7 L249.0,580.9 L249.5,580.3 L250.0,580.7 L250.5,580.6 L251.0,580.6 L251.5,579.7 L252.0,579.2 L252.5,577.5 L253.0,576.5 L253.5,573.0 L254.0,570.0 L254.5,566.3 L255.0,560.8 L255.5,557.0 L256.0,554.2 L256.5,557.7 L257.0,560.3 L257.5,565.9 L258.0,570.0 L258.5,574.1 L259.0,575.5 L259.5,576.6 L260.0,576.8 L260.5,578.5 L261.0,578.0 L261.5,579.4 L262.0,580.0 L262.5,576.9 L263.0,577.0 L263.5,576.8 L264.0,575.3 L264.5,571.4 L265.0,567.4 L265.5,563.8 L266.0,562.2 L266.5,564.7 L267.0,567.8 L267.5,570.4 L268.0,574.4 L268.5,577.2 L269.0,577.8 L269.5,579.1 L270.0,579.3 L270.5,579.5 L271.0,580.7 L271.5,580.0 L272.0,579.6 L272.5,580.0 L273.0,580.6 L273.5,582.2 L274.0,580.9 L274.5,581.8 L275.0,581.1 L275.5,579.2 L276.0,581.1 L276.5,580.2 L277.0,579.8 L277.5,580.0 L278.0,582.2 L278.5,579.7 L279.0,580.4 L279.5,581.7 L280.0,581.4 L280.5,579.6 L281.0,580.8 L281.5,580.5 L282.0,580.7 L282.5,581.4 L283.0,580.4 L283.5,580.6 L284.0,581.9 L284.5,579.4 L285.0,580.5 L285.5,581.1 L286.0,579.8 L286.5,580.3 L287.0,579.7 L287.5,580.8 L288.0,580.2 L288.5,581.2 L289.0,581.3 L289.5,580.6 L290.0,580.2 L290.5,580.6 L291.0,580.4 L291.5,579.3 L292.0,580.9 L292.5,580.1 L293.0,580.4 L293.5,578.5 L294.0,580.0 L294.5,580.6 L295.0,579.1 L295.5,577.2 L296.0,577.8 L296.5,577.2 L297.0,576.9 L297.5,576.0 L298.0,576.0 L298.5,574.6 L299.0,574.6 L299.5,573.4 L300.0,573.6 L300.5,574.0 L301.0,572.6 L301.5,573.3 L302.0,571.9 L302.5,572.2 L303.0,572.1 L303.5,573.0 L304.0,571.3 L304.5,572.6 L305.0,570.3 L305.5,571.2 L306.0,571.9 L306.5,571.7 L307.0,570.5 L307.5,570.5 L308.0,572.4 L308.5,571.3 L309.0,573.2 L309.5,572.9 L310.0,573.9 L310.5,576.3 L311.0,576.3 L311.5,576.3 L312.0,575.2 L312.5,577.0 L313.0,577.3 L313.5,577.5 L314.0,579.0 L314.5,577.0 L315.0,578.7 L315.5,578.7 L316.0,578.2 L316.5,580.0 L317.0,577.5 L317.5,578.1 L318.0,577.4 L318.5,574.6 L319.0,573.8 L319.5,572.4 L320.0,572.0 L320.5,570.8 L321.0,570.0 L321.5,570.3 L322.0,569.9 L322.5,573.5 L323.0,574.7 L323.5,577.5 L324.0,578.7 L324.5,580.2 L325.0,579.6 L325.5,580.0 L326.0,578.7 L326.5,579.6 L327.0,578.6 L327.5,579.9 L328.0,577.8 L328.5,577.6 L329.0,575.5 L329.5,573.3 L330.0,570.8 L330.5,566.8 L331.0,565.6 L331.5,565.5 L332.0,570.3 L332.5,572.1 L333.0,576.2 L333.5,579.1 L334.0,577.0 L334.5,578.8 L335.0,579.8 L335.5,581.1 L336.0,580.0 L336.5,580.8 L337.0,580.1 L337.5,581.1 L338.0,579.8 L338.5,581.5 L339.0,578.6 L339.5,579.5 L340.0,582.3 L340.5,581.1 L341.0,580.3 L341.5,582.7 L342.0,581.8 L342.5,581.9 L343.0,580.7 L343.5,581.5 L344.0,581.5 L344.5,579.8 L345.0,581.6 L345.5,581.0 L346.0,582.1 L346.5,582.1 L347.0,580.6 L347.5,580.7 L348.0,581.3 L348.5,581.6 L349.0,580.8 L349.5,581.1 L350.0,581.6 L350.5,581.5 L351.0,582.0 L351.5,581.3 L352.0,580.5 L352.5,579.8 L353.0,581.8 L353.5,580.9 L354.0,580.9 L354.5,580.9 L355.0,579.9 L355.5,580.8 L356.0,579.1 L356.5,580.8 L357.0,580.4 L357.5,582.5 L358.0,581.4 L358.5,580.9 L359.0,581.2 L359.5,581.6 L360.0,580.4 L360.5,580.8 L361.0,580.7 L361.5,582.8 L362.0,580.9 L362.5,579.2 L363.0,581.2 L363.5,582.4 L364.0,579.5 L364.5,582.5 L365.0,579.2 L365.5,579.3 L366.0,577.2 L366.5,576.3 L367.0,574.4 L367.5,573.5 L368.0,571.9 L368.5,574.2 L369.0,572.9 L369.5,575.0 L370.0,576.1 L370.5,576.5 L371.0,578.1 L371.5,578.8 L372.0,579.1 L372.5,580.0 L373.0,580.4 L373.5,579.8 L374.0,579.7 L374.5,580.2 L375.0,581.0 L375.5,582.0 L376.0,582.2 L376.5,581.3 L377.0,581.8 L377.5,581.2 L378.0,582.0 L378.5,581.3 L379.0,581.5 L379.5,581.0 L380.0,581.2 L380.5,582.7 L381.0,580.3 L381.5,581.2 L382.0,580.8 L382.5,582.0 L383.0,582.7 L383.5,581.0 L384.0,579.1 L384.5,581.8 L385.0,581.8 L385.5,580.0 L386.0,581.1 L386.5,581.3 L387.0,579.5 L387.5,581.8 L388.0,581.7 L388.5,581.5 L389.0,580.5 L389.5,580.8 L390.0,580.8 L390.5,581.7 L391.0,580.6 L391.5,582.5 L392.0,581.6 L392.5,579.6 L393.0,582.6 L393.5,581.5 L394.0,580.9 L394.5,581.4 L395.0,579.9 L395.5,581.5 L396.0,579.4 L396.5,580.6 L397.0,582.4 L397.5,582.3 L398.0,581.1 L398.5,580.6 L399.0,582.1 L399.5,581.3 L400.0,581.5 L400.5,581.9 L401.0,580.5 L401.5,582.0 L402.0,579.7 L402.5,582.5 L403.0,580.1 L403.5,580.9 L404.0,580.8 L404.5,581.9 L405.0,582.0 L405.5,581.7 L406.0,581.8 L406.5,581.7 L407.0,581.3 L407.5,579.9 L408.0,579.6 L408.5,579.6 L409.0,581.3 L409.5,581.2 L410.0,581.3 L410.5,581.6 L411.0,581.2 L411.5,580.6 L412.0,580.2 L412.5,579.9 L413.0,582.3 L413.5,582.1 L414.0,580.3 L414.5,581.2 L415.0,581.7 L415.5,582.6 L416.0,580.9 L416.5,581.5 L417.0,582.3 L417.5,580.0 L418.0,580.8 L418.5,581.4 L419.0,580.8 L419.5,583.0 L420.0,582.1 L420.5,581.5 L421.0,580.6 L421.5,582.1 L422.0,581.9 L422.5,581.0 L423.0,581.1 L423.5,580.2 L424.0,581.3 L424.5,582.1 L425.0,582.2 L425.5,581.9 L426.0,582.0 L426.5,580.9 L427.0,581.0 L427.5,582.3 L428.0,581.8 L428.5,580.8 L429.0,581.8 L429.5,582.1 L430.0,582.0 L430.5,581.5 L431.0,581.0 L431.5,581.7 L432.0,582.7 L432.5,581.5 L433.0,580.9 L433.5,581.7 L434.0,580.4 L434.5,581.6 L435.0,581.2 L435.5,582.2 L436.0,581.5 L436.5,582.2 L437.0,583.2 L437.5,581.2 L438.0,580.8 L438.5,581.8 L439.0,581.3 L439.5,581.5 L440.0,580.9 L440.5,581.8 L441.0,581.5 L441.5,579.7 L442.0,581.2 L442.5,581.7 L443.0,582.3 L443.5,581.0 L444.0,580.8 L444.5,582.3 L445.0,580.9 L445.5,581.5 L446.0,581.8 L446.5,582.0 L447.0,581.4 L447.5,580.5 L448.0,582.2 L448.5,581.1 L449.0,581.0 L449.5,583.0 L450.0,582.1 L450.5,580.6 L451.0,581.0 L451.5,581.2 L452.0,580.8 L452.5,579.9 L453.0,582.0 L453.5,582.0 L454.0,581.6 L454.5,581.1 L455.0,581.6 L455.5,581.9 L456.0,580.6 L456.5,581.2 L457.0,581.0 L457.5,582.0 L458.0,581.6 L458.5,580.4 L459.0,580.9 L459.5,582.8 L460.0,580.7 L460.5,581.5 L461.0,580.9 L461.5,582.4 L462.0,581.4 L462.5,581.1 L463.0,580.5 L463.5,581.2 L464.0,582.1 L464.5,581.9 L465.0,580.4 L465.5,582.6 L466.0,581.2 L466.5,580.6 L467.0,581.5 L467.5,580.9 L468.0,581.0 L468.5,580.9 L469.0,581.3 L469.5,581.0 L470.0,580.1 L470.5,581.8 L471.0,581.0 L471.5,582.3 L472.0,581.8 L472.5,581.9 L473.0,581.6 L473.5,582.4 L474.0,581.2 L474.5,580.6 L475.0,581.7 L475.5,579.3 L476.0,581.1 L476.5,581.6 L477.0,581.1 L477.5,582.4 L478.0,582.0 L478.5,581.5 L479.0,581.1 L479.5,582.3 L480.0,580.9 L480.5,581.1 L481.0,582.0 L481.5,581.9 L482.0,583.0 L482.5,581.2 L483.0,579.9 L483.5,581.9 L484.0,582.4 L484.5,581.3 L485.0,582.6 L485.5,582.8 L486.0,580.9 L486.5,581.0 L487.0,580.4 L487.5,581.8 L488.0,581.9 L488.5,581.8 L489.0,580.4 L489.5,580.7 L490.0,580.2 L490.5,580.1 L491.0,580.3 L491.5,580.1 L492.0,581.2 L492.5,581.6 L493.0,581.8 L493.5,581.2 L494.0,580.7 L494.5,581.2 L495.0,581.7 L495.5,581.0 L496.0,581.2 L496.5,580.9 L497.0,580.7 L497.5,581.1 L498.0,580.2 L498.5,581.8 L499.0,579.7 L499.5,581.1 L500.0,579.6 L500.5,581.7 L501.0,581.0 L501.5,579.4 L502.0,579.4 L502.5,578.5 L503.0,578.9 L503.5,578.7 L504.0,579.9 L504.5,576.3 L505.0,577.7 L505.5,575.8 L506.0,576.0 L506.5,576.2 L507.0,575.8 L507.5,575.8 L508.0,575.6 L508.5,576.2 L509.0,576.8 L509.5,578.2 L510.0,576.7 L510.5,577.9 L511.0,577.8 L511.5,578.4 L512.0,578.9 L512.5,580.7 L513.0,581.7 L513.5,581.2 L514.0,579.4 L514.5,580.4 L515.0,579.4 L515.5,580.6 L516.0,581.0 L516.5,580.1 L517.0,579.8 L517.5,578.2 L518.0,575.7 L518.5,574.4 L519.0,574.6 L519.5,574.1 L520.0,574.3 L520.5,573.4 L521.0,574.8 L521.5,576.3 L522.0,578.2 L522.5,578.4 L523.0,578.4 L523.5,580.7 L524.0,580.6 L524.5,580.9 L525.0,579.8 L525.5,580.9 L526.0,579.7 L526.5,579.5 L527.0,580.9 L527.5,580.8 L528.0,581.6 L528.5,582.3 L529.0,581.2 L529.5,582.6 L530.0,580.8 L530.5,581.9 L531.0,580.3 L531.5,581.4 L532.0,581.1 L532.5,581.2 L533.0,581.8 L533.5,579.9 L534.0,581.5 L534.5,580.8 L535.0,581.5 L535.5,581.7 L536.0,581.1 L536.5,581.1 L537.0,580.5 L537.5,581.8 L538.0,580.9 L538.5,581.8 L539.0,580.3 L539.5,582.5 L540.0,580.6 L540.5,582.3 L541.0,581.1 L541.5,581.9 L542.0,581.3 L542.5,582.0 L543.0,581.5 L543.5,582.4 L544.0,582.0 L544.5,582.0 L545.0,582.7 L545.5,580.9 L546.0,582.5 L546.5,581.5 L547.0,580.3 L547.5,581.8 L548.0,581.3 L548.5,582.8 L549.0,581.1 L549.5,581.5 L550.0,581.6 L550.5,580.0 L551.0,581.9 L551.5,580.7 L552.0,582.5 L552.5,582.7 L553.0,581.5 L553.5,580.2 L554.0,581.6 L554.5,581.6 L555.0,582.0 L555.5,581.2 L556.0,580.5 L556.5,581.3 L557.0,580.7 L557.5,582.8 L558.0,580.9 L558.5,580.9 L559.0,581.4 L559.5,580.5 L560.0,581.1 L560.5,581.3 L561.0,581.1 L561.5,581.2 L562.0,582.4 L562.5,581.7 L563.0,580.4 L563.5,581.1 L564.0,581.9 L564.5,580.9 L565.0,581.4 L565.5,581.3 L566.0,581.7 L566.5,581.1 L567.0,581.1 L567.5,580.5 L568.0,581.4 L568.5,580.4 L569.0,582.3 L569.5,580.8 L570.0,580.5 L570.5,581.0 L571.0,579.8 L571.5,579.3 L572.0,578.2 L572.5,576.5 L573.0,574.9 L573.5,573.6 L574.0,573.9 L574.5,572.1 L575.0,572.7 L575.5,573.8 L576.0,576.2 L576.5,578.6 L577.0,577.6 L577.5,579.6 L578.0,580.0 L578.5,580.1 L579.0,581.1 L579.5,579.9 L580.0,581.6 L580.5,581.3 L581.0,580.4 L581.5,582.4 L582.0,581.9 L582.5,582.2 L583.0,580.2 L583.5,581.1 L584.0,581.0 L584.5,581.9 L585.0,582.4 L585.5,579.9 L586.0,581.4 L586.5,581.3 L587.0,582.2 L587.5,581.4 L588.0,580.5 L588.5,581.3 L589.0,580.7 L589.5,580.9 L590.0,581.5 L590.5,581.1 L591.0,581.7 L591.5,580.3 L592.0,583.3 L592.5,582.5 L593.0,582.1 L593.5,580.5 L594.0,579.9 L594.5,580.9 L595.0,581.3 L595.5,583.2 L596.0,582.5 L596.5,581.1 L597.0,582.5 L597.5,582.5 L598.0,581.5 L598.5,582.5 L599.0,581.8 L599.5,581.0 L600.0,580.6 L600.5,581.4 L601.0,582.3 L601.5,580.5 L602.0,580.3 L602.5,582.0 L603.0,579.5 L603.5,582.9 L604.0,581.2 L604.5,582.1 L605.0,583.0 L605.5,580.4 L606.0,580.7 L606.5,583.3 L607.0,581.3 L607.5,581.5 L608.0,581.7 L608.5,582.4 L609.0,582.6 L609.5,581.6 L610.0,581.3 L610.5,581.5 L611.0,581.8 L611.5,582.6 L612.0,581.7 L612.5,583.0 L613.0,580.9 L613.5,582.0 L614.0,582.9 L614.5,582.5 L615.0,581.8 L615.5,580.9 L616.0,581.0 L616.5,581.4 L617.0,581.8 L617.5,581.4 L618.0,580.4 L618.5,581.0 L619.0,581.9 L619.5,582.2 L620.0,580.4 L620.5,581.2 L621.0,580.2 L621.5,581.1 L622.0,584.2 L622.5,581.5 L623.0,581.2 L623.5,581.0 L624.0,580.4 L624.5,579.9 L625.0,581.2 L625.5,581.0 L626.0,582.2 L626.5,579.8 L627.0,581.2 L627.5,581.8 L628.0,579.1 L628.5,581.0 L629.0,579.1 L629.5,580.6 L630.0,581.1 L630.5,579.9 L631.0,580.0 L631.5,579.1 L632.0,579.9 L632.5,580.5 L633.0,579.6 L633.5,579.8 L634.0,580.3 L634.5,580.8 L635.0,579.1 L635.5,580.5 L636.0,580.1 L636.5,581.2 L637.0,581.7 L637.5,581.3 L638.0,582.1 L638.5,580.5 L639.0,581.0 L639.5,580.6 L640.0,581.4 L640.5,581.5 L641.0,581.3 L641.5,580.6 L642.0,581.5 L642.5,581.2 L643.0,582.0 L643.5,581.4 L644.0,582.5 L644.5,581.8 L645.0,580.2 L645.5,581.5 L646.0,580.5 L646.5,582.4 L647.0,582.7 L647.5,581.6 L648.0,582.0 L648.5,580.5 L649.0,579.9 L649.5,581.2 L650.0,581.4 L650.5,580.5 L651.0,581.7 L651.5,581.9 L652.0,582.1 L652.5,582.8 L653.0,582.3 L653.5,581.4 L654.0,581.7 L654.5,582.1 L655.0,580.9 L655.5,582.7 L656.0,582.4 L656.5,581.5 L657.0,581.2 L657.5,584.6 L658.0,582.3 L658.5,582.4 L659.0,583.1 L659.5,582.4 L660.0,581.8 L660.5,582.2 L661.0,581.0 L661.5,582.2 L662.0,580.5 L662.5,582.0 L663.0,582.1 L663.5,580.5 L664.0,583.2 L664.5,580.8 L665.0,582.5 L665.5,581.3 L666.0,581.9 L666.5,581.2 L667.0,583.6 L667.5,582.5 L668.0,583.1 L668.5,582.3 L669.0,582.2 L669.5,581.8 L670.0,581.5 L670.5,582.2 L671.0,581.8 L671.5,581.6 L672.0,580.6 L672.5,581.5 L673.0,582.2 L673.5,581.3 L674.0,582.0 L674.5,581.6 L675.0,580.9 L675.5,581.0 L676.0,581.1 L676.5,581.5 L677.0,581.5 L677.5,582.6 L678.0,580.9 L678.5,580.1 L679.0,582.2 L679.5,581.3 L680.0,581.6 L680.5,583.6 L681.0,582.8 L681.5,582.1 L682.0,582.4 L682.5,581.8 L683.0,582.4 L683.5,581.2 L684.0,581.1 L684.5,581.3 L685.0,582.9 L685.5,582.8 L686.0,581.2 L686.5,582.5 L687.0,581.5 L687.5,582.4 L688.0,581.4 L688.5,582.3 L689.0,581.5 L689.5,581.3 L690.0,581.5 L690.5,581.6 L691.0,581.1 L691.5,580.4 L692.0,582.8 L692.5,581.1 L693.0,580.0 L693.5,579.6 L694.0,579.1 L694.5,580.8 L695.0,582.2 L695.5,579.8 L696.0,580.8 L696.5,579.5 L697.0,581.7 L697.5,581.0 L698.0,580.9 L698.5,581.6 L699.0,581.7 L699.5,581.0 L700.0,579.7 L700.5,578.9 L701.0,579.0 L701.5,578.3 L702.0,580.9 L702.5,579.2 L703.0,579.2 L703.5,579.1 L704.0,580.4 L704.5,578.3 L705.0,579.5 L705.5,578.7 L706.0,578.3 L706.5,576.9 L707.0,579.1 L707.5,577.8 L708.0,578.1 L708.5,578.7 L709.0,578.7 L709.5,579.6 L710.0,578.3 L710.5,579.1 L711.0,579.4 L711.5,579.4 L712.0,580.0 L712.5,579.5 L713.0,580.8 L713.5,579.4 L714.0,579.0 L714.5,580.3 L715.0,581.3 L715.5,580.2 L716.0,580.2 L716.5,580.5 L717.0,581.0 L717.5,580.9 L718.0,581.3 L718.5,579.8 L719.0,582.4 L719.5,581.7 L720.0,580.7 L720.5,582.5 L721.0,581.8 L721.5,582.6 L722.0,580.6 L722.5,582.8 L723.0,581.6 L723.5,580.0 L724.0,582.2 L724.5,581.4 L725.0,580.9 L725.5,581.5 L726.0,580.2 L726.5,582.2 L727.0,581.6 L727.5,581.5 L728.0,582.8 L728.5,581.8 L729.0,581.3 L729.5,581.0 L730.0,581.7 L730.5,582.6 L731.0,581.3 L731.5,581.0 L732.0,582.5 L732.5,581.9 L733.0,581.8 L733.5,583.4 L734.0,580.9 L734.5,582.0 L735.0,580.5 L735.5,581.6 L736.0,582.3 L736.5,582.7 L737.0,580.9 L737.5,582.5 L738.0,582.5 L738.5,581.8 L739.0,583.8 L739.5,581.9 L740.0,581.2 L740.5,582.2 L741.0,580.5 L741.5,583.1 L742.0,582.7 L742.5,581.6 L743.0,582.4 L743.5,582.3 L744.0,583.4 L744.5,581.4 L745.0,580.9 L745.5,580.3 L746.0,581.7 L746.5,580.7 L747.0,581.8 L747.5,582.2 L748.0,581.6 L748.5,581.2 L749.0,582.9 L749.5,581.8 L750.0,582.1 L750.5,582.7 L751.0,580.9 L751.5,581.2 L752.0,583.9 L752.5,581.8 L753.0,581.1 L753.5,581.8 L754.0,581.5 L754.5,581.0 L755.0,581.6 L755.5,581.9 L756.0,582.0 L756.5,582.4 L757.0,580.6 L757.5,580.8 L758.0,582.6 L758.5,581.6 L759.0,582.9 L759.5,582.2 L760.0,580.9 L760.5,582.4 L761.0,581.2 L761.5,582.2 L762.0,582.9 L762.5,583.6 L763.0,581.9 L763.5,582.5 L764.0,582.2 L764.5,582.6 L765.0,580.0 L765.5,581.7 L766.0,582.2 L766.5,582.4 L767.0,581.4 L767.5,582.6 L768.0,582.9 L768.5,582.1 L769.0,581.8 L769.5,581.7 L770.0,582.1 L770.5,582.9 L771.0,583.2 L771.5,581.7 L772.0,581.3 L772.5,581.4 L773.0,582.8 L773.5,582.2 L774.0,582.3 L774.5,582.4 L775.0,582.3 L775.5,581.9 L776.0,581.2 L776.5,581.6 L777.0,582.1 L777.5,582.3 L778.0,581.7 L778.5,581.7 L779.0,583.1 L779.5,581.7 L780.0,582.2 L780.5,581.8 L781.0,581.4 L781.5,580.9 L782.0,581.6 L782.5,581.4 L783.0,582.7 L783.5,581.2 L784.0,581.7 L784.5,582.6 L785.0,582.0 L785.5,582.4 L786.0,582.7 L786.5,580.8 L787.0,581.7 L787.5,581.3 L788.0,583.1 L788.5,582.0 L789.0,582.4 L789.5,583.4 L790.0,581.8 L790.5,582.1 L791.0,582.4 L791.5,581.9 L792.0,583.0 L792.5,582.7 L793.0,582.8 L793.5,582.1 L794.0,581.8 L794.5,581.8 L795.0,581.8 L795.5,580.8 L796.0,582.4 L796.5,582.7 L797.0,582.1 L797.5,581.7 L798.0,582.1 L798.5,582.3 L799.0,582.3 L799.5,583.5 L800.0,581.4 L800.5,582.4 L801.0,582.6 L801.5,582.2 L802.0,581.9 L802.5,581.3 L803.0,581.6 L803.5,582.6 L804.0,583.2 L804.5,581.6 L805.0,582.5 L805.5,582.5 L806.0,582.9 L806.5,582.3 L807.0,582.4 L807.5,582.8 L808.0,581.2 L808.5,582.1 L809.0,580.8 L809.5,580.6 L810.0,581.5 L810.5,580.9 L811.0,582.5 L811.5,582.9 L812.0,581.9 L812.5,582.0 L813.0,581.9 L813.5,581.9 L814.0,582.2 L814.5,582.4 L815.0,581.8 L815.5,581.5 L816.0,581.7 L816.5,582.7 L817.0,581.8 L817.5,583.2 L818.0,582.0 L818.5,583.2 L819.0,581.2 L819.5,581.6 L820.0,582.5 L820.5,582.5 L821.0,582.0 L821.5,583.7 L822.0,582.2 L822.5,582.4 L823.0,581.7 L823.5,583.4 L824.0,582.8 L824.5,582.5 L825.0,580.9 L825.5,582.4 L826.0,581.8 L826.5,582.5 L827.0,582.8 L827.5,581.6 L828.0,582.3 L828.5,582.8 L829.0,582.3 L829.5,581.9 L830.0,581.4 L830.5,581.7 L831.0,581.2 L831.5,582.9 L832.0,582.2 L832.5,581.3 L833.0,582.2 L833.5,581.2 L834.0,579.7 L834.5,583.1 L835.0,583.1 L835.5,581.1 L836.0,581.6 L836.5,582.3 L837.0,581.9 L837.5,581.5 L838.0,581.8 L838.5,582.0 L839.0,581.8 L839.5,582.3 L840.0,582.0 L840.5,581.6 L841.0,582.2 L841.5,580.9 L842.0,583.3 L842.5,580.9 L843.0,582.1 L843.5,582.4 L844.0,582.5 L844.5,582.4 L845.0,583.1 L845.5,581.4 L846.0,582.1 L846.5,582.3 L847.0,581.8 L847.5,581.8 L848.0,583.2 L848.5,581.7 L849.0,581.8 L849.5,582.0 L850.0,582.0 L850.5,582.3 L851.0,582.1 L851.5,582.5 L852.0,582.3 L852.5,582.6 L853.0,583.2 L853.5,581.6 L854.0,583.5 L854.5,581.9 L855.0,582.7 L855.5,582.3 L856.0,582.0 L856.5,580.8 L857.0,583.4 L857.5,581.7 L858.0,581.6 L858.5,583.0 L859.0,582.3 L859.5,583.7 L860.0,583.5 L860.5,582.8 L861.0,582.4 L861.5,582.8 L862.0,581.2 L862.5,582.4 L863.0,582.3 L863.5,581.9 L864.0,582.4 L864.5,581.1 L865.0,582.9 L865.5,583.2 L866.0,581.3 L866.5,582.4 L867.0,583.4 L867.5,582.6 L868.0,581.5 L868.5,581.5 L869.0,582.9 L869.5,583.6 L870.0,581.4 L870.5,582.3 L871.0,581.7 L871.5,582.0 L872.0,582.5 L872.5,582.2 L873.0,581.7 L873.5,583.8 L874.0,582.1 L874.5,582.1 L875.0,583.1 L875.5,582.3 L876.0,582.1 L876.5,583.0 L877.0,581.5 L877.5,582.8 L878.0,583.0 L878.5,582.8 L879.0,582.1 L879.5,582.3 L880.0,581.0 L880.5,582.2 L881.0,582.5 L881.5,582.9 L882.0,582.4 L882.5,582.0 L883.0,581.7 L883.5,582.2 L884.0,582.4 L884.5,583.2 L885.0,582.3 L885.5,581.9 L886.0,582.2 L886.5,581.9 L887.0,582.1 L887.5,580.7 L888.0,581.1 L888.5,581.4 L889.0,582.6 L889.5,582.2 L890.0,582.4 L890.5,583.2 L891.0,581.5 L891.5,583.1 L892.0,582.6 L892.5,581.8 L893.0,583.4 L893.5,581.2 L894.0,581.5 L894.5,582.2 L895.0,582.6 L895.5,582.2 L896.0,580.7 L896.5,582.1 L897.0,582.2 L897.5,584.2 L898.0,583.3 L898.5,582.4 L899.0,581.5 L899.5,582.6 L900.0,581.5 L900.5,582.5 L901.0,582.6 L901.5,582.0 L902.0,582.5 L902.5,582.1 L903.0,581.9 L903.5,583.5 L904.0,582.8 L904.5,582.1 L905.0,581.8 L905.5,582.5 L906.0,582.8 L906.5,583.0 L907.0,583.4 L907.5,582.7 L908.0,581.5 L908.5,583.8 L909.0,583.2 L909.5,583.0 L910.0,583.3 L910.5,581.2 L911.0,582.1 L911.5,582.0 L912.0,583.2 L912.5,581.5 L913.0,582.1 L913.5,583.5 L914.0,582.8 L914.5,582.1 L915.0,583.7 L915.5,581.4 L916.0,582.7 L916.5,582.2 L917.0,582.7 L917.5,582.2 L918.0,581.7 L918.5,582.5 L919.0,581.4 L919.5,582.8 L920.0,582.1 L920.5,583.0 L921.0,582.0 L921.5,581.9 L922.0,582.7 L922.5,583.3 L923.0,580.8 L923.5,582.5 L924.0,582.8 L924.5,581.3 L925.0,581.7 L925.5,582.9 L926.0,581.8 L926.5,581.9 L927.0,583.6 L927.5,581.7 L928.0,581.7 L928.5,580.7 L929.0,581.6 L929.5,581.5 L930.0,583.7 L930.5,583.3 L931.0,581.5 L931.5,583.8 L932.0,583.0 L932.5,582.3 L933.0,583.0 L933.5,582.7 L934.0,581.8 L934.5,581.1 L935.0,581.7 L935.5,582.4 L936.0,582.1 L936.5,581.9 L937.0,583.1 L937.5,581.6 L938.0,583.1 L938.5,582.0 L939.0,582.5 L939.5,581.6 L940.0,582.4 L940.5,581.8 L941.0,581.1 L941.5,582.4 L942.0,582.4 L942.5,583.0 L943.0,582.6 L943.5,581.7 L944.0,582.0 L944.5,580.6 L945.0,581.6 L945.5,583.4 L946.0,583.5 L946.5,583.0 L947.0,582.6 L947.5,582.9 L948.0,582.8 L948.5,581.1 L949.0,581.8 L949.5,583.3 L950.0,583.3 L950.5,582.6 L951.0,582.2 L951.5,582.1 L952.0,582.0 L952.5,581.8 L953.0,581.0 L953.5,582.5 L954.0,582.1 L954.5,582.3 L955.0,583.7 L955.5,582.9 L956.0,581.9 L956.5,582.9 L957.0,581.3 L957.5,583.2 L958.0,582.6 L958.5,582.3 L959.0,582.9 L959.5,583.5 L960.0,582.1 L960.5,581.7 L961.0,584.0 L961.5,582.5 L962.0,583.6 L962.5,582.0 L963.0,582.7 L963.5,582.0 L964.0,582.9 L964.5,582.3 L965.0,582.0 L965.5,583.6 L966.0,582.7 L966.5,581.0 L967.0,582.3 L967.5,581.8 L968.0,581.6 L968.5,582.0 L969.0,582.1 L969.5,582.5 L970.0,581.9 L970.5,581.1 L971.0,582.1 L971.5,583.1 L972.0,581.5 L972.5,582.9 L973.0,582.8 L973.5,582.2 L974.0,582.7 L974.5,581.9 L975.0,582.2 L975.5,581.7 L976.0,582.8 L976.5,583.5 L977.0,582.0 L977.5,583.4 L978.0,580.9 L978.5,581.8 L979.0,581.7 L979.5,583.8" fill="none" stroke="#0000ff" stroke-width="2.5" stroke-linejoin="round"/><path d="M53.0,659.9 L53.5,661.0 L54.0,658.8 L54.5,660.5 L55.0,660.8 L55.5,660.4 L56.0,658.2 L56.5,660.5 L57.0,661.0 L57.5,661.4 L58.0,660.7 L58.5,659.0 L59.0,660.2 L59.5,661.1 L60.0,659.7 L60.5,660.8 L61.0,660.0 L61.5,660.5 L62.0,661.0 L62.5,659.8 L63.0,662.7 L63.5,660.5 L64.0,660.7 L64.5,659.8 L65.0,660.4 L65.5,660.2 L66.0,659.2 L66.5,659.2 L67.0,660.6 L67.5,660.3 L68.0,658.3 L68.5,658.7 L69.0,660.2 L69.5,660.3 L70.0,660.9 L70.5,659.4 L71.0,660.9 L71.5,660.2 L72.0,660.0 L72.5,660.3 L73.0,661.2 L73.5,660.8 L74.0,661.1 L74.5,659.8 L75.0,660.2 L75.5,659.5 L76.0,660.0 L76.5,660.1 L77.0,660.0 L77.5,661.0 L78.0,660.7 L78.5,661.0 L79.0,660.5 L79.5,661.3 L80.0,660.5 L80.5,661.2 L81.0,660.8 L81.5,661.0 L82.0,660.3 L82.5,659.4 L83.0,659.2 L83.5,662.0 L84.0,660.7 L84.5,660.8 L85.0,660.3 L85.5,660.0 L86.0,662.7 L86.5,659.5 L87.0,660.4 L87.5,660.4 L88.0,659.5 L88.5,659.4 L89.0,659.8 L89.5,660.1 L90.0,660.0 L90.5,661.1 L91.0,659.5 L91.5,660.7 L92.0,661.6 L92.5,661.1 L93.0,659.5 L93.5,658.0 L94.0,661.1 L94.5,660.8 L95.0,659.9 L95.5,661.4 L96.0,660.1 L96.5,660.5 L97.0,659.6 L97.5,660.7 L98.0,660.1 L98.5,660.0 L99.0,661.3 L99.5,660.6 L100.0,659.2 L100.5,660.9 L101.0,661.1 L101.5,659.7 L102.0,660.1 L102.5,660.4 L103.0,660.2 L103.5,660.5 L104.0,660.9 L104.5,660.0 L105.0,662.0 L105.5,659.8 L106.0,659.9 L106.5,662.0 L107.0,662.3 L107.5,660.4 L108.0,660.2 L108.5,659.5 L109.0,661.3 L109.5,660.5 L110.0,659.7 L110.5,660.7 L111.0,661.4 L111.5,660.9 L112.0,662.1 L112.5,661.2 L113.0,660.7 L113.5,660.3 L114.0,660.7 L114.5,661.2 L115.0,660.9 L115.5,661.1 L116.0,660.4 L116.5,660.8 L117.0,661.1 L117.5,659.9 L118.0,658.9 L118.5,661.2 L119.0,660.1 L119.5,659.0 L120.0,659.0 L120.5,657.8 L121.0,655.1 L121.5,654.3 L122.0,651.0 L122.5,650.2 L123.0,649.4 L123.5,651.7 L124.0,653.0 L124.5,655.7 L125.0,656.9 L125.5,658.1 L126.0,658.0 L126.5,660.3 L127.0,659.9 L127.5,659.4 L128.0,660.2 L128.5,659.7 L129.0,659.5 L129.5,660.4 L130.0,661.2 L130.5,660.0 L131.0,659.1 L131.5,659.8 L132.0,661.7 L132.5,659.6 L133.0,661.3 L133.5,660.1 L134.0,660.9 L134.5,660.3 L135.0,659.1 L135.5,660.0 L136.0,662.0 L136.5,660.3 L137.0,660.8 L137.5,660.1 L138.0,660.3 L138.5,660.6 L139.0,660.8 L139.5,662.2 L140.0,660.4 L140.5,660.2 L141.0,659.9 L141.5,659.3 L142.0,659.1 L142.5,660.9 L143.0,658.9 L143.5,661.5 L144.0,661.1 L144.5,660.2 L145.0,659.5 L145.5,660.4 L146.0,660.4 L146.5,661.3 L147.0,659.8 L147.5,660.1 L148.0,660.4 L148.5,660.2 L149.0,659.9 L149.5,659.0 L150.0,659.1 L150.5,659.9 L151.0,660.2 L151.5,661.2 L152.0,662.2 L152.5,661.8 L153.0,660.7 L153.5,661.9 L154.0,660.3 L154.5,660.0 L155.0,662.2 L155.5,659.5 L156.0,660.1 L156.5,660.2 L157.0,661.6 L157.5,659.9 L158.0,661.0 L158.5,660.1 L159.0,659.4 L159.5,660.6 L160.0,660.5 L160.5,659.5 L161.0,659.7 L161.5,659.7 L162.0,661.1 L162.5,660.7 L163.0,660.6 L163.5,660.8 L164.0,660.0 L164.5,660.7 L165.0,659.9 L165.5,659.3 L166.0,659.8 L166.5,660.5 L167.0,660.4 L167.5,661.2 L168.0,659.0 L168.5,660.1 L169.0,660.6 L169.5,659.5 L170.0,660.5 L170.5,660.0 L171.0,659.4 L171.5,661.2 L172.0,659.2 L172.5,661.1 L173.0,659.9 L173.5,659.5 L174.0,659.5 L174.5,659.6 L175.0,659.5 L175.5,660.4 L176.0,658.6 L176.5,661.1 L177.0,660.8 L177.5,661.2 L178.0,659.2 L178.5,658.1 L179.0,659.4 L179.5,659.7 L180.0,660.0 L180.5,659.3 L181.0,659.6 L181.5,659.6 L182.0,658.2 L182.5,660.7 L183.0,658.1 L183.5,659.0 L184.0,659.3 L184.5,657.3 L185.0,657.3 L185.5,657.5 L186.0,653.8 L186.5,651.1 L187.0,643.9 L187.5,634.1 L188.0,622.4 L188.5,610.7 L189.0,607.5 L189.5,615.5 L190.0,627.0 L190.5,638.6 L191.0,645.7 L191.5,652.0 L192.0,656.0 L192.5,657.4 L193.0,657.8 L193.5,657.7 L194.0,658.0 L194.5,659.2 L195.0,660.2 L195.5,659.3 L196.0,660.4 L196.5,659.2 L197.0,660.5 L197.5,658.8 L198.0,659.9 L198.5,658.9 L199.0,660.3 L199.5,660.3 L200.0,659.1 L200.5,659.2 L201.0,659.5 L201.5,658.6 L202.0,659.0 L202.5,659.0 L203.0,660.3 L203.5,660.7 L204.0,659.1 L204.5,658.9 L205.0,658.9 L205.5,657.5 L206.0,656.2 L206.5,654.7 L207.0,650.9 L207.5,647.3 L208.0,644.9 L208.5,647.5 L209.0,648.9 L209.5,652.9 L210.0,654.8 L210.5,657.0 L211.0,658.6 L211.5,658.8 L212.0,659.9 L212.5,659.7 L213.0,658.7 L213.5,658.0 L214.0,660.7 L214.5,659.5 L215.0,661.2 L215.5,660.1 L216.0,659.5 L216.5,660.6 L217.0,660.0 L217.5,660.2 L218.0,659.5 L218.5,660.7 L219.0,661.1 L219.5,659.8 L220.0,661.7 L220.5,659.8 L221.0,660.5 L221.5,659.0 L222.0,658.7 L222.5,661.9 L223.0,661.4 L223.5,661.2 L224.0,658.9 L224.5,660.4 L225.0,660.6 L225.5,660.3 L226.0,660.5 L226.5,659.5 L227.0,660.1 L227.5,659.3 L228.0,660.0 L228.5,660.5 L229.0,659.6 L229.5,660.0 L230.0,659.9 L230.5,660.2 L231.0,660.9 L231.5,660.4 L232.0,660.5 L232.5,659.0 L233.0,659.9 L233.5,660.8 L234.0,659.4 L234.5,659.7 L235.0,659.3 L235.5,661.1 L236.0,659.6 L236.5,659.4 L237.0,660.4 L237.5,660.8 L238.0,660.3 L238.5,660.6 L239.0,659.9 L239.5,659.6 L240.0,659.3 L240.5,659.2 L241.0,659.1 L241.5,659.8 L242.0,659.3 L242.5,659.4 L243.0,659.8 L243.5,659.1 L244.0,658.0 L244.5,658.4 L245.0,658.0 L245.5,657.3 L246.0,658.8 L246.5,657.7 L247.0,657.5 L247.5,657.6 L248.0,659.0 L248.5,658.0 L249.0,658.9 L249.5,657.9 L250.0,657.6 L250.5,658.3 L251.0,658.2 L251.5,657.7 L252.0,656.7 L252.5,657.1 L253.0,656.4 L253.5,657.1 L254.0,657.3 L254.5,658.4 L255.0,658.3 L255.5,657.7 L256.0,657.9 L256.5,657.3 L257.0,659.3 L257.5,658.3 L258.0,659.2 L258.5,657.4 L259.0,657.4 L259.5,657.8 L260.0,657.1 L260.5,657.0 L261.0,655.7 L261.5,656.7 L262.0,655.2 L262.5,654.2 L263.0,651.1 L263.5,646.5 L264.0,644.2 L264.5,640.4 L265.0,635.0 L265.5,634.4 L266.0,637.2 L266.5,641.4 L267.0,644.7 L267.5,651.5 L268.0,654.0 L268.5,654.8 L269.0,655.3 L269.5,657.9 L270.0,659.7 L270.5,659.2 L271.0,659.7 L271.5,658.2 L272.0,659.3 L272.5,658.1 L273.0,661.0 L273.5,660.0 L274.0,657.9 L274.5,658.2 L275.0,660.1 L275.5,659.9 L276.0,659.6 L276.5,660.4 L277.0,661.6 L277.5,660.3 L278.0,658.6 L278.5,659.9 L279.0,659.0 L279.5,659.5 L280.0,660.4 L280.5,660.0 L281.0,659.3 L281.5,660.2 L282.0,659.6 L282.5,660.7 L283.0,660.1 L283.5,660.6 L284.0,660.1 L284.5,660.9 L285.0,660.2 L285.5,660.3 L286.0,659.9 L286.5,660.4 L287.0,658.9 L287.5,662.5 L288.0,659.8 L288.5,660.4 L289.0,660.0 L289.5,660.0 L290.0,660.7 L290.5,660.0 L291.0,660.0 L291.5,659.3 L292.0,659.6 L292.5,659.4 L293.0,661.8 L293.5,659.3 L294.0,659.5 L294.5,660.6 L295.0,661.5 L295.5,659.0 L296.0,659.2 L296.5,660.5 L297.0,660.7 L297.5,659.3 L298.0,659.0 L298.5,659.6 L299.0,661.0 L299.5,660.4 L300.0,661.0 L300.5,660.3 L301.0,660.4 L301.5,660.9 L302.0,660.3 L302.5,660.6 L303.0,659.7 L303.5,659.9 L304.0,660.8 L304.5,660.2 L305.0,659.8 L305.5,661.0 L306.0,660.9 L306.5,660.4 L307.0,659.8 L307.5,661.1 L308.0,662.4 L308.5,659.8 L309.0,659.2 L309.5,659.8 L310.0,659.7 L310.5,659.4 L311.0,659.5 L311.5,661.1 L312.0,661.1 L312.5,661.6 L313.0,661.0 L313.5,660.0 L314.0,661.3 L314.5,659.9 L315.0,660.1 L315.5,659.4 L316.0,661.4 L316.5,661.2 L317.0,660.0 L317.5,660.1 L318.0,660.4 L318.5,660.5 L319.0,661.0 L319.5,660.3 L320.0,660.6 L320.5,659.0 L321.0,660.0 L321.5,658.7 L322.0,661.6 L322.5,661.2 L323.0,660.6 L323.5,660.9 L324.0,661.5 L324.5,660.6 L325.0,658.4 L325.5,659.3 L326.0,657.4 L326.5,658.2 L327.0,657.2 L327.5,657.2 L328.0,655.7 L328.5,652.1 L329.0,649.2 L329.5,645.7 L330.0,641.8 L330.5,640.4 L331.0,640.0 L331.5,645.1 L332.0,650.0 L332.5,653.0 L333.0,654.2 L333.5,656.9 L334.0,658.4 L334.5,658.1 L335.0,659.8 L335.5,658.8 L336.0,659.4 L336.5,659.7 L337.0,661.6 L337.5,659.7 L338.0,659.5 L338.5,660.6 L339.0,659.7 L339.5,660.2 L340.0,658.3 L340.5,660.3 L341.0,660.1 L341.5,659.1 L342.0,661.2 L342.5,659.9 L343.0,659.9 L343.5,659.0 L344.0,658.6 L344.5,659.4 L345.0,658.4 L345.5,659.7 L346.0,659.4 L346.5,657.2 L347.0,655.0 L347.5,654.1 L348.0,651.7 L348.5,651.6 L349.0,652.1 L349.5,653.3 L350.0,655.6 L350.5,658.1 L351.0,659.8 L351.5,658.7 L352.0,660.1 L352.5,659.6 L353.0,659.1 L353.5,661.0 L354.0,660.4 L354.5,660.2 L355.0,660.4 L355.5,660.0 L356.0,659.3 L356.5,661.6 L357.0,660.8 L357.5,660.3 L358.0,660.7 L358.5,660.9 L359.0,659.5 L359.5,659.8 L360.0,658.6 L360.5,658.9 L361.0,657.7 L361.5,659.5 L362.0,657.1 L362.5,658.0 L363.0,658.3 L363.5,658.1 L364.0,659.6 L364.5,659.2 L365.0,659.3 L365.5,659.8 L366.0,659.3 L366.5,661.0 L367.0,660.6 L367.5,660.9 L368.0,659.0 L368.5,660.3 L369.0,659.4 L369.5,660.0 L370.0,660.8 L370.5,659.8 L371.0,659.2 L371.5,659.7 L372.0,658.6 L372.5,657.7 L373.0,652.5 L373.5,651.7 L374.0,648.9 L374.5,647.9 L375.0,650.1 L375.5,651.6 L376.0,653.2 L376.5,656.2 L377.0,658.1 L377.5,660.6 L378.0,659.0 L378.5,658.9 L379.0,658.4 L379.5,659.8 L380.0,660.0 L380.5,660.3 L381.0,659.1 L381.5,659.7 L382.0,658.5 L382.5,660.5 L383.0,659.1 L383.5,658.2 L384.0,661.3 L384.5,660.8 L385.0,660.7 L385.5,660.7 L386.0,659.6 L386.5,661.3 L387.0,659.6 L387.5,662.0 L388.0,660.7 L388.5,659.0 L389.0,661.2 L389.5,662.1 L390.0,660.3 L390.5,661.4 L391.0,660.4 L391.5,660.0 L392.0,658.5 L392.5,661.5 L393.0,660.2 L393.5,660.9 L394.0,659.6 L394.5,659.8 L395.0,661.4 L395.5,660.2 L396.0,660.2 L396.5,659.6 L397.0,660.7 L397.5,661.2 L398.0,660.2 L398.5,660.4 L399.0,659.6 L399.5,661.7 L400.0,660.1 L400.5,660.5 L401.0,661.9 L401.5,660.4 L402.0,659.3 L402.5,659.8 L403.0,660.3 L403.5,662.0 L404.0,660.8 L404.5,660.4 L405.0,661.3 L405.5,661.6 L406.0,660.0 L406.5,661.7 L407.0,661.3 L407.5,661.0 L408.0,658.7 L408.5,660.8 L409.0,661.7 L409.5,660.4 L410.0,662.5 L410.5,660.7 L411.0,659.8 L411.5,661.1 L412.0,660.8 L412.5,661.3 L413.0,660.4 L413.5,661.7 L414.0,660.2 L414.5,660.7 L415.0,659.6 L415.5,660.0 L416.0,660.8 L416.5,660.1 L417.0,660.3 L417.5,660.4 L418.0,660.8 L418.5,661.2 L419.0,661.2 L419.5,661.4 L420.0,660.8 L420.5,660.2 L421.0,659.3 L421.5,660.3 L422.0,660.0 L422.5,659.2 L423.0,662.0 L423.5,659.1 L424.0,660.9 L424.5,661.1 L425.0,660.4 L425.5,662.7 L426.0,660.6 L426.5,660.0 L427.0,662.1 L427.5,660.0 L428.0,659.5 L428.5,659.8 L429.0,660.1 L429.5,660.7 L430.0,660.9 L430.5,659.4 L431.0,660.9 L431.5,662.4 L432.0,660.1 L432.5,660.5 L433.0,661.2 L433.5,661.6 L434.0,660.1 L434.5,659.9 L435.0,659.8 L435.5,661.5 L436.0,661.4 L436.5,658.9 L437.0,658.9 L437.5,659.6 L438.0,659.4 L438.5,661.0 L439.0,660.8 L439.5,662.2 L440.0,661.3 L440.5,660.7 L441.0,661.6 L441.5,659.9 L442.0,659.5 L442.5,660.7 L443.0,661.4 L443.5,659.3 L444.0,661.4 L444.5,661.3 L445.0,660.2 L445.5,660.8 L446.0,660.4 L446.5,660.7 L447.0,661.3 L447.5,660.0 L448.0,661.5 L448.5,661.3 L449.0,661.4 L449.5,659.0 L450.0,659.1 L450.5,661.2 L451.0,660.1 L451.5,660.1 L452.0,660.0 L452.5,659.5 L453.0,660.4 L453.5,660.0 L454.0,660.1 L454.5,661.0 L455.0,659.6 L455.5,661.5 L456.0,658.8 L456.5,662.6 L457.0,659.5 L457.5,661.0 L458.0,661.3 L458.5,660.5 L459.0,661.1 L459.5,660.4 L460.0,659.0 L460.5,660.7 L461.0,661.4 L461.5,659.9 L462.0,658.9 L462.5,659.8 L463.0,660.4 L463.5,660.2 L464.0,660.6 L464.5,659.7 L465.0,658.9 L465.5,655.9 L466.0,658.1 L466.5,655.0 L467.0,654.7 L467.5,653.4 L468.0,654.2 L468.5,655.5 L469.0,658.1 L469.5,659.2 L470.0,659.3 L470.5,661.0 L471.0,659.5 L471.5,660.5 L472.0,659.8 L472.5,661.4 L473.0,660.4 L473.5,661.2 L474.0,661.9 L474.5,658.8 L475.0,662.3 L475.5,660.8 L476.0,660.3 L476.5,659.0 L477.0,660.3 L477.5,658.7 L478.0,660.7 L478.5,660.5 L479.0,662.1 L479.5,660.3 L480.0,661.5 L480.5,661.6 L481.0,662.3 L481.5,660.4 L482.0,661.3 L482.5,659.4 L483.0,659.7 L483.5,660.4 L484.0,660.6 L484.5,659.7 L485.0,660.3 L485.5,661.2 L486.0,660.3 L486.5,660.5 L487.0,659.9 L487.5,661.8 L488.0,662.1 L488.5,660.8 L489.0,660.6 L489.5,662.0 L490.0,661.1 L490.5,660.1 L491.0,659.6 L491.5,660.2 L492.0,662.5 L492.5,660.2 L493.0,663.0 L493.5,660.7 L494.0,660.5 L494.5,661.8 L495.0,660.5 L495.5,661.0 L496.0,659.8 L496.5,659.7 L497.0,660.1 L497.5,660.9 L498.0,660.1 L498.5,659.1 L499.0,661.1 L499.5,660.5 L500.0,660.5 L500.5,660.2 L501.0,658.8 L501.5,662.0 L502.0,660.3 L502.5,661.1 L503.0,661.8 L503.5,661.6 L504.0,660.8 L504.5,660.7 L505.0,660.9 L505.5,661.4 L506.0,661.1 L506.5,660.3 L507.0,661.0 L507.5,661.0 L508.0,661.2 L508.5,660.8 L509.0,661.8 L509.5,660.8 L510.0,661.4 L510.5,660.7 L511.0,660.2 L511.5,659.9 L512.0,660.5 L512.5,661.1 L513.0,661.7 L513.5,660.5 L514.0,660.2 L514.5,660.2 L515.0,661.6 L515.5,660.6 L516.0,660.1 L516.5,661.1 L517.0,659.4 L517.5,660.5 L518.0,660.3 L518.5,660.1 L519.0,659.0 L519.5,660.5 L520.0,660.5 L520.5,657.3 L521.0,657.5 L521.5,656.8 L522.0,657.1 L522.5,654.4 L523.0,654.2 L523.5,655.8 L524.0,658.6 L524.5,658.1 L525.0,659.1 L525.5,660.9 L526.0,658.1 L526.5,658.3 L527.0,661.0 L527.5,661.0 L528.0,659.3 L528.5,660.9 L529.0,660.5 L529.5,660.7 L530.0,659.9 L530.5,660.2 L531.0,659.8 L531.5,660.6 L532.0,660.4 L532.5,662.0 L533.0,661.1 L533.5,659.3 L534.0,660.9 L534.5,661.8 L535.0,660.8 L535.5,661.5 L536.0,660.6 L536.5,661.2 L537.0,659.8 L537.5,661.2 L538.0,659.4 L538.5,661.6 L539.0,659.3 L539.5,658.8 L540.0,660.9 L540.5,660.3 L541.0,660.5 L541.5,660.7 L542.0,660.3 L542.5,659.5 L543.0,660.3 L543.5,660.1 L544.0,659.8 L544.5,660.3 L545.0,656.9 L545.5,655.9 L546.0,654.4 L546.5,651.9 L547.0,650.8 L547.5,652.3 L548.0,655.6 L548.5,656.3 L549.0,658.5 L549.5,658.4 L550.0,660.0 L550.5,659.4 L551.0,659.5 L551.5,660.4 L552.0,660.4 L552.5,661.6 L553.0,659.1 L553.5,660.9 L554.0,661.8 L554.5,661.6 L555.0,660.2 L555.5,660.0 L556.0,660.2 L556.5,660.8 L557.0,660.7 L557.5,660.9 L558.0,661.1 L558.5,659.7 L559.0,659.6 L559.5,659.5 L560.0,659.4 L560.5,660.4 L561.0,660.7 L561.5,662.5 L562.0,660.8 L562.5,660.2 L563.0,661.2 L563.5,659.1 L564.0,659.5 L564.5,659.3 L565.0,658.2 L565.5,657.0 L566.0,655.7 L566.5,654.7 L567.0,656.1 L567.5,656.5 L568.0,658.5 L568.5,658.7 L569.0,659.9 L569.5,658.5 L570.0,660.9 L570.5,659.6 L571.0,659.1 L571.5,659.3 L572.0,660.0 L572.5,661.5 L573.0,661.2 L573.5,659.6 L574.0,660.7 L574.5,660.5 L575.0,659.4 L575.5,659.8 L576.0,659.0 L576.5,660.0 L577.0,658.5 L577.5,660.0 L578.0,659.9 L578.5,660.0 L579.0,660.0 L579.5,661.6 L580.0,660.4 L580.5,660.9 L581.0,661.3 L581.5,661.4 L582.0,661.3 L582.5,660.2 L583.0,659.8 L583.5,660.1 L584.0,660.3 L584.5,660.7 L585.0,660.6 L585.5,661.6 L586.0,660.6 L586.5,662.1 L587.0,661.5 L587.5,660.3 L588.0,661.4 L588.5,658.3 L589.0,661.8 L589.5,661.0 L590.0,660.9 L590.5,659.2 L591.0,662.6 L591.5,660.3 L592.0,660.4 L592.5,661.4 L593.0,660.2 L593.5,659.6 L594.0,660.7 L594.5,659.2 L595.0,660.3 L595.5,659.4 L596.0,659.4 L596.5,656.4 L597.0,657.1 L597.5,654.8 L598.0,654.9 L598.5,652.2 L599.0,654.8 L599.5,655.2 L600.0,656.7 L600.5,656.8 L601.0,659.0 L601.5,659.8 L602.0,659.1 L602.5,659.1 L603.0,659.6 L603.5,661.5 L604.0,660.5 L604.5,661.2 L605.0,660.8 L605.5,660.7 L606.0,660.8 L606.5,660.3 L607.0,661.6 L607.5,660.8 L608.0,660.9 L608.5,659.6 L609.0,660.9 L609.5,660.2 L610.0,660.3 L610.5,661.6 L611.0,659.8 L611.5,660.6 L612.0,661.3 L612.5,661.7 L613.0,660.3 L613.5,661.0 L614.0,661.0 L614.5,659.8 L615.0,659.0 L615.5,659.2 L616.0,661.3 L616.5,660.9 L617.0,659.7 L617.5,660.3 L618.0,660.5 L618.5,660.5 L619.0,660.8 L619.5,662.6 L620.0,660.2 L620.5,660.9 L621.0,660.2 L621.5,660.3 L622.0,660.1 L622.5,660.6 L623.0,660.4 L623.5,661.1 L624.0,661.0 L624.5,660.1 L625.0,662.4 L625.5,659.9 L626.0,661.1 L626.5,662.6 L627.0,660.2 L627.5,661.9 L628.0,662.0 L628.5,661.1 L629.0,659.3 L629.5,662.0 L630.0,660.9 L630.5,660.4 L631.0,661.9 L631.5,660.2 L632.0,661.7 L632.5,660.4 L633.0,661.3 L633.5,660.0 L634.0,660.5 L634.5,660.1 L635.0,660.3 L635.5,661.0 L636.0,660.7 L636.5,661.0 L637.0,661.9 L637.5,660.7 L638.0,659.3 L638.5,660.6 L639.0,660.9 L639.5,661.7 L640.0,661.7 L640.5,661.6 L641.0,660.7 L641.5,661.4 L642.0,659.7 L642.5,661.9 L643.0,661.2 L643.5,661.3 L644.0,660.5 L644.5,660.9 L645.0,660.3 L645.5,661.3 L646.0,659.7 L646.5,661.6 L647.0,661.3 L647.5,662.5 L648.0,660.8 L648.5,660.7 L649.0,661.0 L649.5,660.8 L650.0,660.7 L650.5,659.9 L651.0,659.9 L651.5,660.3 L652.0,660.5 L652.5,659.7 L653.0,659.7 L653.5,660.3 L654.0,661.0 L654.5,660.1 L655.0,660.5 L655.5,660.4 L656.0,659.7 L656.5,658.3 L657.0,657.9 L657.5,656.4 L658.0,657.4 L658.5,658.6 L659.0,657.8 L659.5,660.3 L660.0,660.8 L660.5,659.7 L661.0,661.0 L661.5,659.3 L662.0,659.7 L662.5,660.4 L663.0,660.7 L663.5,660.6 L664.0,660.1 L664.5,662.4 L665.0,661.0 L665.5,661.1 L666.0,661.4 L666.5,661.0 L667.0,660.7 L667.5,660.4 L668.0,659.5 L668.5,662.1 L669.0,660.1 L669.5,659.5 L670.0,660.2 L670.5,659.6 L671.0,662.5 L671.5,661.2 L672.0,662.0 L672.5,662.1 L673.0,661.4 L673.5,661.4 L674.0,660.3 L674.5,660.8 L675.0,660.4 L675.5,660.9 L676.0,660.3 L676.5,662.0 L677.0,661.5 L677.5,660.8 L678.0,659.6 L678.5,661.5 L679.0,661.6 L679.5,660.9 L680.0,659.9 L680.5,661.3 L681.0,661.8 L681.5,659.4 L682.0,661.4 L682.5,659.5 L683.0,661.0 L683.5,662.4 L684.0,661.0 L684.5,661.3 L685.0,660.7 L685.5,660.9 L686.0,662.9 L686.5,662.0 L687.0,660.7 L687.5,660.6 L688.0,661.0 L688.5,662.7 L689.0,661.1 L689.5,661.9 L690.0,660.7 L690.5,659.9 L691.0,662.0 L691.5,660.9 L692.0,660.3 L692.5,660.4 L693.0,660.4 L693.5,660.5 L694.0,659.7 L694.5,661.9 L695.0,661.3 L695.5,661.8 L696.0,660.7 L696.5,661.3 L697.0,661.1 L697.5,661.9 L698.0,661.6 L698.5,661.3 L699.0,660.4 L699.5,660.0 L700.0,660.3 L700.5,660.5 L701.0,660.5 L701.5,660.0 L702.0,662.3 L702.5,661.2 L703.0,659.3 L703.5,660.1 L704.0,659.9 L704.5,661.2 L705.0,661.9 L705.5,660.2 L706.0,661.5 L706.5,660.8 L707.0,661.9 L707.5,662.1 L708.0,661.2 L708.5,661.6 L709.0,661.0 L709.5,660.7 L710.0,660.1 L710.5,661.3 L711.0,660.9 L711.5,660.7 L712.0,660.9 L712.5,660.9 L713.0,660.2 L713.5,660.6 L714.0,661.9 L714.5,660.8 L715.0,662.1 L715.5,660.1 L716.0,659.9 L716.5,661.1 L717.0,661.6 L717.5,660.5 L718.0,661.5 L718.5,661.8 L719.0,661.9 L719.5,660.9 L720.0,661.0 L720.5,659.7 L721.0,661.0 L721.5,661.2 L722.0,662.2 L722.5,660.0 L723.0,660.3 L723.5,660.2 L724.0,661.8 L724.5,659.0 L725.0,660.1 L725.5,662.7 L726.0,661.6 L726.5,660.0 L727.0,661.0 L727.5,661.7 L728.0,661.5 L728.5,660.9 L729.0,660.4 L729.5,661.7 L730.0,661.0 L730.5,661.7 L731.0,661.4 L731.5,660.7 L732.0,662.2 L732.5,660.6 L733.0,661.4 L733.5,660.5 L734.0,660.9 L734.5,660.8 L735.0,660.5 L735.5,661.2 L736.0,662.1 L736.5,662.6 L737.0,662.2 L737.5,660.9 L738.0,662.2 L738.5,661.4 L739.0,662.5 L739.5,660.0 L740.0,662.3 L740.5,660.6 L741.0,662.0 L741.5,660.7 L742.0,661.8 L742.5,660.8 L743.0,659.5 L743.5,660.3 L744.0,660.9 L744.5,661.1 L745.0,659.3 L745.5,660.1 L746.0,660.5 L746.5,660.9 L747.0,661.2 L747.5,660.4 L748.0,659.8 L748.5,661.3 L749.0,660.8 L749.5,661.8 L750.0,660.6 L750.5,661.6 L751.0,660.4 L751.5,661.3 L752.0,661.1 L752.5,661.4 L753.0,660.3 L753.5,661.0 L754.0,660.4 L754.5,661.0 L755.0,661.6 L755.5,663.5 L756.0,661.1 L756.5,661.7 L757.0,661.2 L757.5,662.0 L758.0,661.5 L758.5,661.9 L759.0,661.4 L759.5,663.0 L760.0,662.2 L760.5,659.7 L761.0,661.3 L761.5,661.2 L762.0,659.3 L762.5,660.4 L763.0,660.7 L763.5,660.5 L764.0,661.2 L764.5,659.7 L765.0,661.7 L765.5,661.7 L766.0,661.4 L766.5,660.8 L767.0,661.1 L767.5,660.7 L768.0,662.0 L768.5,661.5 L769.0,662.7 L769.5,660.8 L770.0,662.3 L770.5,660.7 L771.0,661.0 L771.5,660.3 L772.0,661.5 L772.5,661.1 L773.0,661.6 L773.5,662.3 L774.0,661.1 L774.5,661.4 L775.0,661.8 L775.5,661.1 L776.0,660.7 L776.5,661.4 L777.0,661.5 L777.5,661.8 L778.0,661.8 L778.5,660.6 L779.0,661.5 L779.5,662.1 L780.0,660.8 L780.5,661.4 L781.0,660.6 L781.5,661.3 L782.0,662.5 L782.5,661.3 L783.0,660.4 L783.5,661.4 L784.0,661.3 L784.5,662.0 L785.0,660.0 L785.5,660.4 L786.0,661.1 L786.5,659.9 L787.0,662.1 L787.5,659.5 L788.0,660.5 L788.5,660.0 L789.0,660.6 L789.5,661.8 L790.0,661.6 L790.5,661.9 L791.0,661.6 L791.5,659.5 L792.0,661.4 L792.5,659.7 L793.0,660.8 L793.5,660.8 L794.0,660.7 L794.5,661.6 L795.0,660.5 L795.5,662.6 L796.0,661.6 L796.5,662.1 L797.0,661.8 L797.5,661.9 L798.0,661.1 L798.5,662.7 L799.0,660.3 L799.5,661.5 L800.0,661.2 L800.5,661.0 L801.0,661.4 L801.5,660.6 L802.0,661.9 L802.5,661.8 L803.0,661.3 L803.5,661.8 L804.0,660.3 L804.5,659.7 L805.0,660.7 L805.5,661.0 L806.0,663.2 L806.5,661.0 L807.0,662.0 L807.5,661.9 L808.0,662.9 L808.5,661.3 L809.0,661.7 L809.5,661.0 L810.0,660.5 L810.5,660.4 L811.0,660.6 L811.5,662.3 L812.0,661.4 L812.5,661.1 L813.0,661.2 L813.5,660.7 L814.0,661.2 L814.5,661.2 L815.0,661.7 L815.5,661.9 L816.0,659.9 L816.5,661.4 L817.0,662.3 L817.5,660.4 L818.0,661.0 L818.5,661.3 L819.0,662.1 L819.5,661.7 L820.0,661.0 L820.5,661.6 L821.0,662.0 L821.5,661.5 L822.0,662.7 L822.5,661.6 L823.0,660.4 L823.5,660.6 L824.0,661.1 L824.5,661.1 L825.0,661.7 L825.5,661.5 L826.0,662.6 L826.5,661.9 L827.0,662.4 L827.5,660.6 L828.0,660.9 L828.5,661.8 L829.0,661.3 L829.5,661.7 L830.0,661.4 L830.5,660.7 L831.0,662.6 L831.5,662.1 L832.0,660.0 L832.5,660.7 L833.0,661.3 L833.5,661.8 L834.0,661.2 L834.5,660.2 L835.0,661.9 L835.5,661.1 L836.0,662.2 L836.5,661.5 L837.0,662.0 L837.5,661.9 L838.0,662.0 L838.5,660.8 L839.0,662.1 L839.5,661.4 L840.0,660.3 L840.5,660.9 L841.0,661.0 L841.5,661.6 L842.0,661.8 L842.5,660.4 L843.0,661.8 L843.5,661.2 L844.0,660.4 L844.5,661.9 L845.0,660.7 L845.5,660.3 L846.0,661.9 L846.5,662.0 L847.0,660.7 L847.5,662.1 L848.0,662.1 L848.5,660.9 L849.0,662.9 L849.5,661.2 L850.0,661.5 L850.5,659.4 L851.0,661.8 L851.5,660.8 L852.0,661.6 L852.5,659.9 L853.0,662.2 L853.5,662.4 L854.0,662.8 L854.5,658.9 L855.0,661.8 L855.5,661.6 L856.0,658.9 L856.5,660.7 L857.0,661.2 L857.5,662.4 L858.0,660.6 L858.5,661.5 L859.0,661.3 L859.5,661.6 L860.0,661.0 L860.5,662.0 L861.0,662.1 L861.5,660.2 L862.0,662.2 L862.5,660.7 L863.0,661.1 L863.5,662.2 L864.0,661.4 L864.5,661.8 L865.0,661.9 L865.5,661.8 L866.0,660.9 L866.5,660.6 L867.0,661.9 L867.5,661.9 L868.0,661.6 L868.5,661.2 L869.0,662.0 L869.5,661.3 L870.0,660.2 L870.5,661.6 L871.0,661.7 L871.5,662.0 L872.0,660.6 L872.5,660.7 L873.0,661.6 L873.5,661.0 L874.0,661.3 L874.5,662.1 L875.0,661.7 L875.5,662.8 L876.0,661.6 L876.5,662.7 L877.0,662.2 L877.5,663.4 L878.0,661.4 L878.5,661.3 L879.0,662.4 L879.5,661.0 L880.0,661.0 L880.5,661.6 L881.0,661.7 L881.5,660.3 L882.0,661.6 L882.5,661.1 L883.0,661.4 L883.5,661.5 L884.0,661.2 L884.5,662.2 L885.0,661.8 L885.5,661.2 L886.0,661.5 L886.5,662.2 L887.0,662.0 L887.5,662.4 L888.0,661.3 L888.5,661.5 L889.0,663.0 L889.5,661.4 L890.0,662.7 L890.5,662.1 L891.0,661.1 L891.5,660.3 L892.0,661.9 L892.5,660.9 L893.0,660.9 L893.5,660.0 L894.0,662.4 L894.5,661.5 L895.0,661.4 L895.5,661.7 L896.0,661.6 L896.5,661.5 L897.0,661.8 L897.5,661.2 L898.0,659.4 L898.5,662.0 L899.0,661.8 L899.5,661.5 L900.0,662.7 L900.5,660.3 L901.0,659.1 L901.5,662.6 L902.0,661.8 L902.5,660.1 L903.0,661.1 L903.5,661.9 L904.0,660.5 L904.5,661.9 L905.0,663.1 L905.5,662.5 L906.0,661.4 L906.5,661.7 L907.0,660.7 L907.5,661.6 L908.0,661.2 L908.5,660.7 L909.0,660.4 L909.5,663.0 L910.0,661.5 L910.5,660.6 L911.0,661.1 L911.5,662.6 L912.0,662.7 L912.5,661.0 L913.0,661.6 L913.5,662.2 L914.0,661.2 L914.5,660.5 L915.0,660.7 L915.5,661.5 L916.0,660.9 L916.5,660.4 L917.0,661.3 L917.5,662.2 L918.0,662.0 L918.5,661.3 L919.0,663.0 L919.5,660.8 L920.0,661.4 L920.5,660.4 L921.0,662.1 L921.5,661.4 L922.0,660.1 L922.5,660.8 L923.0,662.9 L923.5,662.0 L924.0,661.6 L924.5,662.2 L925.0,660.2 L925.5,660.8 L926.0,660.4 L926.5,660.8 L927.0,661.2 L927.5,661.9 L928.0,662.3 L928.5,662.3 L929.0,663.6 L929.5,661.1 L930.0,661.5 L930.5,661.9 L931.0,660.8 L931.5,661.3 L932.0,661.8 L932.5,660.8 L933.0,661.9 L933.5,662.5 L934.0,660.6 L934.5,659.7 L935.0,661.6 L935.5,660.7 L936.0,661.6 L936.5,661.1 L937.0,661.7 L937.5,662.4 L938.0,662.1 L938.5,661.2 L939.0,660.6 L939.5,659.5 L940.0,659.8 L940.5,660.9 L941.0,661.6 L941.5,661.0 L942.0,661.0 L942.5,660.2 L943.0,660.2 L943.5,660.1 L944.0,662.0 L944.5,659.9 L945.0,662.0 L945.5,660.8 L946.0,661.9 L946.5,661.7 L947.0,662.1 L947.5,662.4 L948.0,660.9 L948.5,660.7 L949.0,661.1 L949.5,660.9 L950.0,662.0 L950.5,661.4 L951.0,661.5 L951.5,661.8 L952.0,661.1 L952.5,662.3 L953.0,660.0 L953.5,661.6 L954.0,661.9 L954.5,660.9 L955.0,660.9 L955.5,662.2 L956.0,661.2 L956.5,659.9 L957.0,660.4 L957.5,662.3 L958.0,660.8 L958.5,662.5 L959.0,662.6 L959.5,661.3 L960.0,661.9 L960.5,660.8 L961.0,661.1 L961.5,660.9 L962.0,661.9 L962.5,660.4 L963.0,661.4 L963.5,661.5 L964.0,661.9 L964.5,659.8 L965.0,660.0 L965.5,660.8 L966.0,661.3 L966.5,661.6 L967.0,661.6 L967.5,663.1 L968.0,662.0 L968.5,661.9 L969.0,661.1 L969.5,662.1 L970.0,662.0 L970.5,662.0 L971.0,661.4 L971.5,662.0 L972.0,662.7 L972.5,660.8 L973.0,659.8 L973.5,662.1 L974.0,662.1 L974.5,661.3 L975.0,661.1 L975.5,663.7 L976.0,661.1 L976.5,660.5 L977.0,661.1 L977.5,661.9 L978.0,661.0 L978.5,661.2 L979.0,661.7 L979.5,661.1" fill="none" stroke="#e0a82c" stroke-width="2.5" stroke-linejoin="round"/>
<g stroke="#107010" stroke-width="2.6"><line x1="110" y1="512" x2="110" y2="480"/><line x1="121.4" y1="512" x2="121.4" y2="491.1"/><line x1="153.5" y1="512" x2="153.5" y2="504"/><line x1="254" y1="512" x2="254" y2="467.4"/><line x1="290" y1="512" x2="290" y2="507.6"/><line x1="298.1" y1="512" x2="298.1" y2="501"/><line x1="303.5" y1="512" x2="303.5" y2="486"/><line x1="317" y1="512" x2="317" y2="494.4"/><line x1="321" y1="512" x2="321" y2="502.5"/><line x1="328.4" y1="512" x2="328.4" y2="504"/><line x1="363.6" y1="512" x2="363.6" y2="500"/><line x1="366.9" y1="512" x2="366.9" y2="500"/><line x1="394.5" y1="512" x2="394.5" y2="506.4"/><line x1="409.5" y1="512" x2="409.5" y2="507"/><line x1="423" y1="512" x2="423" y2="503.4"/><line x1="441" y1="512" x2="441" y2="507"/><line x1="449.1" y1="512" x2="449.1" y2="506"/><line x1="457.5" y1="512" x2="457.5" y2="506"/><line x1="478.5" y1="512" x2="478.5" y2="508.5"/><line x1="504" y1="512" x2="504" y2="496"/><line x1="515.4" y1="512" x2="515.4" y2="495"/><line x1="531" y1="512" x2="531" y2="508.5"/><line x1="532.5" y1="512" x2="532.5" y2="508.5"/><line x1="544" y1="512" x2="544" y2="507"/><line x1="552.6" y1="512" x2="552.6" y2="507"/><line x1="561" y1="512" x2="561" y2="507.5"/><line x1="571" y1="512" x2="571" y2="496"/><line x1="573" y1="512" x2="573" y2="501"/><line x1="585.6" y1="512" x2="585.6" y2="508"/><line x1="602" y1="512" x2="602" y2="507"/><line x1="606" y1="512" x2="606" y2="507"/><line x1="612" y1="512" x2="612" y2="507.5"/><line x1="617.4" y1="512" x2="617.4" y2="507.5"/><line x1="629.6" y1="512" x2="629.6" y2="502.4"/><line x1="632.4" y1="512" x2="632.4" y2="503.7"/><line x1="648" y1="512" x2="648" y2="505.6"/><line x1="654" y1="512" x2="654" y2="508"/><line x1="665" y1="512" x2="665" y2="508"/><line x1="678.4" y1="512" x2="678.4" y2="507.5"/><line x1="686.6" y1="512" x2="686.6" y2="506.7"/><line x1="689.8" y1="512" x2="689.8" y2="504.6"/><line x1="697.4" y1="512" x2="697.4" y2="505.6"/><line x1="701.2" y1="512" x2="701.2" y2="503"/><line x1="704" y1="512" x2="704" y2="504.8"/><line x1="716.4" y1="512" x2="716.4" y2="508"/><line x1="724" y1="512" x2="724" y2="508"/><line x1="733.5" y1="512" x2="733.5" y2="507"/><line x1="741.7" y1="512" x2="741.7" y2="508"/><line x1="745.9" y1="512" x2="745.9" y2="506"/><line x1="750.2" y1="512" x2="750.2" y2="506.5"/><line x1="759.2" y1="512" x2="759.2" y2="505.6"/><line x1="764.9" y1="512" x2="764.9" y2="506.5"/><line x1="767.7" y1="512" x2="767.7" y2="507"/><line x1="789.6" y1="512" x2="789.6" y2="506"/><line x1="798.8" y1="512" x2="798.8" y2="508"/><line x1="804.6" y1="512" x2="804.6" y2="508.5"/><line x1="809.5" y1="512" x2="809.5" y2="508"/><line x1="813.4" y1="512" x2="813.4" y2="508.5"/><line x1="817.3" y1="512" x2="817.3" y2="508.5"/><line x1="820.2" y1="512" x2="820.2" y2="504.8"/><line x1="825.1" y1="512" x2="825.1" y2="504.8"/><line x1="832" y1="512" x2="832" y2="504.2"/><line x1="843.6" y1="512" x2="843.6" y2="508.5"/><line x1="852.4" y1="512" x2="852.4" y2="508.5"/><line x1="860.2" y1="512" x2="860.2" y2="508.5"/><line x1="863.1" y1="512" x2="863.1" y2="508.5"/><line x1="873.9" y1="512" x2="873.9" y2="508.5"/><line x1="898.2" y1="512" x2="898.2" y2="508.5"/><line x1="910" y1="512" x2="910" y2="508.5"/><line x1="919.7" y1="512" x2="919.7" y2="508"/><line x1="924.6" y1="512" x2="924.6" y2="508"/><line x1="938.2" y1="512" x2="938.2" y2="508"/><line x1="941.1" y1="512" x2="941.1" y2="508"/><line x1="945" y1="512" x2="945" y2="508"/><line x1="949.9" y1="512" x2="949.9" y2="508.5"/><line x1="957.7" y1="512" x2="957.7" y2="508.5"/><line x1="964.5" y1="512" x2="964.5" y2="508"/><line x1="969.4" y1="512" x2="969.4" y2="508.5"/><line x1="974.3" y1="512" x2="974.3" y2="508.5"/><line x1="978.2" y1="512" x2="978.2" y2="508.5"/></g>
<g stroke="#0f8080" stroke-width="2.6"><line x1="125" y1="730" x2="125" y2="709.5"/><line x1="188" y1="730" x2="188" y2="676.5"/><line x1="206.6" y1="730" x2="206.6" y2="718.5"/><line x1="267.5" y1="730" x2="267.5" y2="685.5"/><line x1="332" y1="730" x2="332" y2="699.6"/><line x1="348.6" y1="730" x2="348.6" y2="718.5"/><line x1="362.1" y1="730" x2="362.1" y2="722.4"/><line x1="374.4" y1="730" x2="374.4" y2="718.5"/><line x1="468" y1="730" x2="468" y2="722.4"/><line x1="522.6" y1="730" x2="522.6" y2="722.4"/><line x1="546.6" y1="730" x2="546.6" y2="718.5"/><line x1="567.9" y1="730" x2="567.9" y2="722.4"/><line x1="603" y1="730" x2="603" y2="720.6"/><line x1="657.3" y1="730" x2="657.3" y2="722.6"/><line x1="703.4" y1="730" x2="703.4" y2="722.6"/><line x1="732.6" y1="730" x2="732.6" y2="722.6"/><line x1="744.3" y1="730" x2="744.3" y2="722.6"/><line x1="769.7" y1="730" x2="769.7" y2="722"/><line x1="874.2" y1="730" x2="874.2" y2="722.6"/></g>
<rect x="51.7" y="2.8" width="928.6" height="728" fill="none" stroke="#000" stroke-width="2.6"/><line x1="51.7" y1="138.5" x2="980.3" y2="138.5" stroke="#000" stroke-width="2.6"/><line x1="51.7" y1="216.8" x2="980.3" y2="216.8" stroke="#000" stroke-width="2.6"/><line x1="51.7" y1="295.2" x2="980.3" y2="295.2" stroke="#000" stroke-width="2.6"/><line x1="51.7" y1="374.2" x2="980.3" y2="374.2" stroke="#000" stroke-width="2.6"/><line x1="51.7" y1="466.9" x2="980.3" y2="466.9" stroke="#000" stroke-width="2.6"/><line x1="51.7" y1="512.9" x2="980.3" y2="512.9" stroke="#000" stroke-width="2.6"/><line x1="51.7" y1="590.5" x2="980.3" y2="590.5" stroke="#000" stroke-width="2.6"/><line x1="51.7" y1="675.8" x2="980.3" y2="675.8" stroke="#000" stroke-width="2.6"/><line x1="51.70" y1="730" x2="51.70" y2="743" stroke="#000" stroke-width="2.6"/><line x1="118.03" y1="730" x2="118.03" y2="736.5" stroke="#000" stroke-width="2.6"/><line x1="184.36" y1="730" x2="184.36" y2="743" stroke="#000" stroke-width="2.6"/><line x1="250.69" y1="730" x2="250.69" y2="736.5" stroke="#000" stroke-width="2.6"/><line x1="317.01" y1="730" x2="317.01" y2="743" stroke="#000" stroke-width="2.6"/><line x1="383.34" y1="730" x2="383.34" y2="736.5" stroke="#000" stroke-width="2.6"/><line x1="449.67" y1="730" x2="449.67" y2="743" stroke="#000" stroke-width="2.6"/><line x1="516.00" y1="730" x2="516.00" y2="736.5" stroke="#000" stroke-width="2.6"/><line x1="582.33" y1="730" x2="582.33" y2="743" stroke="#000" stroke-width="2.6"/><line x1="648.66" y1="730" x2="648.66" y2="736.5" stroke="#000" stroke-width="2.6"/><line x1="714.99" y1="730" x2="714.99" y2="743" stroke="#000" stroke-width="2.6"/><line x1="781.31" y1="730" x2="781.31" y2="736.5" stroke="#000" stroke-width="2.6"/><line x1="847.64" y1="730" x2="847.64" y2="743" stroke="#000" stroke-width="2.6"/><line x1="913.97" y1="730" x2="913.97" y2="736.5" stroke="#000" stroke-width="2.6"/><line x1="980.30" y1="730" x2="980.30" y2="743" stroke="#000" stroke-width="2.6"/>
<path transform="translate(96.6,19.3)" d="M0,-9.3 L1.9,-1.9 L9.3,0 L1.9,1.9 L0,9.3 L-1.9,1.9 L-9.3,0 L-1.9,-1.9 Z" fill="#fff" stroke="#000" stroke-width="1.85" stroke-linejoin="round"/><path transform="translate(109.1,86.4)" d="M0,-9.3 L1.9,-1.9 L9.3,0 L1.9,1.9 L0,9.3 L-1.9,1.9 L-9.3,0 L-1.9,-1.9 Z" fill="#fff" stroke="#000" stroke-width="1.85" stroke-linejoin="round"/><path transform="translate(122,101.1)" d="M0,-9.3 L1.9,-1.9 L9.3,0 L1.9,1.9 L0,9.3 L-1.9,1.9 L-9.3,0 L-1.9,-1.9 Z" fill="#fff" stroke="#000" stroke-width="1.85" stroke-linejoin="round"/><path transform="translate(154.4,109.5)" d="M0,-9.3 L1.9,-1.9 L9.3,0 L1.9,1.9 L0,9.3 L-1.9,1.9 L-9.3,0 L-1.9,-1.9 Z" fill="#fff" stroke="#000" stroke-width="1.85" stroke-linejoin="round"/><path transform="translate(253.4,65.6)" d="M0,-9.3 L1.9,-1.9 L9.3,0 L1.9,1.9 L0,9.3 L-1.9,1.9 L-9.3,0 L-1.9,-1.9 Z" fill="#fff" stroke="#000" stroke-width="1.85" stroke-linejoin="round"/><path transform="translate(304.1,90)" d="M0,-9.3 L1.9,-1.9 L9.3,0 L1.9,1.9 L0,9.3 L-1.9,1.9 L-9.3,0 L-1.9,-1.9 Z" fill="#fff" stroke="#000" stroke-width="1.85" stroke-linejoin="round"/><path transform="translate(317.9,69.6)" d="M0,-9.3 L1.9,-1.9 L9.3,0 L1.9,1.9 L0,9.3 L-1.9,1.9 L-9.3,0 L-1.9,-1.9 Z" fill="#fff" stroke="#000" stroke-width="1.85" stroke-linejoin="round"/><path transform="translate(331.4,101.1)" d="M0,-9.3 L1.9,-1.9 L9.3,0 L1.9,1.9 L0,9.3 L-1.9,1.9 L-9.3,0 L-1.9,-1.9 Z" fill="#fff" stroke="#000" stroke-width="1.85" stroke-linejoin="round"/><path transform="translate(366,99.9)" d="M0,-9.3 L1.9,-1.9 L9.3,0 L1.9,1.9 L0,9.3 L-1.9,1.9 L-9.3,0 L-1.9,-1.9 Z" fill="#fff" stroke="#000" stroke-width="1.85" stroke-linejoin="round"/><path transform="translate(392.1,98.1)" d="M0,-9.3 L1.9,-1.9 L9.3,0 L1.9,1.9 L0,9.3 L-1.9,1.9 L-9.3,0 L-1.9,-1.9 Z" fill="#fff" stroke="#000" stroke-width="1.85" stroke-linejoin="round"/><path transform="translate(408.6,114)" d="M0,-9.3 L1.9,-1.9 L9.3,0 L1.9,1.9 L0,9.3 L-1.9,1.9 L-9.3,0 L-1.9,-1.9 Z" fill="#fff" stroke="#000" stroke-width="1.85" stroke-linejoin="round"/><path transform="translate(425.1,100.5)" d="M0,-9.3 L1.9,-1.9 L9.3,0 L1.9,1.9 L0,9.3 L-1.9,1.9 L-9.3,0 L-1.9,-1.9 Z" fill="#fff" stroke="#000" stroke-width="1.85" stroke-linejoin="round"/><path transform="translate(482.1,113.1)" d="M0,-9.3 L1.9,-1.9 L9.3,0 L1.9,1.9 L0,9.3 L-1.9,1.9 L-9.3,0 L-1.9,-1.9 Z" fill="#fff" stroke="#000" stroke-width="1.85" stroke-linejoin="round"/><path transform="translate(505.5,97.5)" d="M0,-9.3 L1.9,-1.9 L9.3,0 L1.9,1.9 L0,9.3 L-1.9,1.9 L-9.3,0 L-1.9,-1.9 Z" fill="#fff" stroke="#000" stroke-width="1.85" stroke-linejoin="round"/><path transform="translate(517.5,81)" d="M0,-9.3 L1.9,-1.9 L9.3,0 L1.9,1.9 L0,9.3 L-1.9,1.9 L-9.3,0 L-1.9,-1.9 Z" fill="#fff" stroke="#000" stroke-width="1.85" stroke-linejoin="round"/><path transform="translate(572.4,99.9)" d="M0,-9.3 L1.9,-1.9 L9.3,0 L1.9,1.9 L0,9.3 L-1.9,1.9 L-9.3,0 L-1.9,-1.9 Z" fill="#fff" stroke="#000" stroke-width="1.85" stroke-linejoin="round"/><path transform="translate(632,107.6)" d="M0,-9.3 L1.9,-1.9 L9.3,0 L1.9,1.9 L0,9.3 L-1.9,1.9 L-9.3,0 L-1.9,-1.9 Z" fill="#fff" stroke="#000" stroke-width="1.85" stroke-linejoin="round"/><path transform="translate(704,108)" d="M0,-9.3 L1.9,-1.9 L9.3,0 L1.9,1.9 L0,9.3 L-1.9,1.9 L-9.3,0 L-1.9,-1.9 Z" fill="#fff" stroke="#000" stroke-width="1.85" stroke-linejoin="round"/><path transform="translate(108.5,555.5)" d="M0,-9.3 L1.9,-1.9 L9.3,0 L1.9,1.9 L0,9.3 L-1.9,1.9 L-9.3,0 L-1.9,-1.9 Z" fill="#fff" stroke="#000" stroke-width="1.85" stroke-linejoin="round"/><path transform="translate(122,541.1)" d="M0,-9.3 L1.9,-1.9 L9.3,0 L1.9,1.9 L0,9.3 L-1.9,1.9 L-9.3,0 L-1.9,-1.9 Z" fill="#fff" stroke="#000" stroke-width="1.85" stroke-linejoin="round"/><path transform="translate(255.5,537.5)" d="M0,-9.3 L1.9,-1.9 L9.3,0 L1.9,1.9 L0,9.3 L-1.9,1.9 L-9.3,0 L-1.9,-1.9 Z" fill="#fff" stroke="#000" stroke-width="1.85" stroke-linejoin="round"/><path transform="translate(296,528.5)" d="M0,-9.3 L1.9,-1.9 L9.3,0 L1.9,1.9 L0,9.3 L-1.9,1.9 L-9.3,0 L-1.9,-1.9 Z" fill="#fff" stroke="#000" stroke-width="1.85" stroke-linejoin="round"/><path transform="translate(300.5,552.5)" d="M0,-9.3 L1.9,-1.9 L9.3,0 L1.9,1.9 L0,9.3 L-1.9,1.9 L-9.3,0 L-1.9,-1.9 Z" fill="#fff" stroke="#000" stroke-width="1.85" stroke-linejoin="round"/><path transform="translate(321.5,546.5)" d="M0,-9.3 L1.9,-1.9 L9.3,0 L1.9,1.9 L0,9.3 L-1.9,1.9 L-9.3,0 L-1.9,-1.9 Z" fill="#fff" stroke="#000" stroke-width="1.85" stroke-linejoin="round"/><path transform="translate(504,544.1)" d="M0,-9.3 L1.9,-1.9 L9.3,0 L1.9,1.9 L0,9.3 L-1.9,1.9 L-9.3,0 L-1.9,-1.9 Z" fill="#fff" stroke="#000" stroke-width="1.85" stroke-linejoin="round"/><path transform="translate(574.5,557)" d="M0,-9.3 L1.9,-1.9 L9.3,0 L1.9,1.9 L0,9.3 L-1.9,1.9 L-9.3,0 L-1.9,-1.9 Z" fill="#fff" stroke="#000" stroke-width="1.85" stroke-linejoin="round"/><ellipse cx="96.8" cy="53.1" rx="5.5" ry="5" fill="#000"/><ellipse cx="190.2" cy="529" rx="5.5" ry="5" fill="#000"/><ellipse cx="266" cy="550.1" rx="5.5" ry="5" fill="#000"/><ellipse cx="333" cy="535.4" rx="5.5" ry="5" fill="#000"/><ellipse cx="368.4" cy="560" rx="5.5" ry="5" fill="#000"/><ellipse cx="520" cy="560.9" rx="5.5" ry="5" fill="#000"/><ellipse cx="208.4" cy="633.4" rx="5.5" ry="5" fill="#000"/><ellipse cx="348.2" cy="640" rx="5.5" ry="5" fill="#000"/><ellipse cx="362.4" cy="643" rx="5.5" ry="5" fill="#000"/><ellipse cx="373.5" cy="630.4" rx="5.5" ry="5" fill="#000"/><ellipse cx="467.4" cy="641.5" rx="5.5" ry="5" fill="#000"/><ellipse cx="545.4" cy="641" rx="5.5" ry="5" fill="#000"/><ellipse cx="566.4" cy="646" rx="5.5" ry="5" fill="#000"/><ellipse cx="598" cy="643" rx="5.5" ry="5" fill="#000"/><ellipse cx="657.7" cy="644.7" rx="5.5" ry="5" fill="#000"/>
<text x="51.70" y="783.2" font-family="'Liberation Serif', serif" font-weight="bold" font-size="39" fill="#000" text-anchor="middle" >10</text><text x="184.36" y="783.2" font-family="'Liberation Serif', serif" font-weight="bold" font-size="39" fill="#000" text-anchor="middle" >20</text><text x="317.01" y="783.2" font-family="'Liberation Serif', serif" font-weight="bold" font-size="39" fill="#000" text-anchor="middle" >30</text><text x="449.67" y="783.2" font-family="'Liberation Serif', serif" font-weight="bold" font-size="39" fill="#000" text-anchor="middle" >40</text><text x="582.33" y="783.2" font-family="'Liberation Serif', serif" font-weight="bold" font-size="39" fill="#000" text-anchor="middle" >50</text><text x="714.99" y="783.2" font-family="'Liberation Serif', serif" font-weight="bold" font-size="39" fill="#000" text-anchor="middle" >60</text><text x="847.64" y="783.2" font-family="'Liberation Serif', serif" font-weight="bold" font-size="39" fill="#000" text-anchor="middle" >70</text><text x="980.30" y="783.2" font-family="'Liberation Serif', serif" font-weight="bold" font-size="39" fill="#000" text-anchor="middle" >80</text><text x="529.3" y="821" font-family="'Liberation Serif', serif" font-weight="bold" font-size="39.5" fill="#000" text-anchor="middle" >2-Theta(degree)</text><text transform="translate(30,424) rotate(-90)" x="0" y="0" font-family="'Liberation Serif', serif" font-weight="bold" font-size="39" text-anchor="middle">Intensity(a.u.)</text><text x="118.5" y="33.3" font-family="'Liberation Serif', serif" font-weight="bold" font-size="39" textLength="51" lengthAdjust="spacingAndGlyphs">VO</text><text x="168.3" y="37.6" font-family="'Liberation Serif', serif" font-weight="bold" font-size="23.5">2</text><text x="180" y="29.2" font-family="'Liberation Serif', serif" font-weight="bold" font-size="32.5">(</text><text x="193.5" y="33.7" font-family="'Liberation Serif', serif" font-weight="bold" font-size="39">B</text><text x="221" y="29.2" font-family="'Liberation Serif', serif" font-weight="bold" font-size="32.5">)</text><text x="119.8" y="63.5" font-family="'Liberation Serif', serif" font-weight="bold" font-size="32.5">V</text><text x="143.5" y="72.3" font-family="'Liberation Serif', serif" font-weight="bold" font-size="23.5">2</text><text x="155.6" y="63.5" font-family="'Liberation Serif', serif" font-weight="bold" font-size="32.5">O</text><text x="181.2" y="72.3" font-family="'Liberation Serif', serif" font-weight="bold" font-size="23.5">5</text><text x="732.0999999999999" y="82.3" font-family="'Liberation Serif', serif" font-weight="bold" font-size="39" fill="#000" text-anchor="start" >(a)HT</text><text x="779.3" y="121.2" font-family="'Liberation Serif', serif" font-weight="bold" font-size="40" fill="#f78100" text-anchor="start" textLength="182" lengthAdjust="spacingAndGlyphs">180°C 2.0h</text><line x1="733" y1="106.3" x2="774.6" y2="106.3" stroke="#f78100" stroke-width="3.8"/><text x="732.8" y="171.0" font-family="'Liberation Serif', serif" font-weight="bold" font-size="39" fill="#000" text-anchor="start" >(b)HTMW</text><text x="780.2" y="200.3" font-family="'Liberation Serif', serif" font-weight="bold" font-size="40" fill="#800080" text-anchor="start" textLength="182" lengthAdjust="spacingAndGlyphs">120°C 2.0h</text><line x1="735" y1="193.6" x2="775.4" y2="193.6" stroke="#800080" stroke-width="3.8"/><text x="735.5" y="246.2" font-family="'Liberation Serif', serif" font-weight="bold" font-size="39" fill="#000" text-anchor="start" >(c)HTMW</text><text x="781.6" y="275.9" font-family="'Liberation Serif', serif" font-weight="bold" font-size="40" fill="#800000" text-anchor="start" textLength="182" lengthAdjust="spacingAndGlyphs">120°C 1.5h</text><line x1="736" y1="264.3" x2="777" y2="264.3" stroke="#800000" stroke-width="3.8"/><text x="738.5999999999999" y="324.9" font-family="'Liberation Serif', serif" font-weight="bold" font-size="39" fill="#000" text-anchor="start" >(d)HTMW</text><text x="781.0" y="353.7" font-family="'Liberation Serif', serif" font-weight="bold" font-size="40" fill="#ff0080" text-anchor="start" textLength="182" lengthAdjust="spacingAndGlyphs">120°C 1.0h</text><line x1="736" y1="340.7" x2="777" y2="340.7" stroke="#ff0080" stroke-width="3.8"/><text x="735.5" y="408.2" font-family="'Liberation Serif', serif" font-weight="bold" font-size="39" fill="#000" text-anchor="start" >(e)HTMW</text><text x="776.4" y="442.5" font-family="'Liberation Serif', serif" font-weight="bold" font-size="40" fill="#ff0000" text-anchor="start" textLength="182" lengthAdjust="spacingAndGlyphs">120°C 0.5h</text><line x1="736" y1="429.3" x2="777.7" y2="429.3" stroke="#ff0000" stroke-width="3.8"/><text x="743.8" y="544.2" font-family="'Liberation Serif', serif" font-weight="bold" font-size="39" fill="#000" text-anchor="start" >(f)</text><text x="783.3" y="571.9" font-family="'Liberation Serif', serif" font-weight="bold" font-size="40" fill="#0000ff" text-anchor="start" textLength="182" lengthAdjust="spacingAndGlyphs">120°C 2.0h</text><line x1="744" y1="560.4" x2="785" y2="560.4" stroke="#0000ff" stroke-width="3.8"/><text x="743.8" y="622.8" font-family="'Liberation Serif', serif" font-weight="bold" font-size="39" fill="#000" text-anchor="start" >(g)HTMW</text><text x="787.5" y="653.7" font-family="'Liberation Serif', serif" font-weight="bold" font-size="40" fill="#e0a82c" text-anchor="start" textLength="182" lengthAdjust="spacingAndGlyphs">120°C 0.3h</text><line x1="750" y1="642.2" x2="790.2" y2="642.2" stroke="#e0a82c" stroke-width="3.8"/><text x="788.3" y="544.2" font-family="'Liberation Serif', serif" font-weight="bold" font-size="39" fill="#000" text-anchor="start" >HT</text><text x="742.2" y="501.5" font-family="'Liberation Serif', serif" font-weight="bold" font-size="40.5" fill="#107010" textLength="228.2" lengthAdjust="spacingAndGlyphs">PDF#81-2392</text><text x="748.4" y="711.8" font-family="'Liberation Serif', serif" font-weight="bold" font-size="40.5" fill="#0f8080" textLength="228.5" lengthAdjust="spacingAndGlyphs">PDF#01-0359</text>
</svg></body></html>
